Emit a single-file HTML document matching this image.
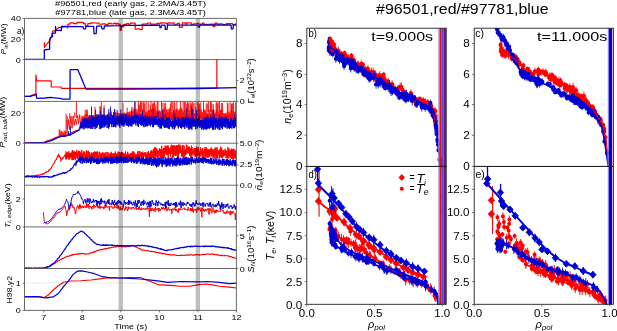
<!DOCTYPE html>
<html><head><meta charset="utf-8"><style>
html,body{margin:0;padding:0;background:#fff;overflow:hidden;}
svg{display:block;will-change:transform;}
</style></head><body>
<svg width="617" height="331" viewBox="0 0 617 331" font-family='"Liberation Sans", sans-serif'>
<rect width="617" height="331" fill="#fff"/>
<defs>
<clipPath id="cl0"><rect x="24.5" y="18.4" width="211.9" height="41.2"/></clipPath>
<clipPath id="cl1"><rect x="24.5" y="59.6" width="211.9" height="41.800000000000004"/></clipPath>
<clipPath id="cl2"><rect x="24.5" y="101.4" width="211.9" height="41.79999999999998"/></clipPath>
<clipPath id="cl3"><rect x="24.5" y="143.2" width="211.9" height="42.0"/></clipPath>
<clipPath id="cl4"><rect x="24.5" y="185.2" width="211.9" height="41.70000000000002"/></clipPath>
<clipPath id="cl5"><rect x="24.5" y="226.9" width="211.9" height="41.599999999999994"/></clipPath>
<clipPath id="cl6"><rect x="24.5" y="268.5" width="211.9" height="41.89999999999998"/></clipPath>
<clipPath id="cb"><rect x="306.8" y="28.2" width="139.4" height="138.2"/></clipPath>
<clipPath id="cc"><rect x="474.2" y="28.2" width="139.2" height="138.2"/></clipPath>
<clipPath id="cd"><rect x="306.8" y="166.4" width="139.4" height="138"/></clipPath>
<clipPath id="ce"><rect x="474.2" y="166.4" width="139.2" height="138"/></clipPath>
</defs>
<g clip-path="url(#cl0)">
<polyline points="44.3,42.2 44.3,47.6 44.3,47.09 44.9,46.29 45.5,45.88 46.1,44.83 46.7,44.41 47.3,43.6 47.9,42.71 48.5,42.28 49.1,41.29 49.7,40.83 50.3,39.63 50.9,38.09 51.5,36.25 52.1,33.5 52.7,31.02 53.3,30.93 53.9,31.03 54.5,31.07 55.1,30.58 55.7,29.97 56.3,29.82 56.9,28.76 57.5,28.75 58.1,27.91 58.7,27.46 59.3,27.36 59.9,27.39 60.5,27.61 61.1,27.14 61.7,27.3 62.3,27.25 62.9,27 63.5,27.02 64.1,26.65 64.7,26.56 65.3,26.56 65.9,26.76 66.5,26.53 67.1,26.69 67.7,27.98 68,24.05 70.13,24.05 70.13,22.83 73.12,22.83 73.12,23.37 74.73,23.37 74.73,23.66 77.04,23.66 77.04,22.31 79.87,22.31 79.87,22.41 83.32,22.41 83.32,23.71 85.36,23.71 85.36,26.48 86.74,26.48 86.74,25.87 87.84,25.87 87.84,23.65 90.75,23.65 90.75,22.93 93.94,22.93 93.94,22.99 96.68,22.99 96.68,23.14 99.13,23.14 99.13,24.23 102.23,24.23 102.23,23.86 104.41,23.86 104.41,23.97 105.56,23.97 105.56,24.5 108.18,24.5 108.18,23.45 111.24,23.45 111.24,24.02 113.2,24.02 113.2,23.66 114.26,23.66 114.26,23.08 115.68,23.08 115.68,24.1 116.83,24.1 116.83,23.24 118.15,23.24 118.15,24.2 120.13,24.2 120.13,30.32 121.33,30.32 121.33,26.9 123.7,26.9 123.7,24.45 126.75,24.45 126.75,23.6 128.45,23.6 128.45,24.25 130.34,24.25 130.34,23.04 133.74,23.04 133.74,23.17 135.18,23.17 135.18,29.05 136.76,29.05 136.76,28.85 139.23,28.85 139.23,29.23 140.24,29.23 140.24,29.58 142.17,29.58 142.17,24.08 145.55,24.08 145.55,23.94 147.84,23.94 147.84,23.01 150.53,23.01 150.53,24.14 153.78,24.14 153.78,24.13 156.96,24.13 156.96,23.47 158.94,23.47 158.94,23.83 160.2,23.83 160.2,22.91 161.36,22.91 161.36,23.05 162.88,23.05 162.88,22.85 164.73,22.85 164.73,22.99 165.73,22.99 165.73,23.32 166.99,23.32 166.99,24.13 168.05,24.13 168.05,22.95 170.58,22.95 170.58,23.24 172.22,23.24 172.22,22.86 174.13,22.86 174.13,24.23 177.25,24.23 177.25,23.39 179.41,23.39 179.41,27.36 180.63,27.36 180.63,27.11 182.48,27.11 182.48,22.88 185.56,22.88 185.56,24.17 186.61,24.17 186.61,22.91 188.93,22.91 188.93,22.75 191.29,22.75 191.29,24.3 193.61,24.3 193.61,23.88 196.77,23.88 196.77,23.38 198.42,23.38 198.42,24.05 199.84,24.05 199.84,24.09 202.17,24.09 202.17,23.22 204,23.22 204,24.47 207.03,24.47 207.03,24.23 210.16,24.23 210.16,24.16 213.2,24.16 213.2,26.7 214.77,26.7 214.77,23.05 216.66,23.05 216.66,23.46 217.73,23.46 217.73,24.14 219.38,24.14 219.38,23.77 222.77,23.77 222.77,24.67 226.11,24.67 226.11,23.7 229.5,23.7 229.5,23.5 231.05,23.5 231.05,23.48 232.54,23.48 232.54,24.62 235.1,24.62 235.1,23.97 236.4,23.97" fill="none" stroke="#ff0000" stroke-width="1.2" stroke-linejoin="round" />
<polyline points="24.5,59.3 44.3,59.3 44.3,50 49.6,49.2 49.7,39.1 50.7,37.3 52.5,36.7 52.5,33.1 55.5,33.1 55.5,26.5 55.8,30.1 59.1,30.4 61.3,30.7 61.6,26.5 83,26.6 83.5,28.9 85.5,28.9 86,26.4 93.6,26.4 94,33.7 96.2,33.7 96.6,26.2 101.5,26.2 102,28.9 104,28.9 104.5,26 118,25.6 120.5,25.4 121.2,27 122.2,25.4 130,25.3 159.5,25.2 160,27.7 161,27.7 161.5,25.2 165,25.2 165.3,29.4 167,29.4 167.4,25.2 197.8,25.2 198.5,27.2 199.5,27.2 200,25 231,25 231.4,28.9 233,28.9 233.4,25 236.4,24.8" fill="none" stroke="#0000d4" stroke-width="1.3" stroke-linejoin="round" />
</g>
<g clip-path="url(#cl1)">
<polyline points="24.5,96.3 30,96 31.7,95.3 35.5,94.2 35.9,94 35.9,75.2 36.4,78.5 36.9,80.9 37.5,80.9 51.1,80.9 51.3,87 61,87 61.5,88.3 100,88.3 150,88.4 198,88.2 216.8,88.2 216.9,55" fill="none" stroke="#ff0000" stroke-width="1.2" stroke-linejoin="round" />
<polyline points="24.5,96.3 30,96.4 31.7,96 35.9,94.6 36.3,94.2 36.5,97.9 37.5,98.4 45,98 50.6,97.4 52.5,97.6 61.8,98.7 62.2,99.2 70,99 70.1,70 71.5,69.7 77.5,69.7 78.2,70.5 85.9,89 130,89.2 198,88.5 236.4,87.6" fill="none" stroke="#0000d4" stroke-width="1.3" stroke-linejoin="round" />
</g>
<g clip-path="url(#cl2)">
<polyline points="24.5,142.78 25.3,142.85 26.1,142.49 26.9,142.78 27.7,142.9 28.5,142.84 29.3,142.83 30.1,142.69 30.9,142.54 31.7,142.84 32.5,142.62 33.3,142.85 34.1,142.94 34.9,142.65 35.7,142.65 36.5,142.92 37.3,142.81 38.1,142.54 38.9,142.51 39.7,142.53 40.5,142.84 41.3,142.69 42.1,142.26 42.9,142.5 43.7,142.48 44.5,142.1 45.3,141.65 46.1,141.45 46.9,140.95 47.7,140.6 48.5,140.79 49.3,140.33 50.1,139.97 50.9,139.86 51.7,139.29 52.5,139.19 53.3,138.84 54.1,138.22 54.9,137.92 55.7,137.65 56.5,137.35 57.3,137.24 58.1,136.79 58.9,136.59 59.7,136.32 60.5,136.61 61.3,136.22 62.1,136.16 62.9,136.08 63.7,136.1 64.5,135.72 65.3,135.83 66.1,135.46 66.9,135.13 67.7,134.79 68.5,134.2 69.3,134.07 70.1,133.58 70.9,133.03 71.7,132.97 72.5,132.2 73.3,131.89 74.1,131.58 74.9,131.19 75.7,130.78 76.5,130.57 77.3,130.29 78.1,130.09 78.9,129.35 79.7,129.18" fill="none" stroke="#ff0000" stroke-width="1.2" stroke-linejoin="round" />
<path d="M59.2,136.5V129.37M59.9,136.5V129.52M60.6,136.5V132.25M61.3,136.5V130.79M62,136.5V131.09M62.7,136.5V132.18M63.4,136.5V133.02M64.1,136.5V130.44M64.8,136.5V131.37M65.5,136.5V130.78M66.1,136V113.6M67.3,134V116" stroke="#ff0000" stroke-width="0.9" fill="none"/>
<polyline points="66.52,120.38 67.6,129.7 68.75,119.29 69.85,129.65 70.87,116.05 72.05,128.14 73.06,115.98 74.19,125.31 75.27,119.05 76.42,124.53 77.55,115.14 78.63,124.11 79.66,114.7 80.86,126.31 81.95,116.45" fill="none" stroke="#ff0000" stroke-width="0.9" stroke-linejoin="round" />
<polyline points="82,115.66 82.54,126.46 82.99,116.65 83.48,124.21 83.98,116.45 84.44,124.92 84.99,114.88 85.48,121.78 86,114.56 86.56,121.84 87.06,113.87 87.47,121.86 88.03,116.87 88.46,122.38 89.05,115.29 89.47,124.39 90.05,116.32 90.52,123.24 90.95,116.46 91.49,123.51 92.05,116.43 92.54,123.12 93.04,116.29 93.54,120.82 93.98,114.82 94.55,122.45 94.96,115.43 95.47,122.18 95.96,115.91 96.46,120.3 96.98,115.1 97.47,122.65 97.96,114.35 98.44,121.02 98.94,115.14 99.51,122.18 100,115.27 100.45,122.74 100.99,113.1 101.54,121.19 102,114.51 102.56,121.78 103.04,114.65 103.52,121.78 103.98,114.42 104.46,119.54 105.03,115.5 105.46,120.16 106.04,115.42 106.52,122.14 106.97,114.73 107.5,120.17 107.99,115.11 108.56,120.01 109.01,112.41 109.56,119.9 109.98,114.55 110.49,119.05 111,113.99 111.5,119.65 111.97,115.47 112.49,119.23 112.94,115.32 113.47,119.87 114,113.55 114.52,121.24 115.05,113.1 115.48,120.03 115.96,112.23 116.52,121.03 117.04,115.18 117.52,121.49 118.04,112.98 118.5,119.07 119.04,113.67 119.54,121.09 120.05,113.39 120.52,120.65 120.94,114.46 121.48,118.89 122.04,114.82 122.52,120.14 123.02,113.19 123.44,119.87 124.03,112.64 124.5,119.86 124.95,113.03 125.47,120.49 125.97,114.58 126.46,120.38 127.06,112.23 127.49,119.54 128.02,112.8 128.51,120.33 128.95,111.99 129.47,118.16 129.98,111.38 130.44,119.5 130.97,113.5 131.52,119.83 131.97,111.07 132.5,119.23 132.95,111.58 133.46,120.6 134.05,109.38 134.5,117.22 135.06,109.7 135.47,118.85 136.05,112.07 136.51,117.91 137,112.32 137.46,120.81 138,109.64 138.52,120.56 139.05,111.94 139.44,118.98 140,112.82 140.48,118.84 140.98,112.26 141.54,118.3 142.03,112.8 142.45,120.36 143.03,109.13 143.47,120.61 143.99,111.31 144.51,121 144.99,111.33 145.45,118.12 146.04,112.35 146.55,118.16 146.97,111.75 147.46,119.05 148.05,111.24 148.54,120.54 149.05,110.19 149.51,120.76 149.95,109.82 150.49,119.93 151.02,109.67 151.45,118.14 151.96,108.95 152.48,118.88 153.03,111.46 153.47,120.9 153.98,110 154.49,119.22 154.96,111.96 155.55,117.81 155.97,110.61 156.56,120.62 156.96,110.78 157.45,117.73 157.95,111.2 158.47,117.92 159.05,110.27 159.49,119.98 160,110.88 160.48,118.49 160.97,112.33 161.46,120.94 162.02,110.55 162.47,120.56 162.97,111.53 163.49,118.71 164.04,108.74 164.44,120.7 165.03,112.55 165.5,120.84 165.94,110.28 166.55,118.8 167.04,109.31 167.47,121.26 167.96,112.31 168.52,119.44 169.03,108.86 169.53,120 170.01,110.9 170.53,117.5 171.05,111.86 171.48,120.09 171.97,112.32 172.52,120.09 172.95,112.41 173.51,119.66 173.97,111.27 174.44,120.03 175,111.65 175.52,121.6 176,109.19 176.47,118.56 177.02,108.88 177.44,118.91 178.02,110.87 178.47,119.44 179.05,110.17 179.44,118.65 179.99,111.6 180.46,120.66 181.03,109.64 181.46,119.93 181.98,108.91 182.47,121.34 183.03,112.17 183.55,119.11 183.96,111 184.49,118.84 185.05,110.27 185.49,118.54 186.06,112.27 186.45,118.56 186.99,112.96 187.55,121.93 188.06,110.03 188.48,122.12 189.05,112.46 189.44,121.35 189.99,110.36 190.48,119.75 190.94,112.58 191.48,119.37 191.95,109.1 192.46,122.47 193.04,111.78 193.49,121.88 194,113.18 194.55,119.91 194.98,112.56 195.44,122.31 196.04,111.6 196.44,121.77 196.95,113.32 197.47,122.51 198.05,110.12 198.47,119.93 199.01,109.18 199.53,119.62 199.97,112.11 200.53,118.48 201.02,109.41 201.44,122.76 202,112.53 202.55,122.84 202.97,111.87 203.5,120.46 203.96,109.44 204.53,122.17 205.03,109.94 205.48,121.3 205.98,112.24 206.45,122.1 207.03,112.82 207.45,119.7 208.01,113.58 208.56,120.07 209.06,109.77 209.45,119.82 210,113.35 210.49,121.84 210.99,112.75 211.52,121.45 212.04,110.46 212.45,121.66 212.98,110.07 213.48,121.24 213.96,110.56 214.47,119.82 215.05,113.21 215.48,121.32 216.06,112.14 216.47,121.02 217.02,110.32 217.45,123.2 218.04,111.84 218.55,122.54 218.98,113.81 219.46,119.34 220.01,109.67 220.48,122.97 220.99,110.17 221.53,120 221.95,109.85 222.51,121.51 222.98,113.11 223.46,119.51 224.01,112.97 224.46,121.79 224.98,114.07 225.46,121.92 225.96,112.76 226.51,122.46 226.95,113.89 227.51,120.7 227.95,111.37 228.52,119.69 228.97,112.41 229.55,120.35 230.01,112.86 230.49,120.58 231.06,110.45 231.46,120.63 231.96,111.08 232.55,119.07 233.04,112.44 233.55,120.85 233.96,112.31 234.51,119.14 235.05,111.54 235.51,119.49 236,112.75" fill="none" stroke="#ff0000" stroke-width="0.9" stroke-linejoin="round" />
<path d="M69.8,119.11V113.16M74.7,117.82V112.38M85.2,116V109.7M86.6,116V110.09M87.3,116V109.47M95,115.75V106.75M99.9,115.5V105.95M100.6,115.49V106.86M101.3,115.47V101.94M104.1,115.42V105.31M114.6,115.21V109.48M123,115.04V102.78M127.2,114.34V107.58M131.4,113.08V108.6M132.1,112.87V106.93M134.2,112.24V107.01M134.9,112.03V101.39M136.3,111.97V108.85M138.4,111.93V101.27M139.1,111.92V104.42M139.8,111.9V105.43M140.5,111.89V100.58M141.2,111.88V100.87M141.9,111.86V102.54M143.3,111.83V102.16M144,111.82V102.17M144.7,111.81V103.55M146.1,111.78V100.54M148.2,111.74V102.05M150.3,111.69V105.09M151,111.68V100.7M152.4,111.65V103.79M153.1,111.64V102.63M153.8,111.62V103.35M154.5,111.61V101.55M155.2,111.6V107.46M155.9,111.58V104.53M157.3,111.55V100.87M158,111.54V101.67M161.5,111.52V102.03M162.9,111.54V102.75M164.3,111.55V102.97M165,111.56V107.55M165.7,111.57V102.81M169.9,111.62V107.54M170.6,111.63V103.35M171.3,111.64V100.77M172.7,111.66V100.87M174.1,111.68V100.6M174.8,111.68V102.72M176.9,111.71V101.77M179.7,111.75V108.52M180.4,111.75V100.89M181.1,111.76V107.3M183.2,111.79V100.84M184.6,111.81V101.98M185.3,111.82V101.49M186.7,111.83V103.87M187.4,111.84V101.24M188.1,111.85V103.21M188.8,111.86V102.7M190.2,111.88V101.01M190.9,111.89V104.9M191.6,111.89V103.29M192.3,111.9V101.72M193.7,111.92V102.7M195.1,111.94V102.73M195.8,111.95V107.25M197.2,111.96V101.88M198.6,111.98V102.65M199.3,111.99V104.03M200.7,112.02V102.36M203.5,112.1V101.04M206.3,112.17V103.21M207.7,112.21V103.6M208.4,112.23V101.56M210.5,112.29V101.37M211.2,112.31V101.06M211.9,112.33V103.91M213.3,112.37V104.21M216.1,112.44V102.73M216.8,112.46V101.86M217.5,112.48V103.27M218.9,112.52V102.12M219.6,112.54V101.92M221.7,112.6V103.12M222.4,112.62V103.03M227.3,112.75V102.7M228,112.77V103.24M230.1,112.83V102.09M231.5,112.87V103.76M232.2,112.88V103.22M232.9,112.9V103.91M233.6,112.92V101.06M235.7,112.98V102.51M76.4,118V101" stroke="#ff0000" stroke-width="0.9" fill="none"/>
<polyline points="24.5,142.92 25.3,142.99 26.1,142.9 26.9,142.96 27.7,143.03 28.5,142.91 29.3,142.86 30.1,143.08 30.9,142.78 31.7,142.97 32.5,142.86 33.3,143.01 34.1,142.75 34.9,143.09 35.7,142.84 36.5,142.72 37.3,142.81 38.1,142.86 38.9,142.71 39.7,142.87 40.5,142.87 41.3,142.98 42.1,142.84 42.9,142.81 43.7,142.79 44.5,142.78 45.3,142.62 46.1,142.21 46.9,141.84 47.7,141.83 48.5,141.42 49.3,141.1 50.1,140.81 50.9,140.75 51.7,140.44 52.5,140.05 53.3,139.67 54.1,139.38 54.9,138.93 55.7,138.77 56.5,138.06 57.3,137.7 58.1,137.3 58.9,137.03 59.7,136.73 60.5,136.51 61.3,136.46 62.1,136.14 62.9,136.37 63.7,136.11 64.5,136.25 65.3,135.96 66.1,135.93 66.9,135.68 67.7,135.55 68.5,135.25 69.3,134.98 70.1,135.04 70.9,134.43 71.7,133.99 72.5,133.59 73.3,133.21 74.1,132.71 74.9,132.31 75.7,131.84 76.5,131.24 77.3,131.05 78.1,130.7 78.9,130.06 79.7,130.05" fill="none" stroke="#0000d4" stroke-width="1.3" stroke-linejoin="round" />
<path d="M70.4,135.5V126.5M68.6,136V131" stroke="#0000d4" stroke-width="0.9" fill="none"/>
<polyline points="79.53,127.12 79.94,129.44 80.24,124.66 80.75,128.17 81.07,122.01 81.46,127.89 81.93,122.69 82.26,128.49 82.74,119.39 83.15,127.53 83.53,119.71 83.95,129.39 84.34,118.3 84.72,127.23 85.13,119.13 85.55,128.2 85.87,118.73 86.26,127.16 86.65,118.73 87.06,128.14 87.5,118.45 87.94,128.4 88.34,120.51 88.71,127.97 89.14,117.03 89.49,127.41 89.85,115.24 90.32,128.64 90.71,119.82 91.15,128.79 91.56,118.22 91.9,127.84 92.24,115.29 92.72,128.81 93.14,118.02 93.5,126.96 93.93,117 94.29,126.09 94.71,117.44 95.08,129.12 95.49,115.32 95.87,127.41 96.36,116.86 96.74,128.09 97.08,117.66 97.51,126.22 97.93,116.05 98.33,124.83 98.71,114.71 99.08,124.8 99.46,119.06 99.91,129.11 100.33,115.72 100.71,128.99 101.12,115.9 101.51,127.86 101.87,115.56 102.29,127.65 102.65,115.14 103.04,125.17 103.55,115.06 103.88,127.47 104.33,114.81 104.67,126.95 105.09,117.35 105.49,125.69 105.95,115.66 106.31,124.34 106.65,118.59 107.11,127.98 107.49,114.27 107.89,124.04 108.35,115.84 108.7,128.68 109.05,116.69 109.47,126.99 109.84,117.93 110.32,123.85 110.76,118.04 111.14,124.2 111.44,117.98 111.87,127.17 112.26,115.07 112.73,123.92 113.14,115.14 113.45,127.09 113.93,115.53 114.35,125.76 114.76,117.28 115.04,126.91 115.52,118.37 115.85,127.32 116.33,116.96 116.74,124.21 117.05,116.11 117.51,125.1 117.92,116.31 118.34,124.01 118.72,116.64 119.09,126.2 119.53,116.51 119.93,127.59 120.28,115.65 120.76,123.46 121.14,115.01 121.51,124.65 121.94,113.74 122.28,125.83 122.75,116.22 123.12,124.75 123.55,115.41 123.87,126.64 124.27,118.1 124.71,124.84 125.15,114.41 125.54,123.08 125.94,114.41 126.27,125.4 126.74,114.22 127.15,125.84 127.45,116.44 127.94,125.2 128.33,117.07 128.67,126.81 129.12,115.25 129.46,124.69 129.93,116.77 130.3,126.09 130.74,117.54 131.07,126.03 131.55,115.45 131.9,126.55 132.31,115.95 132.66,123.55 133.12,117.29 133.51,124.33 133.9,116.38 134.25,123.43 134.68,113.86 135.12,123.28 135.46,114.83 135.88,125.42 136.24,116.03 136.76,123.03 137.1,114.6 137.47,125.34 137.89,115.03 138.33,126.98 138.76,114.92 139.04,124.06 139.46,117.59 139.85,123.37 140.34,116.14 140.75,124.98 141.05,114.71 141.49,125.6 141.96,118.08 142.31,124.2 142.75,115.96 143.09,125.95 143.46,116.81 143.96,127.21 144.24,117.81 144.68,124.28 145.15,115.04 145.45,126.71 145.93,115.57 146.36,125.95 146.66,118.64 147.15,126.42 147.48,116.14 147.93,125.77 148.28,118.53 148.65,124.43 149.06,117.05 149.46,124.39 149.84,116.3 150.26,126.38 150.75,118.99 151.15,124.44 151.55,115.69 151.89,124.2 152.35,118.9 152.72,127.13 153.08,117.53 153.5,127.13 153.86,116.9 154.25,124.77 154.71,116.63 155.14,124.54 155.49,118.53 155.87,124.66 156.28,116.28 156.7,124.79 157.15,118.48 157.56,124.65 157.95,119.62 158.27,126.98 158.67,117.99 159.06,125.39 159.56,118.53 159.95,128.48 160.27,119.7 160.65,128.15 161.08,117.22 161.44,128.56 161.88,116.97 162.24,125.24 162.7,116.95 163.09,125.5 163.47,116.71 163.86,127.15 164.33,119.76 164.66,127.8 165.05,120.25 165.5,127.46 165.86,119.54 166.32,127.56 166.71,117.44 167.05,125.97 167.49,117.84 167.85,128.16 168.28,117.6 168.74,128.73 169.04,118.97 169.5,129.09 169.87,117.51 170.34,126.2 170.66,119.56 171.11,126.96 171.5,121.03 171.9,127.27 172.33,120.56 172.74,128.79 173.13,119.73 173.53,127.02 173.94,120.79 174.3,129.38 174.7,118.92 175.04,127.68 175.47,117.04 175.85,126.22 176.34,119.99 176.65,125.6 177.06,118.13 177.51,125.55 177.9,118.63 178.25,128.4 178.73,117.4 179.05,125.68 179.5,118.95 179.85,126.66 180.26,119.31 180.74,127.97 181.11,120.38 181.46,128.63 181.95,117.53 182.29,127.14 182.7,117.46 183.15,127.18 183.48,117.71 183.88,126.53 184.36,119.14 184.75,128.92 185.14,117.53 185.5,125.75 185.95,116.91 186.29,126.59 186.68,118.28 187.05,127.79 187.5,119.12 187.86,125.63 188.33,116.82 188.72,129.54 189.15,117.5 189.44,129.33 189.87,118.2 190.27,128.46 190.75,118.62 191.07,128.23 191.49,118.7 191.87,129.65 192.32,119.62 192.71,126.09 193.1,116.8 193.5,126.73 193.86,118.62 194.26,126.12 194.69,119.65 195.07,126.83 195.51,120.53 195.91,129.24 196.32,118.43 196.73,126.47 197.11,118.9 197.5,128.27 197.87,119.54 198.3,126.57 198.71,119.22 199.08,125.66 199.47,117.11 199.9,128.05 200.36,119.64 200.73,126.91 201.05,120.2 201.49,129.44 201.89,120.63 202.33,127.55 202.67,120.43 203.13,129.82 203.48,120.24 203.92,127.17 204.34,118.24 204.7,129.22 205.13,117.71 205.5,128.95 205.93,117.52 206.26,129.63 206.64,117.15 207.11,128.98 207.56,118.79 207.89,128.14 208.34,117.56 208.69,128.29 209.09,119.01 209.48,128.8 209.91,119.28 210.28,127.33 210.74,117.57 211.09,127.83 211.48,120.2 211.91,126.29 212.25,118.48 212.68,129.65 213.14,117.36 213.46,129.82 213.95,119.17 214.25,125.72 214.7,118.58 215.13,129.66 215.56,118.71 215.9,127.92 216.29,118.08 216.71,127.23 217.15,119.53 217.5,128.61 217.88,120.63 218.31,127.42 218.75,118.59 219.1,129.85 219.51,119.18 219.88,129.98 220.34,118.8 220.68,126.44 221.14,116.88 221.45,127.91 221.92,117.25 222.36,129.23 222.69,117.29 223.07,126.39 223.5,118.91 223.86,126.52 224.31,118.42 224.76,127.23 225.05,118.4 225.53,127.48 225.92,119.82 226.28,125.75 226.71,117.54 227.06,128.58 227.51,119.02 227.92,126.87 228.36,118.89 228.69,128.19 229.06,120.64 229.45,128.98 229.86,120.74 230.34,127.97 230.74,118.57 231.04,126.02 231.48,117.91 231.88,128.79 232.27,120.47 232.75,126.18 233.08,118.73 233.49,127.67 233.95,120.97 234.36,128.23 234.71,119.35 235.05,126.82 235.54,117.28 235.95,127.1 236.28,117.78" fill="none" stroke="#0000d4" stroke-width="1.0" stroke-linejoin="round" />
<path d="M95.6,116.44V109.67M96.8,116.32V114.11M100.4,115.99V110.73M104,115.93V107.85M108.8,115.85V108.94M111.2,115.81V111.53M113.6,115.77V111.78M114.8,115.75V108.82M117.2,115.71V109.98M120.8,115.65V109.35M131.6,115.62V111.68M142.4,116.43V110.81M153.2,117.32V108.47M158,117.8V111.95M162.8,118.28V109.89M165.2,118.52V113.82M173.6,118.94V109.75M174.8,118.92V113.74M186.8,118.72V108.12M191.6,118.64V107.39M192.8,118.62V108.91M196.4,118.56V109.97M198.8,118.52V114.99M207.2,118.6V115.01M210.8,118.65V115.24M213.2,118.68V109.37M214.4,118.7V114.68M219.2,118.76V113.78M225.2,118.85V116.32M234.8,118.98V113.97M91.5,120V106.5M110.5,118V106.7M135,117V101.5" stroke="#0000d4" stroke-width="0.9" fill="none"/>
</g>
<g clip-path="url(#cl3)">
<polyline points="24.5,175.61 24.85,176.24 25.2,176.63 25.55,176.63 25.9,176.71 26.25,176.37 26.6,176.31 26.95,176 27.3,175.45 27.65,175.97 28,175.95 28.35,175.89 28.7,176.17 29.05,176.26 29.4,175.95 29.75,176.37 30.1,176.2 30.45,176.36 30.8,176.41 31.15,176.45 31.5,175.97 31.85,175.87 32.2,176.08 32.55,176.41 32.9,175.37 33.25,176.26 33.6,175.86 33.95,176.2 34.3,176.07 34.65,175.78 35,175.58 35.35,175.67 35.7,175.87 36.05,175.31 36.4,175.61 36.75,175.36 37.1,175.28 37.45,175.07 37.8,174.87 38.15,175.43 38.5,175.32 38.85,175.06 39.2,175.06 39.55,175.35 39.9,175.05 40.25,175 40.6,174.72 40.95,174.82 41.3,174.39 41.65,174.03 42,174.41 42.35,174.24 42.7,173.65 43.05,173.85 43.4,173.71 43.75,173.61 44.1,174.3 44.45,173.3 44.8,173.1 45.15,172.83 45.5,172.65 45.85,171.86 46.2,172.41 46.55,172.24 46.9,171.69 47.25,171.75 47.6,171.58 47.95,171.51 48.3,171.55 48.65,170.63 49,170.05 49.35,169.69 49.7,170.14 50.05,169.26 50.4,168.96 50.75,168.71 51.1,168.06 51.45,167.6 51.8,167.16 52.15,165.96 52.5,165.85 52.85,165.46 53.2,164.28 53.55,163.58 53.9,163.56 54.25,162.69 54.6,162.27 54.95,160.97 55.3,160.88 55.65,160 56,159.82 56.35,159.39 56.7,158.04 57.05,157.71 57.4,156.47 57.75,155.93 58.1,155.67 58.45,154.17 58.8,156.84 59.15,156.7 59.5,155.87 59.85,156.6 60.2,158.12 60.55,157.41 60.9,161.38 61.25,159.67 61.6,158.86 61.95,158.84 62.3,157.82 62.65,158.87 63,158.34 63.35,157.34 63.7,156.76 64.05,156.73 64.4,155.83 64.75,154.93 65.1,155.66 65.45,155.08 65.8,155.83" fill="none" stroke="#ff0000" stroke-width="1.1" stroke-linejoin="round" />
<polyline points="65.5,155.43 65.78,159.43 66.06,151.4 66.34,159.24 66.62,153.08 66.9,157.1 67.18,152.03 67.46,158.14 67.74,153 68.02,157.35 68.3,152.86 68.58,158.79 68.86,151.17 69.14,159.76 69.42,154.13 69.7,157.11 69.98,152.69 70.26,158.36 70.54,153.09 70.82,156.56 71.1,154.5 71.38,157.22 71.66,152.45 71.94,160.11 72.22,150.41 72.5,159.69 72.78,150.07 73.06,160.11 73.34,151.54 73.62,159.48 73.9,154.5 74.18,158.89 74.46,151.47 74.74,157.02 75.02,151.59 75.3,160.14 75.58,151.98 75.86,158.77 76.14,152.87 76.42,157.25 76.7,149.95 76.98,155.21 77.26,153.43 77.54,158.94 77.82,151.93 78.1,155.62 78.38,150.8 78.66,157.37 78.94,151.14 79.22,157.61 79.5,151.34 79.78,158.39 80.06,152.01 80.34,155.79 80.62,153.34 80.9,160.01 81.18,151.32 81.46,155.85 81.74,149.85 82.02,156.79 82.3,154.07 82.58,158.33 82.86,153.11 83.14,158.14 83.42,151.53 83.7,156.72 83.98,151.49 84.26,156.04 84.54,151.85 84.82,158.72 85.1,154.4 85.38,157.83 85.66,154.5 85.94,158.02 86.22,150.38 86.5,158.6 86.78,151.12 87.06,159.6 87.34,154.35 87.62,160.65 87.9,151.22 88.18,156.22 88.46,150.79 88.74,157.92 89.02,154.13 89.3,160.56 89.58,152.14 89.86,159.78 90.14,154.44 90.42,159.8 90.7,155.02 90.98,157.22 91.26,153.24 91.54,155.8 91.82,152.23 92.1,157.15 92.38,153.72 92.66,159.58 92.94,153.14 93.22,160.37 93.5,152.3 93.78,160.32 94.06,152.62 94.34,160.52 94.62,151.35 94.9,157.07 95.18,151.94 95.46,158.02 95.74,151.93 96.02,159.59 96.3,151.74 96.58,156.91 96.86,153.79 97.14,159.87 97.42,151.38 97.7,159.83 97.98,155.7 98.26,159.35 98.54,155.38 98.82,159.14 99.1,152.16 99.38,157.04 99.66,151.74 99.94,159.72 100.22,154.66 100.5,157.51 100.78,153.75 101.06,160.34 101.34,153.16 101.62,157.05 101.9,156 102.18,157.02 102.46,152.25 102.74,157.42 103.02,153.25 103.3,157.93 103.58,152.7 103.86,158.34 104.14,155.17 104.42,160.38 104.7,153.3 104.98,159.63 105.26,152.2 105.54,160.62 105.82,155.98 106.1,158.11 106.38,155.09 106.66,158.8 106.94,151.93 107.22,160 107.5,155.78 107.78,157.28 108.06,152.13 108.34,159.49 108.62,153.88 108.9,158.63 109.18,155.01 109.46,160.1 109.74,153.86 110.02,160.19 110.3,152.93 110.58,156.62 110.86,154.14 111.14,157.38 111.42,151.82 111.7,159.02 111.98,155.64 112.26,157.11 112.54,153.97 112.82,158.49 113.1,153.04 113.38,158.13 113.66,153.99 113.94,156.05 114.22,153.02 114.5,157.85 114.78,155.75 115.06,158.39 115.34,151.45 115.62,156.32 115.9,154.96 116.18,159.22 116.46,154.32 116.74,157.52 117.02,153.31 117.3,157.45 117.58,153.02 117.86,158.6 118.14,151.53 118.42,160.36 118.7,155.57 118.98,158.7 119.26,152.22 119.54,159.88 119.82,152.2 120.1,158.96 120.38,152.73 120.66,157.83 120.94,154.21 121.22,159.54 121.5,151.82 121.78,160.05 122.06,152.53 122.34,157.52 122.62,152.21 122.9,159.28 123.18,153.2 123.46,158.87 123.74,153.86 124.02,158.52 124.3,153.61 124.58,156.23 124.86,153.9 125.14,157.54 125.42,151.37 125.7,158.19 125.98,153.75 126.26,157.15 126.54,154.34 126.82,157.61 127.1,154.82 127.38,155.79 127.66,151.77 127.94,158.01 128.22,153.4 128.5,158.46 128.78,154 129.06,156.72 129.34,155.17 129.62,157.33 129.9,153.95 130.18,159.02 130.46,152.93 130.74,159.78 131.02,153.77 131.3,159.72 131.58,152.75 131.86,156.18 132.14,154.48 132.42,158.44 132.7,151.2 132.98,157.51 133.26,151.95 133.54,157.81 133.82,151.57 134.1,156.06 134.38,153.03 134.66,159.64 134.94,153.92 135.22,157.03 135.5,155.28 135.78,156.56 136.06,153.92 136.34,158.9 136.62,154.14 136.9,157.64 137.18,154.21 137.46,158.49 137.74,151.39 138.02,158.66 138.3,154.19 138.58,159 138.86,150.97 139.14,158.46 139.42,154.8 139.7,159.28 139.98,151.24 140.26,157.33 140.54,154.43 140.82,156.58 141.1,152.53 141.38,159.53 141.66,152.08 141.94,159.71 142.22,153.97 142.5,157.23 142.78,151.59 143.06,158.63 143.34,153.01 143.62,158.75 143.9,153.3 144.18,155.76 144.46,152.93 144.74,155.66 145.02,151.99 145.3,157.23 145.58,152.53 145.86,158.39 146.14,153.61 146.42,157.8 146.7,155.05 146.98,159.71 147.26,152.07 147.54,159.89 147.82,154.49 148.1,158.27 148.38,150.97 148.66,156.84 148.94,153.93 149.22,155.78 149.5,153.46 149.78,158.68 150.06,153.64 150.34,158.81 150.62,151.57 150.9,157.45 151.18,150.56 151.46,157.44 151.74,150.03 152.02,157.57 152.3,151.51 152.58,158.16 152.86,151.75 153.14,157.93 153.42,148.89 153.7,158.17 153.98,151.1 154.26,158.07 154.54,147.43 154.82,156.31 155.1,150.93 155.38,156.6 155.66,147.15 155.94,154.07 156.22,152.64 156.5,156.13 156.78,148.19 157.06,157.68 157.34,149.69 157.62,158.72 157.9,150.38 158.18,157.42 158.46,151.26 158.74,152.5 159.02,150.74 159.3,152.72 159.58,148.23 159.86,156.06 160.14,150.29 160.42,158.18 160.7,149.01 160.98,153.36 161.26,150.27 161.54,157.08 161.82,145.72 162.1,153.43 162.38,151.49 162.66,157.29 162.94,149.72 163.22,158.41 163.5,148.02 163.78,156.47 164.06,148.97 164.34,157.41 164.62,148.2 164.9,154.51 165.18,145.58 165.46,152.9 165.74,146.5 166.02,152.51 166.3,146.98 166.58,154.99 166.86,145.69 167.14,152.42 167.42,147.4 167.7,155.03 167.98,145.3 168.26,158.2 168.54,146.95 168.82,153.72 169.1,149.36 169.38,153.98 169.66,148.09 169.94,153.75 170.22,149.67 170.5,157.13 170.78,146.72 171.06,154.2 171.34,144.65 171.62,153.59 171.9,147.1 172.18,153.11 172.46,145.31 172.74,157.76 173.02,149.06 173.3,157.07 173.58,145.51 173.86,154.05 174.14,148.61 174.42,155.43 174.7,145.12 174.98,153.13 175.26,146.34 175.54,156.14 175.82,147.78 176.1,156.02 176.38,145.16 176.66,153.51 176.94,145.16 177.22,154.59 177.5,145.76 177.78,157.72 178.06,149.71 178.34,157.73 178.62,144.53 178.9,154.15 179.18,151.14 179.46,152.71 179.74,144.64 180.02,151.67 180.3,145 180.58,153.04 180.86,146.02 181.14,152.59 181.42,149.81 181.7,156.66 181.98,150.48 182.26,154.45 182.54,144.96 182.82,156.86 183.1,145.17 183.38,158.39 183.66,151.04 183.94,153.69 184.22,145.69 184.5,156.7 184.78,150.99 185.06,155.55 185.34,149.33 185.62,155.07 185.9,150.35 186.18,151.81 186.46,144.55 186.74,154.29 187.02,145.19 187.3,152.81 187.58,147.66 187.86,152.99 188.14,148.13 188.42,153.38 188.7,146.63 188.98,153.18 189.26,146.43 189.54,155.64 189.82,150.63 190.1,154.73 190.38,148.06 190.66,158.07 190.94,149.07 191.22,153.86 191.5,145.61 191.78,157.88 192.06,146.99 192.34,154.34 192.62,150.48 192.9,154.32 193.18,151.4 193.46,152.69 193.74,148.53 194.02,155.29 194.3,148.36 194.58,155.05 194.86,152.16 195.14,156.91 195.42,148.02 195.7,156.15 195.98,148.68 196.26,156.95 196.54,146.57 196.82,157.89 197.1,147.99 197.38,155.42 197.66,150.25 197.94,155.56 198.22,146.96 198.5,155.41 198.78,150.03 199.06,155.57 199.34,151.54 199.62,158.49 199.9,152.66 200.18,156.62 200.46,147.34 200.74,154.7 201.02,148.88 201.3,155.42 201.58,150.93 201.86,154.38 202.14,151.76 202.42,157.86 202.7,148.03 202.98,158.19 203.26,152.29 203.54,157.17 203.82,150.46 204.1,156.95 204.38,149.23 204.66,155.17 204.94,147.13 205.22,152.88 205.5,148.22 205.78,158.04 206.06,149.45 206.34,156.75 206.62,147.02 206.9,154.74 207.18,148.83 207.46,157.56 207.74,150.19 208.02,157.42 208.3,150.11 208.58,156.47 208.86,148.92 209.14,157.29 209.42,150.54 209.7,157.06 209.98,149.3 210.26,154.76 210.54,148.94 210.82,155.04 211.1,147.44 211.38,156.27 211.66,148.35 211.94,156.55 212.22,149.64 212.5,154.78 212.78,151.71 213.06,158.68 213.34,149.33 213.62,156.6 213.9,149.32 214.18,158.15 214.46,151.03 214.74,154.48 215.02,147.72 215.3,156.28 215.58,148.66 215.86,158.28 216.14,147.31 216.42,158.51 216.7,152.47 216.98,155.85 217.26,147.59 217.54,158.29 217.82,151.8 218.1,154.38 218.38,150.89 218.66,153.99 218.94,150.21 219.22,158.28 219.5,149.21 219.78,156.34 220.06,152.06 220.34,156 220.62,146.61 220.9,157.75 221.18,149.6 221.46,156.53 221.74,147.61 222.02,158.13 222.3,151.56 222.58,157.72 222.86,150.07 223.14,156.82 223.42,150.91 223.7,155.91 223.98,150.22 224.26,155.99 224.54,152.71 224.82,154.78 225.1,148.78 225.38,153.64 225.66,151.31 225.94,158.03 226.22,150.62 226.5,155.66 226.78,150.84 227.06,158.72 227.34,151.99 227.62,157.61 227.9,147.05 228.18,154.83 228.46,149.6 228.74,158.54 229.02,148.39 229.3,156.02 229.58,152.41 229.86,156.49 230.14,149.96 230.42,158.16 230.7,150.56 230.98,156.37 231.26,148.49 231.54,158.78 231.82,150.42 232.1,156.35 232.38,149.17 232.66,159.45 232.94,151.73 233.22,159.72 233.5,148.7 233.78,156.44 234.06,149.09 234.34,156.24 234.62,152.97 234.9,158.7 235.18,150.97 235.46,157.5 235.74,150.42 236.02,159.5 236.3,149.17" fill="none" stroke="#ff0000" stroke-width="0.9" stroke-linejoin="round" />
<polyline points="24.5,177.22 24.85,177.16 25.2,176.78 25.55,176.32 25.9,176.79 26.25,176.89 26.6,176.39 26.95,175.97 27.3,176.82 27.65,176.32 28,176.85 28.35,176.05 28.7,176.65 29.05,176.42 29.4,176.2 29.75,176.62 30.1,176.76 30.45,176.51 30.8,176.3 31.15,176.77 31.5,176.1 31.85,176.88 32.2,176.87 32.55,177.27 32.9,177 33.25,176.82 33.6,176.79 33.95,176.71 34.3,176.25 34.65,177.2 35,176.88 35.35,176.6 35.7,176.31 36.05,177.2 36.4,176.88 36.75,176.3 37.1,176.93 37.45,177.34 37.8,176.69 38.15,176.84 38.5,176.56 38.85,176.49 39.2,177.06 39.55,177.75 39.9,176.74 40.25,176.66 40.6,176.97 40.95,176.6 41.3,176.95 41.65,176.98 42,176.35 42.35,176.34 42.7,176.67 43.05,176.98 43.4,176.79 43.75,177.12 44.1,176.23 44.45,176.87 44.8,176.49 45.15,176.73 45.5,176.81 45.85,176.37 46.2,176.62 46.55,176.3 46.9,176.79 47.25,176.41 47.6,176.53 47.95,176.77 48.3,176.57 48.65,177.29 49,176.78 49.35,177.39 49.7,177.31 50.05,176.93 50.4,177.09 50.75,176.77 51.1,176.81 51.45,176.72 51.8,177.32 52.15,176.44 52.5,177 52.85,176.5 53.2,175.79 53.55,175.33 53.9,176.23 54.25,175.21 54.6,176.01 54.95,176 55.3,175.67 55.65,175.35 56,175.21 56.35,175.27 56.7,174.96 57.05,174.77 57.4,174.71 57.75,175.11 58.1,174.39 58.45,174.61 58.8,173.99 59.15,174.04 59.5,173.71 59.85,174.01 60.2,174.21 60.55,173.98 60.9,173.61 61.25,173.88 61.6,173.45 61.95,173.59 62.3,173.46 62.65,173.45 63,172.32 63.35,172.62 63.7,173.22 64.05,172.82 64.4,173.52 64.75,172.57 65.1,172.37 65.45,172.96 65.8,172.54 66.15,172.89 66.5,172.32 66.85,171.97 67.2,172.12 67.55,171.39 67.9,171.29 68.25,171.04 68.6,170.93 68.95,171.06 69.3,170.41 69.65,170.47 70,169.97 70.35,170.23 70.7,168.78 71.05,169.42 71.4,169.17 71.75,168.25 72.1,168.47 72.45,167.7 72.8,167.56 73.15,166.96 73.5,166.35 73.85,165.59 74.2,164.09 74.55,164.43 74.9,163.71 75.25,163.9 75.6,162.74 75.95,165.76 76.3,160.89 76.65,163.19 77,161.22 77.35,161.06 77.7,161.81 78.05,160.53 78.4,158.98 78.75,160.17 79.1,159.31 79.45,157.51 79.8,159.69" fill="none" stroke="#0000d4" stroke-width="1.1" stroke-linejoin="round" />
<polyline points="79,157.27 79.28,162.05 79.56,159.22 79.84,160.55 80.12,158.45 80.4,163.24 80.68,156.48 80.96,160.95 81.24,156.23 81.52,160.05 81.8,157.28 82.08,163.54 82.36,158.2 82.64,163.49 82.92,157.1 83.2,160.2 83.48,158.25 83.76,161.89 84.04,158.6 84.32,162.92 84.6,158.9 84.88,163.09 85.16,158.41 85.44,160.36 85.72,157.45 86,160.51 86.28,157.48 86.56,163.16 86.84,157.33 87.12,162.05 87.4,159.68 87.68,162.26 87.96,159.34 88.24,162.75 88.52,159.18 88.8,162.53 89.08,158.25 89.36,161.8 89.64,157.12 89.92,160.94 90.2,159.05 90.48,163.84 90.76,158.41 91.04,163.54 91.32,156.54 91.6,162.32 91.88,159.28 92.16,160.76 92.44,156.63 92.72,160.91 93,157.98 93.28,162.62 93.56,159.56 93.84,162.41 94.12,159.39 94.4,162.69 94.68,158.1 94.96,162.11 95.24,159.34 95.52,162.28 95.8,159.36 96.08,161.19 96.36,159.25 96.64,163.93 96.92,158.31 97.2,164.02 97.48,160.43 97.76,164.21 98.04,158.46 98.32,163.77 98.6,158.23 98.88,163.47 99.16,159.53 99.44,163.7 99.72,159.89 100,162.04 100.28,160.51 100.56,162.5 100.84,158.5 101.12,162.11 101.4,157.28 101.68,161.2 101.96,158.25 102.24,161.83 102.52,158.17 102.8,163.72 103.08,157.77 103.36,161.02 103.64,159.38 103.92,163.08 104.2,156.88 104.48,160.86 104.76,158.01 105.04,163.34 105.32,157.35 105.6,162.12 105.88,157.34 106.16,162.52 106.44,156.98 106.72,160.58 107,156.9 107.28,162.3 107.56,158.62 107.84,160.97 108.12,159.21 108.4,163.34 108.68,157.65 108.96,161.22 109.24,158.78 109.52,161.15 109.8,159.33 110.08,161.46 110.36,158.79 110.64,164 110.92,156.57 111.2,163.41 111.48,158.21 111.76,162.42 112.04,157.2 112.32,163.73 112.6,157.26 112.88,162.85 113.16,159.19 113.44,162.79 113.72,156.92 114,163.28 114.28,159.62 114.56,163.04 114.84,158.54 115.12,161.02 115.4,156.49 115.68,162.85 115.96,157.15 116.24,160.86 116.52,156.86 116.8,163.64 117.08,156.61 117.36,163.02 117.64,156.81 117.92,163.18 118.2,157.56 118.48,161.94 118.76,156.78 119.04,163.08 119.32,156.62 119.6,161.39 119.88,156.32 120.16,162.21 120.44,156.35 120.72,160.59 121,156.25 121.28,163 121.56,158.64 121.84,163.13 122.12,158.7 122.4,160.88 122.68,157.84 122.96,161.02 123.24,157.69 123.52,163.28 123.8,157.03 124.08,162.64 124.36,158 124.64,162.85 124.92,156.64 125.2,162.51 125.48,156.16 125.76,162.94 126.04,157.88 126.32,160.23 126.6,157.02 126.88,162.92 127.16,158.08 127.44,162.13 127.72,156.39 128,162.74 128.28,159.57 128.56,161.72 128.84,159.46 129.12,160.23 129.4,156.4 129.68,161.43 129.96,157.04 130.24,161.58 130.52,158.03 130.8,160.72 131.08,158.02 131.36,162.96 131.64,157.14 131.92,161.14 132.2,159.22 132.48,161.11 132.76,156.97 133.04,161.8 133.32,157.16 133.6,163.07 133.88,159.22 134.16,162.72 134.44,159.67 134.72,163.23 135,159.04 135.28,161.38 135.56,156.42 135.84,161.78 136.12,158.98 136.4,163.6 136.68,157.63 136.96,163.67 137.24,158.43 137.52,162.44 137.8,156.62 138.08,162.52 138.36,156.57 138.64,161.37 138.92,157.11 139.2,161.3 139.48,158.16 139.76,160.48 140.04,159.55 140.32,164.16 140.6,158.52 140.88,163.79 141.16,159.34 141.44,162.28 141.72,160.04 142,163.06 142.28,157.31 142.56,162.98 142.84,159.01 143.12,164.39 143.4,157.31 143.68,163.61 143.96,160.38 144.24,163.52 144.52,158.91 144.8,164.65 145.08,159.27 145.36,163.75 145.64,158.36 145.92,162.81 146.2,158.79 146.48,163.92 146.76,157.57 147.04,163.36 147.32,159.46 147.6,165.1 147.88,160.86 148.16,164.79 148.44,158.34 148.72,163.96 149,159.23 149.28,164.8 149.56,157.61 149.84,164.86 150.12,158.12 150.4,161.9 150.68,159.84 150.96,162.59 151.24,157.37 151.52,165.91 151.8,160.81 152.08,164.86 152.36,158.84 152.64,162.31 152.92,159.68 153.2,165.79 153.48,158.6 153.76,163.82 154.04,158.1 154.32,163.98 154.6,159.06 154.88,164.74 155.16,157.2 155.44,165.93 155.72,157.93 156,166.19 156.28,159.91 156.56,167.42 156.84,158.33 157.12,166.2 157.4,160.42 157.68,163.5 157.96,158.91 158.24,166.75 158.52,157.91 158.8,164.49 159.08,161.15 159.36,165.3 159.64,157.52 159.92,163.42 160.2,158.11 160.48,163.45 160.76,160.13 161.04,162.67 161.32,160.19 161.6,164.55 161.88,157.09 162.16,167.15 162.44,160.76 162.72,164.13 163,157.16 163.28,163.5 163.56,160 163.84,164.74 164.12,161.18 164.4,163.8 164.68,159.59 164.96,164.43 165.24,157.02 165.52,163.8 165.8,160.56 166.08,166.75 166.36,159.27 166.64,166.42 166.92,158.38 167.2,166.14 167.48,159.91 167.76,163.06 168.04,157.83 168.32,164.7 168.6,158.69 168.88,165.6 169.16,157.82 169.44,163.69 169.72,159.6 170,166.6 170.28,158.78 170.56,163.71 170.84,158.31 171.12,163.54 171.4,157.68 171.68,162.19 171.96,157.43 172.24,164.99 172.52,159.56 172.8,166.56 173.08,159.99 173.36,163.35 173.64,161.1 173.92,164.79 174.2,157.67 174.48,165.31 174.76,159.18 175.04,165.8 175.32,160.74 175.6,163.5 175.88,158.08 176.16,166.34 176.44,158.11 176.72,165.16 177,157.5 177.28,163.79 177.56,156.81 177.84,165.26 178.12,159.36 178.4,163.68 178.68,157.32 178.96,163.43 179.24,160.09 179.52,165.61 179.8,158.42 180.08,164.11 180.36,157.82 180.64,165.61 180.92,160.29 181.2,163.2 181.48,160.67 181.76,163.5 182.04,158.48 182.32,165.25 182.6,157.78 182.88,164.11 183.16,158.88 183.44,164.04 183.72,159.46 184,165.06 184.28,157.29 184.56,164.98 184.84,160.03 185.12,164.29 185.4,157.41 185.68,163.55 185.96,156.87 186.24,165.03 186.52,157.44 186.8,164.69 187.08,157.79 187.36,164.85 187.64,160.01 187.92,164.15 188.2,157.56 188.48,163.76 188.76,159.28 189.04,161.3 189.32,157.93 189.6,164.43 189.88,159.25 190.16,161.96 190.44,159.44 190.72,161.31 191,157.62 191.28,164.67 191.56,157.16 191.84,162.38 192.12,157.51 192.4,161.01 192.68,157.03 192.96,162.09 193.24,160.4 193.52,163.12 193.8,159.59 194.08,161.74 194.36,159.94 194.64,162.31 194.92,157.92 195.2,163.43 195.48,159.95 195.76,163.39 196.04,159.55 196.32,161.26 196.6,157.62 196.88,161.62 197.16,158.6 197.44,162.3 197.72,158.98 198,162.9 198.28,158.98 198.56,162.93 198.84,157.03 199.12,161.98 199.4,159.73 199.68,162.75 199.96,159.8 200.24,161.99 200.52,158.34 200.8,160.45 201.08,157.76 201.36,162.76 201.64,157.95 201.92,161.83 202.2,158.23 202.48,162.47 202.76,159.24 203.04,163.34 203.32,156.94 203.6,163.22 203.88,157.09 204.16,161.81 204.44,157.08 204.72,160.88 205,158.62 205.28,161.21 205.56,158.75 205.84,163.09 206.12,158.03 206.4,162.45 206.68,159.23 206.96,161.6 207.24,159.08 207.52,161.99 207.8,159.86 208.08,163.47 208.36,158.83 208.64,162.62 208.92,159.96 209.2,163.49 209.48,160.02 209.76,162.15 210.04,158.87 210.32,163.59 210.6,157.73 210.88,163.78 211.16,157.86 211.44,164.32 211.72,158.55 212,163.81 212.28,160.86 212.56,162.22 212.84,161.18 213.12,164.34 213.4,158.72 213.68,163.72 213.96,160.23 214.24,162.91 214.52,160.65 214.8,163.84 215.08,158.13 215.36,162.85 215.64,161.28 215.92,162.44 216.2,160.13 216.48,164.78 216.76,158.78 217.04,163.52 217.32,161.15 217.6,162.31 217.88,160.98 218.16,164.64 218.44,159.88 218.72,165.32 219,158.57 219.28,164.82 219.56,159.93 219.84,164.97 220.12,161.25 220.4,162.58 220.68,159.71 220.96,164.12 221.24,161 221.52,163.27 221.8,161.92 222.08,165.5 222.36,159.33 222.64,165.68 222.92,158.53 223.2,164.12 223.48,159.32 223.76,163.99 224.04,159.09 224.32,165.57 224.6,161.56 224.88,162.46 225.16,161.26 225.44,164.87 225.72,160.65 226,162.52 226.28,159.14 226.56,165.67 226.84,160.41 227.12,162.84 227.4,159 227.68,164.94 227.96,162.12 228.24,164.22 228.52,159.93 228.8,166.26 229.08,160.46 229.36,165.5 229.64,161.61 229.92,164.06 230.2,159.06 230.48,164.68 230.76,162.17 231.04,165.52 231.32,162.1 231.6,164.03 231.88,160.73 232.16,165.63 232.44,160.1 232.72,166.13 233,160.87 233.28,163.52 233.56,159.84 233.84,163.49 234.12,160.81 234.4,165.16 234.68,160.08 234.96,166.41 235.24,161.85 235.52,166.24 235.8,160.07 236.08,165.62 236.36,162.4" fill="none" stroke="#0000d4" stroke-width="0.9" stroke-linejoin="round" />
</g>
<g clip-path="url(#cl4)">
<polyline points="43.4,212.1 43.4,212.44 43.8,216.46 44.2,221.46 44.6,222.66 45,223.03 45.4,223.03 45.8,222.87 46.2,223.84 46.6,223.94 47,223.6 47.4,223.94 47.8,223.54 48.2,223.99 48.6,223.45 49,222.7 49.4,222.28 49.8,222.26 50.2,221.79 50.6,221.6 51,221.01 51.4,220.45 51.8,219.68 52.2,219.32 52.6,218.7 53,218.66 53.4,218.3 53.8,218.09 54.2,217.1 54.6,217.15 55,216.45 55.4,215.38 55.8,214.7 56.2,214.4 56.6,213.63 57,213.42 57.4,213.32 57.8,213.24 58.2,212.24 58.6,212.64 59,212.37 59.4,212.37 59.8,211.6 60.2,211.83 60.6,211.12 61,210.91 61.4,210.35 61.8,210.09 62.2,209.37 62.6,209.27 63,208.47 63.4,207.69 63.8,207.49 64.2,207.12 64.6,206.08 65,206.04 65.4,206.91 65.8,209.77 66.2,210.58 66.6,215.96 67,213.91 67.4,210.97 67.8,209.93 68.2,210.68 68.6,209.55 69,205.45 69.4,205.61 69.8,207.04 70.2,205.8 70.6,205.88 71,202.55 71.4,205.8 71.8,205.74 72.2,204.48 72.6,207.48 73,206.66 73.4,207.22 73.8,208.2 74.2,207.35 74.6,209.81 75,210.96 75.4,214.1 75.8,213.29 76.2,209.35 76.6,208.36 77,206.64 77.4,207.26 77.8,205.44 78.2,205.66 78.6,208.69 79,209.24 79.4,207.66 79.8,204.07 80.2,207.88 80.6,205.03 81,208.71 81.4,207.15 81.8,207.57 82.2,205.63 82.6,207.32 83,206.15 83.4,208.02 83.8,206.2 84.2,206.41 84.6,205.71 85,206.28 85.4,207.79 85.8,206.37 86.2,207.14 86.6,203.18 87,207.88 87.4,204.87 87.8,204.09 88.2,206.75 88.6,204.08 89,208.7 89.4,206.44 89.8,206.36 90.2,207.48 90.6,206.3 91,206.69 91.4,206.9 91.8,209.28 92.2,207.63 92.6,206.08 93,206.94 93.4,204.44 93.8,208.47 94.2,205.23 94.6,206.13 95,206.63 95.4,207.28 95.8,205.79 96.2,205.94 96.6,205.94 97,203.57 97.4,206.09 97.8,207.74 98.2,208.27 98.6,205.98 99,205.64 99.4,208.2 99.8,206.48 100.2,208.71 100.6,205.99 101,207.58 101.4,206.93 101.8,207.31 102.2,208.11 102.6,207.27 103,206.98 103.4,206.98 103.8,209.18 104.2,207.95 104.6,207.1 105,205.33 105.4,207.93 105.8,206.41 106.2,205.2 106.6,207.24 107,206.25 107.4,207.23 107.8,207.57 108.2,206.95 108.6,206.46 109,207.1 109.4,210.66 109.8,206.25 110.2,205.98 110.6,206.38 111,205.91 111.4,207 111.8,206.35 112.2,207.85 112.6,207.61 113,208.66 113.4,207.56 113.8,207.86 114.2,207.97 114.6,204.05 115,207.64 115.4,207.12 115.8,206.57 116.2,207.64 116.6,206.75 117,208.46 117.4,208.23 117.8,205.92 118.2,208.68 118.6,205.65 119,208.35 119.4,210.14 119.8,209.35 120.2,206.33 120.6,209.74 121,210.1 121.4,208.18 121.8,208.11 122.2,210.27 122.6,208.39 123,205.93 123.4,207.75 123.8,207.97 124.2,208.85 124.6,210.44 125,208.88 125.4,209.44 125.8,206.23 126.2,206.88 126.6,208.19 127,208.56 127.4,210.95 127.8,210.05 128.2,206.54 128.6,209.22 129,207.13 129.4,207.59 129.8,208.2 130.2,208.1 130.6,208.43 131,207.48 131.4,209.25 131.8,207.78 132.2,207.95 132.6,207.39 133,208.33 133.4,207.15 133.8,207.07 134.2,209.32 134.6,208.9 135,208.8 135.4,208.48 135.8,207.17 136.2,206.59 136.6,209.73 137,208.37 137.4,209.09 137.8,208.51 138.2,209.53 138.6,207.05 139,209.69 139.4,205.73 139.8,208.79 140.2,210.16 140.6,208.95 141,208.86 141.4,207.57 141.8,209.77 142.2,208.66 142.6,209.5 143,209.39 143.4,208.31 143.8,207.9 144.2,209.57 144.6,209.49 145,208.93 145.4,209.35 145.8,207.92 146.2,208.78 146.6,209.67 147,209.08 147.4,205.58 147.8,209.18 148.2,208.14 148.6,208.45 149,209 149.4,216.81 149.8,206.24 150.2,207.66 150.6,211.18 151,208.1 151.4,211.12 151.8,210.72 152.2,207.79 152.6,208.6 153,210.01 153.4,211.06 153.8,208.92 154.2,209.33 154.6,208.54 155,211.77 155.4,206.8 155.8,209.37 156.2,210.15 156.6,209.53 157,208.54 157.4,209.72 157.8,208.29 158.2,207.89 158.6,211.69 159,211.52 159.4,208.17 159.8,209.09 160.2,210.89 160.6,209.14 161,208.72 161.4,208.99 161.8,206.92 162.2,209.42 162.6,208.11 163,208.82 163.4,207.27 163.8,209.06 164.2,208.63 164.6,208.47 165,210.1 165.4,206.11 165.8,208.92 166.2,206.52 166.6,207.19 167,211.16 167.4,209.48 167.8,209.95 168.2,206.82 168.6,207.49 169,209.9 169.4,209.57 169.8,210.48 170.2,209.44 170.6,209.67 171,209.79 171.4,209.13 171.8,213.61 172.2,210.38 172.6,208.67 173,209.07 173.4,208.98 173.8,210.07 174.2,208.88 174.6,207.64 175,209.41 175.4,210.63 175.8,208.71 176.2,211.01 176.6,209.11 177,209.73 177.4,211.63 177.8,210.75 178.2,212.73 178.6,208.34 179,209.49 179.4,210.35 179.8,208.97 180.2,208.26 180.6,209.92 181,209.13 181.4,209.02 181.8,208.73 182.2,209.83 182.6,209.29 183,209.27 183.4,208.51 183.8,208.67 184.2,207.7 184.6,209.78 185,209.14 185.4,208.63 185.8,209.36 186.2,209.99 186.6,210.05 187,209.15 187.4,210.37 187.8,210.55 188.2,206.99 188.6,208.03 189,210.25 189.4,209.7 189.8,210.23 190.2,210.88 190.6,208.11 191,209.78 191.4,210.85 191.8,208.16 192.2,211.48 192.6,206.9 193,209.04 193.4,212.5 193.8,209.07 194.2,209.66 194.6,209.96 195,209.13 195.4,210.51 195.8,209.57 196.2,208.63 196.6,212.75 197,210.39 197.4,208.48 197.8,206.99 198.2,209.01 198.6,210.15 199,207.72 199.4,208.85 199.8,209.45 200.2,209.59 200.6,211.45 201,207.57 201.4,208.4 201.8,217.32 202.2,207.69 202.6,209.88 203,210.21 203.4,211.11 203.8,208.77 204.2,210.65 204.6,211.66 205,209.84 205.4,210.86 205.8,208.88 206.2,211.14 206.6,209.77 207,209.57 207.4,209.96 207.8,208.27 208.2,208.2 208.6,210.49 209,214.59 209.4,210.03 209.8,208.3 210.2,210.57 210.6,209.82 211,208.51 211.4,211.75 211.8,213.35 212.2,210.63 212.6,209.52 213,207.51 213.4,211.89 213.8,210.89 214.2,211.85 214.6,213.3 215,209.96 215.4,210.89 215.8,212.79 216.2,209.5 216.6,212.23 217,210.85 217.4,210.13 217.8,210.99 218.2,211.76 218.6,210.86 219,211.27 219.4,211.83 219.8,211.99 220.2,210.57 220.6,211.35 221,208.47 221.4,209.7 221.8,210.23 222.2,210.81 222.6,211.05 223,210.17 223.4,212.25 223.8,212.98 224.2,213.66 224.6,212 225,212.52 225.4,212.98 225.8,214.15 226.2,211.54 226.6,213.08 227,210.59 227.4,210.92 227.8,210.81 228.2,213.24 228.6,212.29 229,212.65 229.4,211.51 229.8,212.59 230.2,215.15 230.6,210.77 231,211.38 231.4,214.17 231.8,211.79 232.2,213.16 232.6,213.37 233,211.18 233.4,212.83 233.8,213.29 234.2,213.91 234.6,214.29 235,213.58 235.4,219.99 235.8,213.59 236.2,213.89" fill="none" stroke="#ff0000" stroke-width="1.0" stroke-linejoin="round" />
<polyline points="43.8,223.43 44.2,222.61 44.6,222.45 45,222.56 45.4,222.87 45.8,222.45 46.2,222.8 46.6,222 47,221.64 47.4,222.03 47.8,221.62 48.2,221.09 48.6,221.72 49,221.19 49.4,220.51 49.8,220.58 50.2,219.93 50.6,220.02 51,219.01 51.4,218.46 51.8,218.21 52.2,218.06 52.6,217.48 53,216.56 53.4,215.95 53.8,215.35 54.2,215.29 54.6,214.17 55,213.95 55.4,213.64 55.8,212.73 56.2,211.7 56.6,211.72 57,211.11 57.4,210.55 57.8,210.14 58.2,210.02 58.6,209.02 59,208.96 59.4,209.13 59.8,209.3 60.2,208.66 60.6,208.92 61,208.92 61.4,208.01 61.8,207.76 62.2,207.67 62.6,207.08 63,206.44 63.4,206.18 63.8,205.74 64.2,205.44 64.6,204.75 65,203.62 65.4,202.31 65.8,201.4 66.2,200.39 66.6,199.16 67,200.7 67.4,201.1 67.8,201.59 68.2,203.61 68.6,205.1 69,207.64 69.4,209.76 69.8,208.74 70.2,205.7 70.6,203.42 71,201.78 71.4,199.79 71.8,197.66 72.2,197.49 72.6,196.63 73,195.45 73.4,194.11 73.8,194.57 74.2,194.24 74.6,194.42 75,194.09 75.4,194.78 75.8,193.84 76.2,193.38 76.6,193.23 77,193.5 77.4,193.31 77.8,191.44 78.2,191.09 78.6,192.86 79,192.85 79.4,194.24 79.8,194.16 80.2,194.54 80.6,195.83 81,196.49 81.4,198.76 81.8,198.9 82.2,198.71 82.6,199.83 83,200.63 83.4,204.11 83.8,201.65 84.2,200.75 84.6,200.59 85,199.13 85.4,201.04 85.8,203.18 86.2,201.86 86.6,202.03 87,199.47 87.4,198.35 87.8,202.49 88.2,200.33 88.6,200.64 89,198.46 89.4,203.83 89.8,203.75 90.2,198.77 90.6,200.71 91,201.22 91.4,202.28 91.8,202.99 92.2,201.55 92.6,201.49 93,202.55 93.4,199.01 93.8,201.52 94.2,201.69 94.6,202.22 95,200.17 95.4,200.76 95.8,199.97 96.2,201.59 96.6,200.2 97,205.72 97.4,200.88 97.8,203.88 98.2,200.96 98.6,201.3 99,203.37 99.4,201.56 99.8,205.43 100.2,202.75 100.6,199.3 101,204.15 101.4,198.05 101.8,201.53 102.2,200.78 102.6,202.15 103,200.85 103.4,201.39 103.8,201.52 104.2,203.3 104.6,200.71 105,201.6 105.4,205.76 105.8,205.39 106.2,204.05 106.6,202.26 107,201.33 107.4,202.39 107.8,200.18 108.2,204.05 108.6,201.12 109,198.96 109.4,203.96 109.8,204.69 110.2,203.78 110.6,203.38 111,203.14 111.4,204.83 111.8,204.52 112.2,200 112.6,203.34 113,202.33 113.4,205.03 113.8,202.03 114.2,201.89 114.6,199.93 115,202.6 115.4,203.03 115.8,204.8 116.2,202.27 116.6,204.07 117,205.92 117.4,200.73 117.8,204.28 118.2,202.58 118.6,200 119,201.37 119.4,202.74 119.8,200.9 120.2,203.73 120.6,201.46 121,204.42 121.4,202.15 121.8,204.68 122.2,204.54 122.6,204.23 123,204.67 123.4,206.78 123.8,204.37 124.2,200.27 124.6,202.15 125,204.38 125.4,204.52 125.8,202 126.2,203.72 126.6,203.05 127,202.52 127.4,202.24 127.8,203.02 128.2,204.95 128.6,200.23 129,204.71 129.4,203.36 129.8,200.49 130.2,203.5 130.6,202.83 131,201.58 131.4,203.98 131.8,202.64 132.2,204.99 132.6,205.31 133,203.85 133.4,203.82 133.8,201.68 134.2,203.14 134.6,205.06 135,206.33 135.4,200.41 135.8,203.65 136.2,203.2 136.6,206.75 137,203.86 137.4,206.67 137.8,200.03 138.2,200.5 138.6,203.59 139,201.06 139.4,200.24 139.8,202.68 140.2,202.66 140.6,203.61 141,205.85 141.4,201.89 141.8,202.3 142.2,201 142.6,203.62 143,205.21 143.4,205.26 143.8,199.79 144.2,204.31 144.6,203.05 145,202.68 145.4,201.65 145.8,202.72 146.2,204.08 146.6,204.73 147,204.94 147.4,202.32 147.8,203.65 148.2,202.24 148.6,205.12 149,207.17 149.4,201.52 149.8,205.41 150.2,206.51 150.6,200.95 151,206.7 151.4,204.59 151.8,203.63 152.2,200.11 152.6,201.69 153,202.25 153.4,205.11 153.8,203.64 154.2,204.16 154.6,204.05 155,204.62 155.4,203.37 155.8,206.06 156.2,200.28 156.6,202.38 157,203.3 157.4,202.52 157.8,206.08 158.2,203.23 158.6,200.88 159,203.11 159.4,203.25 159.8,202.67 160.2,202.93 160.6,203.17 161,205.18 161.4,203.77 161.8,204.58 162.2,203.9 162.6,206.03 163,204.13 163.4,204.52 163.8,205.83 164.2,206.24 164.6,206.06 165,202.82 165.4,201.88 165.8,208 166.2,201.79 166.6,202.9 167,201.72 167.4,204.51 167.8,204.01 168.2,200.22 168.6,205.88 169,203.2 169.4,205.91 169.8,205.66 170.2,204.09 170.6,205.75 171,202.77 171.4,204.12 171.8,203.77 172.2,204.29 172.6,204.96 173,204.37 173.4,203.36 173.8,205.15 174.2,203.48 174.6,205.41 175,202.69 175.4,202.14 175.8,207.73 176.2,201.95 176.6,205.39 177,206.75 177.4,205.24 177.8,204.77 178.2,203.91 178.6,203.97 179,202.73 179.4,204.91 179.8,205.22 180.2,201.91 180.6,200.63 181,208 181.4,203.81 181.8,202.34 182.2,202.37 182.6,205.36 183,206.18 183.4,202.57 183.8,203.52 184.2,204.99 184.6,203.28 185,204.59 185.4,204.73 185.8,205.26 186.2,205.72 186.6,204.3 187,203.1 187.4,201.91 187.8,203.96 188.2,202.47 188.6,203.39 189,203.73 189.4,203.92 189.8,205.57 190.2,204.6 190.6,204.22 191,206.68 191.4,204.15 191.8,206.98 192.2,204.04 192.6,204.7 193,202.43 193.4,204.22 193.8,202.61 194.2,206.34 194.6,204.41 195,206.35 195.4,204.89 195.8,202.49 196.2,200.37 196.6,203.93 197,203.2 197.4,203.39 197.8,204.6 198.2,204.28 198.6,203.66 199,204.6 199.4,203 199.8,202.65 200.2,203.32 200.6,205.82 201,205.15 201.4,203.61 201.8,204.86 202.2,205.24 202.6,202.55 203,207.28 203.4,203.71 203.8,202.56 204.2,204.46 204.6,204.65 205,206.48 205.4,206.43 205.8,203.73 206.2,203.56 206.6,203.94 207,203.96 207.4,202.93 207.8,204.33 208.2,206.52 208.6,206.01 209,204.05 209.4,202.6 209.8,205.66 210.2,206.58 210.6,202.38 211,205.51 211.4,207.47 211.8,206.47 212.2,205.75 212.6,204.66 213,203.8 213.4,205.3 213.8,206.77 214.2,205.99 214.6,206.17 215,204.69 215.4,204.53 215.8,207.16 216.2,205.09 216.6,206.43 217,204.21 217.4,203.3 217.8,205.23 218.2,205.42 218.6,200.93 219,203.64 219.4,205.61 219.8,204.64 220.2,209.38 220.6,205.08 221,206 221.4,207.49 221.8,202.42 222.2,205.48 222.6,204.5 223,209.15 223.4,206.34 223.8,204.03 224.2,206.93 224.6,207.27 225,207.61 225.4,207.73 225.8,205.38 226.2,204.15 226.6,206.69 227,206.21 227.4,205.73 227.8,203.62 228.2,207.57 228.6,207.49 229,208.64 229.4,207.42 229.8,206.54 230.2,205.41 230.6,206.43 231,205.57 231.4,206.78 231.8,205.91 232.2,208.93 232.6,207.07 233,208.08 233.4,207.47 233.8,207.05 234.2,204.43 234.6,207.06 235,207.04 235.4,209.58 235.8,206.06 236.2,209.14" fill="none" stroke="#0000d4" stroke-width="1.0" stroke-linejoin="round" />
</g>
<g clip-path="url(#cl5)">
<polyline points="24.5,268.5 25,268.16 25.5,268.46 26,268.11 26.5,268.35 27,268.4 27.5,268.21 28,268.29 28.5,268 29,268.4 29.5,268.43 30,268.06 30.5,268.34 31,268.46 31.5,268.02 32,268.54 32.5,268.56 33,267.99 33.5,268.12 34,268.01 34.5,268.13 35,268.01 35.5,268.29 36,268.13 36.5,268.16 37,268.27 37.5,268.21 38,268.5 38.5,268.46 39,268.03 39.5,268.11 40,267.96 40.5,268.18 41,268.03 41.5,268.44 42,268.5 42.5,268.65 43,268.06 43.5,267.78 44,268.13 44.5,267.73 45,267.93 45.5,267.4 46,267.18 46.5,266.85 47,267.31 47.5,266.84 48,266.63 48.5,266.47 49,266.54 49.5,266.43 50,265.97 50.5,265.48 51,265.35 51.5,265.41 52,264.78 52.5,264.68 53,264.32 53.5,263.97 54,263.76 54.5,263.25 55,263.17 55.5,263.06 56,262.17 56.5,262.04 57,262.07 57.5,261.8 58,260.79 58.5,260.89 59,260.56 59.5,260.37 60,259.78 60.5,259.21 61,259.02 61.5,259.09 62,258.89 62.5,258.31 63,258.4 63.5,258.2 64,257.99 64.5,257.33 65,257.41 65.5,257.12 66,257.09 66.5,256.7 67,256.34 67.5,256.57 68,256.16 68.5,256.36 69,255.88 69.5,255.9 70,255.93 70.5,255.3 71,255.59 71.5,254.97 72,255.43 72.5,254.65 73,254.99 73.5,254.6 74,254.35 74.5,254.43 75,254.43 75.5,254.29 76,254.02 76.5,254.22 77,254 77.5,254.39 78,253.91 78.5,253.87 79,253.66 79.5,254.1 80,253.58 80.5,253.73 81,253.85 81.5,253.58 82,253.87 82.5,253.58 83,253.49 83.5,253.48 84,253.8 84.5,254.14 85,253.7 85.5,253.91 86,254.17 86.5,253.86 87,253.81 87.5,254.11 88,253.91 88.5,254.11 89,253.91 89.5,253.28 90,253.34 90.5,253.07 91,252.64 91.5,252.76 92,252.92 92.5,252.33 93,252.36 93.5,252.27 94,251.64 94.5,252.07 95,251.33 95.5,251.29 96,251.41 96.5,250.75 97,250.82 97.5,250.48 98,250.56 98.5,250.11 99,250.08 99.5,250.01 100,249.79 100.5,249.67 101,249.62 101.5,249.73 102,249.34 102.5,249.69 103,249.29 103.5,249.05 104,248.92 104.5,249.21 105,248.54 105.5,248.93 106,248.38 106.5,248.87 107,248.4 107.5,248.43 108,248.51 108.5,247.88 109,247.75 109.5,248.1 110,247.92 110.5,247.91 111,247.5 111.5,247.56 112,247.24 112.5,247.32 113,247.11 113.5,247.23 114,246.97 114.5,246.89 115,247.08 115.5,246.62 116,247.06 116.5,246.78 117,246.53 117.5,246.38 118,246.59 118.5,246.52 119,246.61 119.5,246.3 120,246.26 120.5,246.59 121,246.18 121.5,246.7 122,246.67 122.5,246.76 123,246.76 123.5,246.3 124,246.72 124.5,246.6 125,246.34 125.5,246.92 126,246.7 126.5,246.74 127,246.48 127.5,246.07 128,246.54 128.5,245.98 129,245.96 129.5,246.13 130,245.76 130.5,245.87 131,245.96 131.5,245.45 132,245.77 132.5,245.3 133,245.48 133.5,245.84 134,246.11 134.5,245.9 135,246.24 135.5,247.02 136,246.86 136.5,247.12 137,247.32 137.5,247.79 138,248.06 138.5,248.23 139,248.3 139.5,248.65 140,248.86 140.5,248.86 141,249.64 141.5,249.89 142,249.99 142.5,250.23 143,249.94 143.5,250.28 144,249.95 144.5,250.38 145,250.45 145.5,250.68 146,250.69 146.5,250.81 147,250.46 147.5,250.91 148,250.77 148.5,250.74 149,250.86 149.5,251.25 150,251.36 150.5,251.44 151,251.4 151.5,251.14 152,251.21 152.5,251.59 153,251.44 153.5,251.63 154,251.57 154.5,251.71 155,252.21 155.5,251.97 156,252.51 156.5,252.25 157,252.72 157.5,252.44 158,252.51 158.5,252.71 159,252.54 159.5,252.94 160,253.01 160.5,252.85 161,253.55 161.5,253.31 162,253.15 162.5,253.93 163,253.52 163.5,253.64 164,253.58 164.5,253.73 165,254.21 165.5,254.17 166,254.17 166.5,254.04 167,254.12 167.5,254.65 168,254.28 168.5,254.76 169,254.74 169.5,254.26 170,254.82 170.5,254.29 171,254.83 171.5,254.95 172,254.92 172.5,254.87 173,255.1 173.5,254.69 174,255.02 174.5,254.88 175,255.02 175.5,254.93 176,255.34 176.5,255.3 177,255.49 177.5,255.44 178,255.47 178.5,255.68 179,255.58 179.5,255.39 180,255.21 180.5,255.61 181,255.2 181.5,255 182,255.14 182.5,255.38 183,255.52 183.5,255.31 184,255.3 184.5,255.47 185,255.34 185.5,255.09 186,255.09 186.5,255.28 187,254.95 187.5,254.79 188,255.13 188.5,255.24 189,254.83 189.5,255.12 190,255.25 190.5,254.69 191,254.68 191.5,254.91 192,254.78 192.5,255.21 193,255.25 193.5,254.86 194,255.11 194.5,254.99 195,254.67 195.5,255.23 196,254.67 196.5,254.6 197,254.87 197.5,254.56 198,254.89 198.5,254.84 199,255.2 199.5,254.78 200,255.05 200.5,254.96 201,254.79 201.5,254.51 202,254.52 202.5,254.61 203,254.51 203.5,254.64 204,254.51 204.5,254.34 205,254.51 205.5,254.74 206,254.15 206.5,254.2 207,253.94 207.5,253.96 208,253.9 208.5,254.12 209,254.37 209.5,254.24 210,254.39 210.5,254.26 211,254.09 211.5,254.15 212,253.82 212.5,254.15 213,254.14 213.5,254.46 214,254.14 214.5,254.54 215,254.49 215.5,254.64 216,254.65 216.5,254.5 217,255.01 217.5,255.13 218,255.06 218.5,254.79 219,255.19 219.5,255.45 220,255.6 220.5,255.51 221,255.08 221.5,255.69 222,255.57 222.5,255.33 223,255.81 223.5,255.77 224,255.85 224.5,255.42 225,255.68 225.5,255.57 226,255.54 226.5,255.9 227,255.82 227.5,255.65 228,255.83 228.5,256.25 229,256.16 229.5,256.55 230,256.47 230.5,256.92 231,256.4 231.5,256.86 232,257.07 232.5,257.35 233,257.68 233.5,257.59 234,257.64 234.5,257.91 235,257.99 235.5,258.26 236,258.59" fill="none" stroke="#ff0000" stroke-width="1.1" stroke-linejoin="round" />
<polyline points="24.5,267.91 25,268.16 25.5,268.6 26,267.95 26.5,268.53 27,267.92 27.5,268.42 28,268.54 28.5,268.09 29,268.2 29.5,268.08 30,268.46 30.5,268.32 31,268.38 31.5,268.16 32,268.37 32.5,268.66 33,268.52 33.5,268.66 34,268.1 34.5,268.31 35,268.21 35.5,268.18 36,268.54 36.5,268.04 37,268.35 37.5,268.52 38,268.65 38.5,267.91 39,268.12 39.5,268.29 40,268.65 40.5,268.03 41,268.57 41.5,268.22 42,268.34 42.5,268.64 43,267.95 43.5,268.16 44,268.02 44.5,268.01 45,267.97 45.5,268.08 46,267.77 46.5,267.19 47,267.53 47.5,267.08 48,266.58 48.5,266.91 49,266.7 49.5,266 50,266.29 50.5,265.8 51,264.94 51.5,264.37 52,264.67 52.5,264.24 53,263.27 53.5,263.41 54,263.02 54.5,262.52 55,262.25 55.5,261.77 56,260.64 56.5,260.45 57,259.92 57.5,258.83 58,258.53 58.5,257.93 59,257.46 59.5,256.63 60,255.8 60.5,255.18 61,254.79 61.5,253.73 62,253.58 62.5,252.88 63,251.63 63.5,251.26 64,250.52 64.5,249.35 65,249.14 65.5,248.4 66,247.3 66.5,246.41 67,245.83 67.5,245.55 68,244.65 68.5,244.26 69,243.08 69.5,242.37 70,241.9 70.5,241.66 71,240.43 71.5,239.72 72,239.65 72.5,238.52 73,238.37 73.5,237.3 74,236.82 74.5,236.55 75,236.11 75.5,235.13 76,234.73 76.5,233.97 77,233.79 77.5,233.28 78,233.29 78.5,232.8 79,232.43 79.5,232.03 80,231.97 80.5,231.32 81,231.34 81.5,231.07 82,231.25 82.5,231.9 83,231.76 83.5,232.12 84,232.37 84.5,233.28 85,233.59 85.5,233.94 86,234.35 86.5,235.27 87,235.77 87.5,235.86 88,236.47 88.5,237.22 89,237.25 89.5,237.76 90,238.15 90.5,238.99 91,239.71 91.5,239.68 92,240.36 92.5,241.26 93,241.31 93.5,241.69 94,242.51 94.5,242.98 95,242.89 95.5,243.02 96,243.76 96.5,244.17 97,244.64 97.5,244.51 98,244.31 98.5,244.56 99,244.46 99.5,244.66 100,244.76 100.5,245.2 101,245.28 101.5,245.34 102,244.99 102.5,245.39 103,244.73 103.5,245.36 104,245.14 104.5,245.34 105,244.97 105.5,245.44 106,244.67 106.5,245.34 107,245.32 107.5,244.97 108,245.34 108.5,244.85 109,245.29 109.5,245.07 110,245.04 110.5,244.9 111,245.42 111.5,245.4 112,244.92 112.5,245.67 113,245.1 113.5,245.26 114,245.33 114.5,245.49 115,245.78 115.5,245.86 116,245.65 116.5,245.47 117,245.29 117.5,245.28 118,245.65 118.5,245.72 119,245.62 119.5,246.07 120,245.63 120.5,245.59 121,245.66 121.5,245.48 122,246.11 122.5,245.85 123,245.82 123.5,245.74 124,245.62 124.5,245.69 125,245.84 125.5,245.82 126,246.26 126.5,245.94 127,245.67 127.5,245.57 128,245.67 128.5,245.83 129,246.2 129.5,246.3 130,245.79 130.5,246.21 131,245.92 131.5,245.98 132,245.96 132.5,245.55 133,245.55 133.5,246.02 134,246.02 134.5,245.75 135,246.17 135.5,246.07 136,245.64 136.5,245.44 137,245.81 137.5,245.87 138,245.51 138.5,245.35 139,245.69 139.5,245.31 140,245.86 140.5,245.75 141,245.46 141.5,245.57 142,245.39 142.5,245.33 143,245.31 143.5,245.8 144,245.5 144.5,245.69 145,245.38 145.5,245.85 146,245.78 146.5,245.92 147,245.81 147.5,246.05 148,245.85 148.5,246.58 149,246.44 149.5,246.43 150,246.61 150.5,246.28 151,246.57 151.5,246.58 152,247.17 152.5,246.61 153,247.06 153.5,247.49 154,247.53 154.5,247.58 155,247.34 155.5,247.39 156,247.86 156.5,247.64 157,248.08 157.5,247.88 158,248.36 158.5,248.36 159,248.71 159.5,249 160,248.67 160.5,249.31 161,248.68 161.5,249.53 162,249 162.5,249.57 163,249.59 163.5,250.05 164,249.84 164.5,249.91 165,250.52 165.5,250.49 166,250.8 166.5,250.5 167,250.05 167.5,250.55 168,250.02 168.5,250.13 169,249.67 169.5,249.78 170,250.02 170.5,250.01 171,249.82 171.5,249.58 172,249.72 172.5,249.58 173,249.12 173.5,249.29 174,249.26 174.5,249.27 175,248.76 175.5,248.75 176,248.68 176.5,248.38 177,248.49 177.5,248.69 178,248.47 178.5,248.05 179,248.4 179.5,247.81 180,248.22 180.5,247.64 181,247.5 181.5,247.52 182,247.64 182.5,247.34 183,247.73 183.5,247.68 184,247.06 184.5,247.33 185,247.19 185.5,246.98 186,246.64 186.5,247.1 187,247.06 187.5,246.28 188,246.52 188.5,246.5 189,246.38 189.5,246.55 190,246.91 190.5,246.19 191,246.83 191.5,246.39 192,246.13 192.5,246.83 193,246.31 193.5,246.24 194,246.15 194.5,246.33 195,246.12 195.5,246.15 196,246.19 196.5,246.44 197,246.31 197.5,246.18 198,246.34 198.5,246.53 199,246.48 199.5,246.17 200,246.63 200.5,246.53 201,246.35 201.5,246.28 202,246.16 202.5,246.01 203,246.61 203.5,246.39 204,245.98 204.5,246.64 205,246.61 205.5,245.93 206,246.46 206.5,246.09 207,246.33 207.5,246.57 208,246.18 208.5,246.3 209,246.43 209.5,246.05 210,246.4 210.5,246.24 211,246.69 211.5,246.05 212,246.47 212.5,245.93 213,246.17 213.5,246.1 214,246.18 214.5,246.54 215,246.31 215.5,246.86 216,246.36 216.5,246.84 217,247.08 217.5,246.55 218,246.68 218.5,247.17 219,246.99 219.5,247.41 220,246.99 220.5,247.1 221,247.6 221.5,247.16 222,247.72 222.5,247.71 223,247.21 223.5,247.54 224,247.91 224.5,247.31 225,247.95 225.5,247.95 226,247.98 226.5,247.92 227,247.57 227.5,248.31 228,247.68 228.5,248.38 229,248.49 229.5,248.32 230,248.77 230.5,248.7 231,249.13 231.5,248.72 232,249.58 232.5,249.3 233,249.79 233.5,249.68 234,250.11 234.5,249.85 235,250.2 235.5,249.94 236,250.47" fill="none" stroke="#0000d4" stroke-width="1.2" stroke-linejoin="round" />
</g>
<g clip-path="url(#cl6)">
<line x1="24.5" y1="282.9" x2="236.4" y2="282.9" stroke="#d4d4d4" stroke-width="0.9" stroke-dasharray="1.2,1.2"/>
<polyline points="24.5,296.9 41,297 43.8,297.8 48,295.3 53.2,290 58.4,285.8 63.5,282.3 70.4,281 80.7,280.7 91,280 99.6,278.9 108,277.7 118.5,278 130,277.5 140.3,277.5 150.6,281.5 159.2,284.9 171.2,285.4 179.8,286.3 190,286.3 198.7,284.6 205.6,284 212.5,284.9 219.3,286.3 229.6,287.1 236.4,288" fill="none" stroke="#ff0000" stroke-width="1.1" stroke-linejoin="round" />
<polyline points="24.5,296.6 37.7,296.6 42.9,297.4 46.3,297.8 53.2,296.9 58.4,293.5 63.5,286.6 68.7,280.6 73,274.6 77.3,271.2 81.6,270.8 87.6,272 94.4,273.7 101.3,276.3 108.2,277.7 118.5,278 130,278.4 140.3,279 155.8,280.6 167.8,282.3 181.5,281.5 198.7,281.8 207.3,281.5 219.3,282.3 229.6,283.7 236.4,283.2" fill="none" stroke="#0000d4" stroke-width="1.2" stroke-linejoin="round" />
</g>
<rect x="118.6" y="18.4" width="4.3" height="292" fill="#000" fill-opacity="0.255"/>
<rect x="195.7" y="18.4" width="4.3" height="292" fill="#000" fill-opacity="0.255"/>
<line x1="24.5" y1="18.4" x2="236.4" y2="18.4" stroke="#505050" stroke-width="0.85" />
<line x1="24.5" y1="59.6" x2="236.4" y2="59.6" stroke="#505050" stroke-width="0.85" />
<line x1="24.5" y1="101.4" x2="236.4" y2="101.4" stroke="#505050" stroke-width="0.85" />
<line x1="24.5" y1="143.2" x2="236.4" y2="143.2" stroke="#505050" stroke-width="0.85" />
<line x1="24.5" y1="185.2" x2="236.4" y2="185.2" stroke="#505050" stroke-width="0.85" />
<line x1="24.5" y1="226.9" x2="236.4" y2="226.9" stroke="#505050" stroke-width="0.85" />
<line x1="24.5" y1="268.5" x2="236.4" y2="268.5" stroke="#505050" stroke-width="0.85" />
<line x1="24.5" y1="310.4" x2="236.4" y2="310.4" stroke="#505050" stroke-width="0.85" />
<line x1="24.5" y1="18.4" x2="24.5" y2="310.4" stroke="#505050" stroke-width="0.85" />
<line x1="236.4" y1="18.4" x2="236.4" y2="310.4" stroke="#505050" stroke-width="0.85" />
<line x1="22.5" y1="18.4" x2="24.5" y2="18.4" stroke="#505050" stroke-width="0.8" />
<line x1="22.5" y1="39" x2="24.5" y2="39" stroke="#505050" stroke-width="0.8" />
<line x1="22.5" y1="59.6" x2="24.5" y2="59.6" stroke="#505050" stroke-width="0.8" />
<line x1="22.5" y1="112.4" x2="24.5" y2="112.4" stroke="#505050" stroke-width="0.8" />
<line x1="22.5" y1="143.2" x2="24.5" y2="143.2" stroke="#505050" stroke-width="0.8" />
<line x1="22.5" y1="199" x2="24.5" y2="199" stroke="#505050" stroke-width="0.8" />
<line x1="22.5" y1="226.9" x2="24.5" y2="226.9" stroke="#505050" stroke-width="0.8" />
<line x1="22.5" y1="283.2" x2="24.5" y2="283.2" stroke="#505050" stroke-width="0.8" />
<line x1="22.5" y1="310.4" x2="24.5" y2="310.4" stroke="#505050" stroke-width="0.8" />
<line x1="236.4" y1="80.6" x2="238.4" y2="80.6" stroke="#505050" stroke-width="0.8" />
<line x1="236.4" y1="101.4" x2="238.4" y2="101.4" stroke="#505050" stroke-width="0.8" />
<line x1="236.4" y1="143.2" x2="238.4" y2="143.2" stroke="#505050" stroke-width="0.8" />
<line x1="236.4" y1="164.9" x2="238.4" y2="164.9" stroke="#505050" stroke-width="0.8" />
<line x1="236.4" y1="185.2" x2="238.4" y2="185.2" stroke="#505050" stroke-width="0.8" />
<line x1="236.4" y1="235.7" x2="238.4" y2="235.7" stroke="#505050" stroke-width="0.8" />
<line x1="236.4" y1="268.5" x2="238.4" y2="268.5" stroke="#505050" stroke-width="0.8" />
<line x1="43.75" y1="310.4" x2="43.75" y2="312.4" stroke="#505050" stroke-width="0.8" />
<line x1="82.3" y1="310.4" x2="82.3" y2="312.4" stroke="#505050" stroke-width="0.8" />
<line x1="120.85" y1="310.4" x2="120.85" y2="312.4" stroke="#505050" stroke-width="0.8" />
<line x1="159.4" y1="310.4" x2="159.4" y2="312.4" stroke="#505050" stroke-width="0.8" />
<line x1="197.95" y1="310.4" x2="197.95" y2="312.4" stroke="#505050" stroke-width="0.8" />
<line x1="236.5" y1="310.4" x2="236.5" y2="312.4" stroke="#505050" stroke-width="0.8" />
<text x="20.9" y="21.45" font-size="7.9" text-anchor="end" fill="#000" textLength="10.04" lengthAdjust="spacingAndGlyphs"  >40</text>
<text x="20.9" y="41.85" font-size="7.9" text-anchor="end" fill="#000" textLength="10.04" lengthAdjust="spacingAndGlyphs"  >20</text>
<text x="20.9" y="62.65" font-size="7.9" text-anchor="end" fill="#000" textLength="5.02" lengthAdjust="spacingAndGlyphs"  >0</text>
<text x="20.9" y="115.75" font-size="7.9" text-anchor="end" fill="#000" textLength="10.04" lengthAdjust="spacingAndGlyphs"  >20</text>
<text x="20.9" y="146.25" font-size="7.9" text-anchor="end" fill="#000" textLength="5.02" lengthAdjust="spacingAndGlyphs"  >0</text>
<text x="20.9" y="201.85" font-size="7.9" text-anchor="end" fill="#000" textLength="5.02" lengthAdjust="spacingAndGlyphs"  >2</text>
<text x="20.9" y="229.95" font-size="7.9" text-anchor="end" fill="#000" textLength="5.02" lengthAdjust="spacingAndGlyphs"  >0</text>
<text x="20.9" y="286.05" font-size="7.9" text-anchor="end" fill="#000" textLength="5.02" lengthAdjust="spacingAndGlyphs"  >1</text>
<text x="20.9" y="313.45" font-size="7.9" text-anchor="end" fill="#000" textLength="5.02" lengthAdjust="spacingAndGlyphs"  >0</text>
<text x="239.8" y="83.45" font-size="7.9" text-anchor="start" fill="#000" textLength="5.02" lengthAdjust="spacingAndGlyphs"  >2</text>
<text x="239.8" y="104.25" font-size="7.9" text-anchor="start" fill="#000" textLength="5.02" lengthAdjust="spacingAndGlyphs"  >0</text>
<text x="239.8" y="146.25" font-size="7.9" text-anchor="start" fill="#000" textLength="12.54" lengthAdjust="spacingAndGlyphs"  >5.0</text>
<text x="239.8" y="167.35" font-size="7.9" text-anchor="start" fill="#000" textLength="12.54" lengthAdjust="spacingAndGlyphs"  >2.5</text>
<text x="239.8" y="188.15" font-size="7.9" text-anchor="start" fill="#000" textLength="12.54" lengthAdjust="spacingAndGlyphs"  >0.0</text>
<text x="239.8" y="238.55" font-size="7.9" text-anchor="start" fill="#000" textLength="5.02" lengthAdjust="spacingAndGlyphs"  >5</text>
<text x="239.8" y="271.55" font-size="7.9" text-anchor="start" fill="#000" textLength="5.02" lengthAdjust="spacingAndGlyphs"  >0</text>
<text x="43.75" y="320.1" font-size="7.9" text-anchor="middle" fill="#000" textLength="5.02" lengthAdjust="spacingAndGlyphs"  >7</text>
<text x="82.3" y="320.1" font-size="7.9" text-anchor="middle" fill="#000" textLength="5.02" lengthAdjust="spacingAndGlyphs"  >8</text>
<text x="120.85" y="320.1" font-size="7.9" text-anchor="middle" fill="#000" textLength="5.02" lengthAdjust="spacingAndGlyphs"  >9</text>
<text x="159.4" y="320.1" font-size="7.9" text-anchor="middle" fill="#000" textLength="10.04" lengthAdjust="spacingAndGlyphs"  >10</text>
<text x="197.95" y="320.1" font-size="7.9" text-anchor="middle" fill="#000" textLength="10.04" lengthAdjust="spacingAndGlyphs"  >11</text>
<text x="236.5" y="320.1" font-size="7.9" text-anchor="middle" fill="#000" textLength="10.04" lengthAdjust="spacingAndGlyphs"  >12</text>
<text x="130.7" y="329.4" font-size="7.9" text-anchor="middle" fill="#000" textLength="33" lengthAdjust="spacingAndGlyphs"  >Time (s)</text>
<text x="17" y="34" font-size="8.8" text-anchor="start" fill="#000" textLength="7.4" lengthAdjust="spacingAndGlyphs"  >a)</text>
<text x="130.5" y="5.8" font-size="7.9" text-anchor="middle" fill="#000" textLength="151" lengthAdjust="spacingAndGlyphs"  >#96501,red (early gas, 2.2MA/3.45T)</text>
<text x="130.6" y="14.5" font-size="7.9" text-anchor="middle" fill="#000" textLength="150.6" lengthAdjust="spacingAndGlyphs"  >#97781,blue (late gas, 2.3MA/3.45T)</text>
<text transform="translate(6.4,39) rotate(-90)" x="0" y="0" font-size="7.9" text-anchor="middle" fill="#000" textLength="30.9" lengthAdjust="spacingAndGlyphs"><tspan font-style="italic">P</tspan><tspan font-size="5.4" dy="1.2">in</tspan><tspan dy="-1.2">(MW)</tspan></text>
<text transform="translate(5.4,122.2) rotate(-90)" x="0" y="0" font-size="7.9" text-anchor="middle" fill="#000" textLength="51" lengthAdjust="spacingAndGlyphs"><tspan font-style="italic">P</tspan><tspan font-size="5.4" dy="1.2" font-style="italic">rad, bulk</tspan><tspan dy="-1.2">(MW)</tspan></text>
<text transform="translate(10.2,205.7) rotate(-90)" x="0" y="0" font-size="7.9" text-anchor="middle" fill="#000" textLength="44.7" lengthAdjust="spacingAndGlyphs"><tspan font-style="italic">T</tspan><tspan font-size="5.4" dy="1.2" font-style="italic">i, edge</tspan><tspan dy="-1.2">(keV)</tspan></text>
<text transform="translate(12.2,289.7) rotate(-90)" x="0" y="0" font-size="7.9" text-anchor="middle" fill="#000" textLength="27.4" lengthAdjust="spacingAndGlyphs">H98,y2</text>
<text transform="translate(253.5,80.9) rotate(-90)" x="0" y="0" font-size="8.3" text-anchor="middle" fill="#000" textLength="45.2" lengthAdjust="spacingAndGlyphs">Γ<tspan font-size="5.4" dy="1.2">el</tspan><tspan dy="-1.2">(10</tspan><tspan font-size="5.4" dy="-3">22</tspan><tspan dy="3">s</tspan><tspan font-size="5.4" dy="-3">−2</tspan><tspan dy="3">)</tspan></text>
<text transform="translate(262.2,165) rotate(-90)" x="0" y="0" font-size="8.3" text-anchor="middle" fill="#000" textLength="51" lengthAdjust="spacingAndGlyphs"><tspan font-style="italic">n̄</tspan><tspan font-size="5.4" dy="1.2" font-style="italic">e</tspan><tspan dy="-1.2">(10</tspan><tspan font-size="5.4" dy="-3">19</tspan><tspan dy="3">m</tspan><tspan font-size="5.4" dy="-3">−2</tspan><tspan dy="3">)</tspan></text>
<text transform="translate(253.6,249.1) rotate(-90)" x="0" y="0" font-size="8.3" text-anchor="middle" fill="#000" textLength="47.2" lengthAdjust="spacingAndGlyphs"><tspan font-style="italic">S</tspan><tspan font-size="5.4" dy="1.2" font-style="italic">N</tspan><tspan dy="-1.2">(10</tspan><tspan font-size="5.4" dy="-3">16</tspan><tspan dy="3">s</tspan><tspan font-size="5.4" dy="-3">−1</tspan><tspan dy="3">)</tspan></text>
<g clip-path="url(#cb)">
<path d="M337.47,48.86V57.23M401.47,82.42V91.18M431.37,107.41V112.28M404.34,90.42V94.99M427.85,99.05V105.53M392.67,84.8V89.43M427.8,100.62V106.34M333.4,48.43V56.26M351.46,63.03V68.19M425.06,99.45V104.54M373.22,67.69V76.45M329.35,38.41V47.4M340.17,49.59V58.38M419.01,96.53V104.16M381.75,75.44V82.15M344.54,50.56V55.65M422.75,98.76V105.15M357.48,60.73V68.14M389.97,82.69V91.2M383.73,71.95V77.42M330.78,41.54V47.52M362.51,66.79V71.45M427.53,102.89V109.57M423.03,97.36V105.27M361.27,59.86V67.64M351.05,53.93V61.92M346.95,54.16V60.21M417.2,98.88V103.91M351.49,53.02V58M406.44,90.07V98.08M384.21,74.57V81.6M427.55,99.47V106.62M381.85,73.14V81.05M390.27,83.18V89.57M375.25,73.54V80.56M367.7,66.38V72.55M432.99,107.37V112.28M330.81,41.43V47.95M392.32,81.21V87.36M354.59,62.2V70.93M359.59,62.79V69.38M363.65,68.21V76.48M354.79,61.32V66.97M403.71,90.29V96.54M353.99,55.96V64.05M421.4,98.61V105.78M434.42,107.56V115.27M378.14,73.73V81.52M336.34,47.44V55.58M400.22,82.48V91.18M394.98,86.21V91.16M391.98,80.36V89.04M407.14,92.71V97.76M353.5,57.46V63.42M376.04,74.08V82.24M348.45,54.25V63M430.84,102.28V108.25M393.85,85.18V92.48M397.28,87.79V93.83M332.63,46.38V51.66M361.75,65.3V72.58M425.38,98.41V105.55M358.49,60.81V68.83M345.69,52.91V61.5M346.7,57.41V62.77M343.09,52.98V59.26M410.28,94.71V101.02M379.83,71.15V79.71M374.53,72.87V81.52M355.82,61.86V69.42M369.8,69.17V74.89M343.46,53.58V61.22M378.3,72.6V79.47M351.14,57.53V65.1M387.14,82.26V86.77M405.05,89.93V95.6M351.64,57.01V65.22M387.85,79.74V85.55M358.97,63.59V69.65M413.6,94.29V102.78M398.97,84.84V89.85M333.76,45.89V52.77M416.96,97.18V104.32M374.98,71.7V79.59M365.51,72.94V77.65M434.06,108.6V113.63M398.88,91.13V97.23M424.11,99.93V105.32M415.21,95V103.91M397.8,86.21V91.94M338.28,46.37V55.3M333.64,44.31V49.65M375.65,70.2V78.89M355.51,60.75V68.21M383.64,80.38V85.68M422.54,100.28V105.87M383.98,78.3V84.94M388.24,79.69V86.29M333.49,39.9V48.14M330.98,41.18V48.39M412.66,95.8V100.88M360.5,65.62V70.61M402.45,85.63V93.7M372.72,72.73V78.67M343.32,55.68V60.93M372.07,71.57V78.55M388.08,81.75V88.07M414.62,95.46V104.16M421.48,98.23V106.87M410.88,89.45V96.53M341.58,51.04V56.69M339.43,51.21V57.54M386.59,78.81V83.76M404.52,89.95V98.42M362.95,61.94V67.09M410.49,92.52V98.57M345.44,51.29V59.53M378.29,75V80.94M383.92,75.18V83.03M423.45,97.55V103.87M421.18,99.96V107.88M388.41,78.44V86.92M414.7,96.6V102.48M338.06,51.57V56.25M415.67,100.21V107.09M388.28,78.13V85.14M338.63,47.74V56.38M340.01,51.77V59.15M415.32,97.1V104.72M428.58,102.98V108.55M412.34,94.66V99.85M385.84,78.76V85.63M425.38,98.42V106.28M371.58,67.39V76.21M412.74,93.8V101.36M361.55,62.69V70.78M367.93,64.73V73.19M402.26,85.52V93.64M385.62,78.27V87.09M329.77,43V49.7M419.94,96.38V101.55M365.13,65.46V71.64M435.37,107.33V114.75M333.85,45.68V52.74M363.44,65.98V71.66M376.89,76.2V84.47M388.78,82.77V89.27M362,61.38V70.27M431.31,102.35V110.12M417.38,97.51V103.57" stroke="#ff0000" stroke-width="0.8" fill="none"/>
<path d="M335.37,53.04a2.1,2.1 0 1,0 4.2,0a2.1,2.1 0 1,0 -4.2,0M399.37,86.8a2.1,2.1 0 1,0 4.2,0a2.1,2.1 0 1,0 -4.2,0M429.27,109.84a2.1,2.1 0 1,0 4.2,0a2.1,2.1 0 1,0 -4.2,0M402.24,92.7a2.1,2.1 0 1,0 4.2,0a2.1,2.1 0 1,0 -4.2,0M425.75,102.29a2.1,2.1 0 1,0 4.2,0a2.1,2.1 0 1,0 -4.2,0M390.57,87.12a2.1,2.1 0 1,0 4.2,0a2.1,2.1 0 1,0 -4.2,0M425.7,103.48a2.1,2.1 0 1,0 4.2,0a2.1,2.1 0 1,0 -4.2,0M331.3,52.35a2.1,2.1 0 1,0 4.2,0a2.1,2.1 0 1,0 -4.2,0M349.36,65.61a2.1,2.1 0 1,0 4.2,0a2.1,2.1 0 1,0 -4.2,0M422.96,102a2.1,2.1 0 1,0 4.2,0a2.1,2.1 0 1,0 -4.2,0M371.12,72.07a2.1,2.1 0 1,0 4.2,0a2.1,2.1 0 1,0 -4.2,0M327.25,42.9a2.1,2.1 0 1,0 4.2,0a2.1,2.1 0 1,0 -4.2,0M338.07,53.99a2.1,2.1 0 1,0 4.2,0a2.1,2.1 0 1,0 -4.2,0M416.91,100.35a2.1,2.1 0 1,0 4.2,0a2.1,2.1 0 1,0 -4.2,0M379.65,78.79a2.1,2.1 0 1,0 4.2,0a2.1,2.1 0 1,0 -4.2,0M342.44,53.11a2.1,2.1 0 1,0 4.2,0a2.1,2.1 0 1,0 -4.2,0M420.65,101.95a2.1,2.1 0 1,0 4.2,0a2.1,2.1 0 1,0 -4.2,0M355.38,64.43a2.1,2.1 0 1,0 4.2,0a2.1,2.1 0 1,0 -4.2,0M387.87,86.95a2.1,2.1 0 1,0 4.2,0a2.1,2.1 0 1,0 -4.2,0M381.63,74.68a2.1,2.1 0 1,0 4.2,0a2.1,2.1 0 1,0 -4.2,0M328.68,44.53a2.1,2.1 0 1,0 4.2,0a2.1,2.1 0 1,0 -4.2,0M360.41,69.12a2.1,2.1 0 1,0 4.2,0a2.1,2.1 0 1,0 -4.2,0M425.43,106.23a2.1,2.1 0 1,0 4.2,0a2.1,2.1 0 1,0 -4.2,0M420.93,101.32a2.1,2.1 0 1,0 4.2,0a2.1,2.1 0 1,0 -4.2,0M359.17,63.75a2.1,2.1 0 1,0 4.2,0a2.1,2.1 0 1,0 -4.2,0M348.95,57.93a2.1,2.1 0 1,0 4.2,0a2.1,2.1 0 1,0 -4.2,0M344.85,57.18a2.1,2.1 0 1,0 4.2,0a2.1,2.1 0 1,0 -4.2,0M415.1,101.39a2.1,2.1 0 1,0 4.2,0a2.1,2.1 0 1,0 -4.2,0M349.39,55.51a2.1,2.1 0 1,0 4.2,0a2.1,2.1 0 1,0 -4.2,0M404.34,94.07a2.1,2.1 0 1,0 4.2,0a2.1,2.1 0 1,0 -4.2,0M382.11,78.09a2.1,2.1 0 1,0 4.2,0a2.1,2.1 0 1,0 -4.2,0M425.45,103.04a2.1,2.1 0 1,0 4.2,0a2.1,2.1 0 1,0 -4.2,0M379.75,77.1a2.1,2.1 0 1,0 4.2,0a2.1,2.1 0 1,0 -4.2,0M388.17,86.37a2.1,2.1 0 1,0 4.2,0a2.1,2.1 0 1,0 -4.2,0M373.15,77.05a2.1,2.1 0 1,0 4.2,0a2.1,2.1 0 1,0 -4.2,0M365.6,69.47a2.1,2.1 0 1,0 4.2,0a2.1,2.1 0 1,0 -4.2,0M430.89,109.83a2.1,2.1 0 1,0 4.2,0a2.1,2.1 0 1,0 -4.2,0M328.71,44.69a2.1,2.1 0 1,0 4.2,0a2.1,2.1 0 1,0 -4.2,0M390.22,84.29a2.1,2.1 0 1,0 4.2,0a2.1,2.1 0 1,0 -4.2,0M352.49,66.56a2.1,2.1 0 1,0 4.2,0a2.1,2.1 0 1,0 -4.2,0M357.49,66.09a2.1,2.1 0 1,0 4.2,0a2.1,2.1 0 1,0 -4.2,0M361.55,72.34a2.1,2.1 0 1,0 4.2,0a2.1,2.1 0 1,0 -4.2,0M352.69,64.14a2.1,2.1 0 1,0 4.2,0a2.1,2.1 0 1,0 -4.2,0M401.61,93.42a2.1,2.1 0 1,0 4.2,0a2.1,2.1 0 1,0 -4.2,0M351.89,60.01a2.1,2.1 0 1,0 4.2,0a2.1,2.1 0 1,0 -4.2,0M419.3,102.19a2.1,2.1 0 1,0 4.2,0a2.1,2.1 0 1,0 -4.2,0M432.32,111.42a2.1,2.1 0 1,0 4.2,0a2.1,2.1 0 1,0 -4.2,0M376.04,77.62a2.1,2.1 0 1,0 4.2,0a2.1,2.1 0 1,0 -4.2,0M334.24,51.51a2.1,2.1 0 1,0 4.2,0a2.1,2.1 0 1,0 -4.2,0M398.12,86.83a2.1,2.1 0 1,0 4.2,0a2.1,2.1 0 1,0 -4.2,0M392.88,88.69a2.1,2.1 0 1,0 4.2,0a2.1,2.1 0 1,0 -4.2,0M389.88,84.7a2.1,2.1 0 1,0 4.2,0a2.1,2.1 0 1,0 -4.2,0M405.04,95.24a2.1,2.1 0 1,0 4.2,0a2.1,2.1 0 1,0 -4.2,0M351.4,60.44a2.1,2.1 0 1,0 4.2,0a2.1,2.1 0 1,0 -4.2,0M373.94,78.16a2.1,2.1 0 1,0 4.2,0a2.1,2.1 0 1,0 -4.2,0M346.35,58.62a2.1,2.1 0 1,0 4.2,0a2.1,2.1 0 1,0 -4.2,0M428.74,105.27a2.1,2.1 0 1,0 4.2,0a2.1,2.1 0 1,0 -4.2,0M391.75,88.83a2.1,2.1 0 1,0 4.2,0a2.1,2.1 0 1,0 -4.2,0M395.18,90.81a2.1,2.1 0 1,0 4.2,0a2.1,2.1 0 1,0 -4.2,0M330.53,49.02a2.1,2.1 0 1,0 4.2,0a2.1,2.1 0 1,0 -4.2,0M359.65,68.94a2.1,2.1 0 1,0 4.2,0a2.1,2.1 0 1,0 -4.2,0M423.28,101.98a2.1,2.1 0 1,0 4.2,0a2.1,2.1 0 1,0 -4.2,0M356.39,64.82a2.1,2.1 0 1,0 4.2,0a2.1,2.1 0 1,0 -4.2,0M343.59,57.2a2.1,2.1 0 1,0 4.2,0a2.1,2.1 0 1,0 -4.2,0M344.6,60.09a2.1,2.1 0 1,0 4.2,0a2.1,2.1 0 1,0 -4.2,0M340.99,56.12a2.1,2.1 0 1,0 4.2,0a2.1,2.1 0 1,0 -4.2,0M408.18,97.87a2.1,2.1 0 1,0 4.2,0a2.1,2.1 0 1,0 -4.2,0M377.73,75.43a2.1,2.1 0 1,0 4.2,0a2.1,2.1 0 1,0 -4.2,0M372.43,77.19a2.1,2.1 0 1,0 4.2,0a2.1,2.1 0 1,0 -4.2,0M353.72,65.64a2.1,2.1 0 1,0 4.2,0a2.1,2.1 0 1,0 -4.2,0M367.7,72.03a2.1,2.1 0 1,0 4.2,0a2.1,2.1 0 1,0 -4.2,0M341.36,57.4a2.1,2.1 0 1,0 4.2,0a2.1,2.1 0 1,0 -4.2,0M376.2,76.04a2.1,2.1 0 1,0 4.2,0a2.1,2.1 0 1,0 -4.2,0M349.04,61.31a2.1,2.1 0 1,0 4.2,0a2.1,2.1 0 1,0 -4.2,0M385.04,84.51a2.1,2.1 0 1,0 4.2,0a2.1,2.1 0 1,0 -4.2,0M402.95,92.76a2.1,2.1 0 1,0 4.2,0a2.1,2.1 0 1,0 -4.2,0M349.54,61.11a2.1,2.1 0 1,0 4.2,0a2.1,2.1 0 1,0 -4.2,0M385.75,82.65a2.1,2.1 0 1,0 4.2,0a2.1,2.1 0 1,0 -4.2,0M356.87,66.62a2.1,2.1 0 1,0 4.2,0a2.1,2.1 0 1,0 -4.2,0M411.5,98.53a2.1,2.1 0 1,0 4.2,0a2.1,2.1 0 1,0 -4.2,0M396.87,87.35a2.1,2.1 0 1,0 4.2,0a2.1,2.1 0 1,0 -4.2,0M331.66,49.33a2.1,2.1 0 1,0 4.2,0a2.1,2.1 0 1,0 -4.2,0M414.86,100.75a2.1,2.1 0 1,0 4.2,0a2.1,2.1 0 1,0 -4.2,0M372.88,75.64a2.1,2.1 0 1,0 4.2,0a2.1,2.1 0 1,0 -4.2,0M363.41,75.29a2.1,2.1 0 1,0 4.2,0a2.1,2.1 0 1,0 -4.2,0M431.96,111.12a2.1,2.1 0 1,0 4.2,0a2.1,2.1 0 1,0 -4.2,0M396.78,94.18a2.1,2.1 0 1,0 4.2,0a2.1,2.1 0 1,0 -4.2,0M422.01,102.62a2.1,2.1 0 1,0 4.2,0a2.1,2.1 0 1,0 -4.2,0M413.11,99.45a2.1,2.1 0 1,0 4.2,0a2.1,2.1 0 1,0 -4.2,0M395.7,89.08a2.1,2.1 0 1,0 4.2,0a2.1,2.1 0 1,0 -4.2,0M336.18,50.84a2.1,2.1 0 1,0 4.2,0a2.1,2.1 0 1,0 -4.2,0M331.54,46.98a2.1,2.1 0 1,0 4.2,0a2.1,2.1 0 1,0 -4.2,0M373.55,74.55a2.1,2.1 0 1,0 4.2,0a2.1,2.1 0 1,0 -4.2,0M353.41,64.48a2.1,2.1 0 1,0 4.2,0a2.1,2.1 0 1,0 -4.2,0M381.54,83.03a2.1,2.1 0 1,0 4.2,0a2.1,2.1 0 1,0 -4.2,0M420.44,103.07a2.1,2.1 0 1,0 4.2,0a2.1,2.1 0 1,0 -4.2,0M381.88,81.62a2.1,2.1 0 1,0 4.2,0a2.1,2.1 0 1,0 -4.2,0M386.14,82.99a2.1,2.1 0 1,0 4.2,0a2.1,2.1 0 1,0 -4.2,0M331.39,44.02a2.1,2.1 0 1,0 4.2,0a2.1,2.1 0 1,0 -4.2,0M328.88,44.78a2.1,2.1 0 1,0 4.2,0a2.1,2.1 0 1,0 -4.2,0M410.56,98.34a2.1,2.1 0 1,0 4.2,0a2.1,2.1 0 1,0 -4.2,0M358.4,68.11a2.1,2.1 0 1,0 4.2,0a2.1,2.1 0 1,0 -4.2,0M400.35,89.66a2.1,2.1 0 1,0 4.2,0a2.1,2.1 0 1,0 -4.2,0M370.62,75.7a2.1,2.1 0 1,0 4.2,0a2.1,2.1 0 1,0 -4.2,0M341.22,58.3a2.1,2.1 0 1,0 4.2,0a2.1,2.1 0 1,0 -4.2,0M369.97,75.06a2.1,2.1 0 1,0 4.2,0a2.1,2.1 0 1,0 -4.2,0M385.98,84.91a2.1,2.1 0 1,0 4.2,0a2.1,2.1 0 1,0 -4.2,0M412.52,99.81a2.1,2.1 0 1,0 4.2,0a2.1,2.1 0 1,0 -4.2,0M419.38,102.55a2.1,2.1 0 1,0 4.2,0a2.1,2.1 0 1,0 -4.2,0M408.78,92.99a2.1,2.1 0 1,0 4.2,0a2.1,2.1 0 1,0 -4.2,0M339.48,53.86a2.1,2.1 0 1,0 4.2,0a2.1,2.1 0 1,0 -4.2,0M337.33,54.37a2.1,2.1 0 1,0 4.2,0a2.1,2.1 0 1,0 -4.2,0M384.49,81.28a2.1,2.1 0 1,0 4.2,0a2.1,2.1 0 1,0 -4.2,0M402.42,94.19a2.1,2.1 0 1,0 4.2,0a2.1,2.1 0 1,0 -4.2,0M360.85,64.51a2.1,2.1 0 1,0 4.2,0a2.1,2.1 0 1,0 -4.2,0M408.39,95.55a2.1,2.1 0 1,0 4.2,0a2.1,2.1 0 1,0 -4.2,0M343.34,55.41a2.1,2.1 0 1,0 4.2,0a2.1,2.1 0 1,0 -4.2,0M376.19,77.97a2.1,2.1 0 1,0 4.2,0a2.1,2.1 0 1,0 -4.2,0M381.82,79.1a2.1,2.1 0 1,0 4.2,0a2.1,2.1 0 1,0 -4.2,0M421.35,100.71a2.1,2.1 0 1,0 4.2,0a2.1,2.1 0 1,0 -4.2,0M419.08,103.92a2.1,2.1 0 1,0 4.2,0a2.1,2.1 0 1,0 -4.2,0M386.31,82.68a2.1,2.1 0 1,0 4.2,0a2.1,2.1 0 1,0 -4.2,0M412.6,99.54a2.1,2.1 0 1,0 4.2,0a2.1,2.1 0 1,0 -4.2,0M335.96,53.91a2.1,2.1 0 1,0 4.2,0a2.1,2.1 0 1,0 -4.2,0M413.57,103.65a2.1,2.1 0 1,0 4.2,0a2.1,2.1 0 1,0 -4.2,0M386.18,81.63a2.1,2.1 0 1,0 4.2,0a2.1,2.1 0 1,0 -4.2,0M336.53,52.06a2.1,2.1 0 1,0 4.2,0a2.1,2.1 0 1,0 -4.2,0M337.91,55.46a2.1,2.1 0 1,0 4.2,0a2.1,2.1 0 1,0 -4.2,0M413.22,100.91a2.1,2.1 0 1,0 4.2,0a2.1,2.1 0 1,0 -4.2,0M426.48,105.77a2.1,2.1 0 1,0 4.2,0a2.1,2.1 0 1,0 -4.2,0M410.24,97.26a2.1,2.1 0 1,0 4.2,0a2.1,2.1 0 1,0 -4.2,0M383.74,82.19a2.1,2.1 0 1,0 4.2,0a2.1,2.1 0 1,0 -4.2,0M423.28,102.35a2.1,2.1 0 1,0 4.2,0a2.1,2.1 0 1,0 -4.2,0M369.48,71.8a2.1,2.1 0 1,0 4.2,0a2.1,2.1 0 1,0 -4.2,0M410.64,97.58a2.1,2.1 0 1,0 4.2,0a2.1,2.1 0 1,0 -4.2,0M359.45,66.74a2.1,2.1 0 1,0 4.2,0a2.1,2.1 0 1,0 -4.2,0M365.83,68.96a2.1,2.1 0 1,0 4.2,0a2.1,2.1 0 1,0 -4.2,0M400.16,89.58a2.1,2.1 0 1,0 4.2,0a2.1,2.1 0 1,0 -4.2,0M383.52,82.68a2.1,2.1 0 1,0 4.2,0a2.1,2.1 0 1,0 -4.2,0M327.67,46.35a2.1,2.1 0 1,0 4.2,0a2.1,2.1 0 1,0 -4.2,0M417.84,98.96a2.1,2.1 0 1,0 4.2,0a2.1,2.1 0 1,0 -4.2,0M363.03,68.55a2.1,2.1 0 1,0 4.2,0a2.1,2.1 0 1,0 -4.2,0M433.27,111.04a2.1,2.1 0 1,0 4.2,0a2.1,2.1 0 1,0 -4.2,0M331.75,49.21a2.1,2.1 0 1,0 4.2,0a2.1,2.1 0 1,0 -4.2,0M361.34,68.82a2.1,2.1 0 1,0 4.2,0a2.1,2.1 0 1,0 -4.2,0M374.79,80.33a2.1,2.1 0 1,0 4.2,0a2.1,2.1 0 1,0 -4.2,0M386.68,86.02a2.1,2.1 0 1,0 4.2,0a2.1,2.1 0 1,0 -4.2,0M359.9,65.83a2.1,2.1 0 1,0 4.2,0a2.1,2.1 0 1,0 -4.2,0M429.21,106.24a2.1,2.1 0 1,0 4.2,0a2.1,2.1 0 1,0 -4.2,0M415.28,100.54a2.1,2.1 0 1,0 4.2,0a2.1,2.1 0 1,0 -4.2,0" fill="#ff0000"/>
<path d="M342.19,55.96V62.36M435.49,121.76V127.26M352.57,58.53V63.13M358.19,68.13V73.99M401.6,92.4V99.42M393.31,85.72V93.32M406,96.95V103.57M378.83,78.17V84.76M395.36,89.68V95.02M421.81,103.53V111.7M381.49,77.83V83.12M357.92,65.63V70.63M329.18,38.89V44.98M366.39,69.28V77.58M365.18,68.56V77.15M364.22,67.94V76.78M392.46,87.05V95.27M335.34,46.63V55.55M430.12,106.47V111.44M369,73.97V82.78M356,64.99V69.6M431.16,107.32V113.45M391.17,87.39V96.09M431.24,107.67V115.87M330.49,44.86V51.23M430.94,106.82V113.94M354.17,64.25V71.94M399.3,95.26V100.08M404.07,95.73V101.8M344.08,62.03V70.13M378.28,80.52V88.6M433.72,114.23V119.97M384.76,79.65V88.57M407.73,92.95V99.29M389.14,80.4V88.72M350.11,60.49V67.4M390.87,86.08V91.24M428.54,104.25V110.61M392.67,87.38V93.81M328.82,47.6V52.69M356.22,65.12V73.25M421.99,103.51V108.03M410.34,94.79V101.99M368.05,74.66V80.23M392.29,85.68V94.59M351.21,64.6V69.58M352.69,63.42V69.9M435.49,117.85V124.49M346.11,59.59V65.9M404.48,92.17V97.49M339.52,56.47V63.8M377.64,77.8V85.65M401.18,91.3V97.47M342.42,52.96V59.58M379.77,76.16V83.75M394.62,86.9V93.49M388.16,83.65V92.18M436.44,126.02V131.52M396.91,88.22V96.04M355.39,61.03V67.29M430.36,99.73V106.19M399.26,91.81V97.87M435.28,117.7V122.5M361.72,64.18V71.51M429.39,105.99V113.51M328.66,44.77V51.21M331.43,46.94V53.81M397.14,90.88V97.24M432.65,112.45V118.56M395.77,86.53V94.54M328.94,44.28V49.91M363.3,71.57V76.24M360.95,65.39V72.63M416.26,101.64V107.9M385.37,84.59V90.99M376.07,80.15V88.78M408.33,94.18V101.83M343.86,59.69V67.22M396.93,90.64V96.55M357.48,68.16V72.75M365.44,69.38V75.45M335.84,54.74V62.91M328.96,43.72V50.1M340.61,53.08V61.13M414.4,95.06V100.1M329.95,47.62V55.85M384.5,84.39V89.94M421.48,103.65V108.16M435.14,118.6V124.97M412.17,96.47V105.41M412.53,93.44V102.11M433.03,112.25V117.77M363.72,71.07V77.11M435.75,123.74V128.81M436.72,130.43V137.16M404.66,90.12V96.13M373.36,74.07V81.92M404.74,93.7V102.02M408.49,93.69V100.77M372.78,74.89V79.83M362.28,68.63V73.69M333.79,48.38V55.65M350.84,57.07V64.82M418.1,98.4V105.44M371.33,73.42V79.13M344.62,57.78V66.48M347.17,56.87V62.56M383.76,82.71V89.64M380.77,79.05V87.64M391.15,83.44V91.47M368.25,71.2V75.7M434.88,117.31V122.31M352.62,60.48V67.94M342.72,59.09V63.61M356.59,64.88V71.1M350.77,62.82V68.42M363.68,69.26V75.63M367.55,70.69V78.95M408.6,95.39V102.11M328.81,44.67V51.23M350.78,64.26V72.45M425.22,104.61V111.64M341.23,56.73V62.67M395.58,86.98V94.28M369.51,71.3V76.11M330.25,46.66V55.23M336.75,47.75V55.71M347.14,56.88V65.25M417.37,99.6V107.84M369.89,74.31V81.39M401.56,91.65V97.2M369.92,76.66V81.99M343.26,58.61V64.36M397.97,87.56V95.9M410.14,94.56V100M386.51,84.44V89.6M336.85,53.47V59.55M424.68,102.95V108.43M392.69,85.98V92.86M331.39,48.63V55.84M337.22,52.9V60.87M354.58,61.34V67.37M431.18,106.17V112.45M374.42,70.86V79.81M412,95.6V102.53M406.28,89.58V98.45M410.96,92.93V98.4M390.18,83.22V91.24M352.49,61.83V69.53M381.59,76.55V84.31" stroke="#0000d4" stroke-width="0.8" fill="none"/>
<path d="M340.09,59.16a2.1,2.1 0 1,0 4.2,0a2.1,2.1 0 1,0 -4.2,0M433.39,124.51a2.1,2.1 0 1,0 4.2,0a2.1,2.1 0 1,0 -4.2,0M350.47,60.83a2.1,2.1 0 1,0 4.2,0a2.1,2.1 0 1,0 -4.2,0M356.09,71.06a2.1,2.1 0 1,0 4.2,0a2.1,2.1 0 1,0 -4.2,0M399.5,95.91a2.1,2.1 0 1,0 4.2,0a2.1,2.1 0 1,0 -4.2,0M391.21,89.52a2.1,2.1 0 1,0 4.2,0a2.1,2.1 0 1,0 -4.2,0M403.9,100.26a2.1,2.1 0 1,0 4.2,0a2.1,2.1 0 1,0 -4.2,0M376.73,81.46a2.1,2.1 0 1,0 4.2,0a2.1,2.1 0 1,0 -4.2,0M393.26,92.35a2.1,2.1 0 1,0 4.2,0a2.1,2.1 0 1,0 -4.2,0M419.71,107.62a2.1,2.1 0 1,0 4.2,0a2.1,2.1 0 1,0 -4.2,0M379.39,80.47a2.1,2.1 0 1,0 4.2,0a2.1,2.1 0 1,0 -4.2,0M355.82,68.13a2.1,2.1 0 1,0 4.2,0a2.1,2.1 0 1,0 -4.2,0M327.08,41.93a2.1,2.1 0 1,0 4.2,0a2.1,2.1 0 1,0 -4.2,0M364.29,73.43a2.1,2.1 0 1,0 4.2,0a2.1,2.1 0 1,0 -4.2,0M363.08,72.86a2.1,2.1 0 1,0 4.2,0a2.1,2.1 0 1,0 -4.2,0M362.12,72.36a2.1,2.1 0 1,0 4.2,0a2.1,2.1 0 1,0 -4.2,0M390.36,91.16a2.1,2.1 0 1,0 4.2,0a2.1,2.1 0 1,0 -4.2,0M333.24,51.09a2.1,2.1 0 1,0 4.2,0a2.1,2.1 0 1,0 -4.2,0M428.02,108.95a2.1,2.1 0 1,0 4.2,0a2.1,2.1 0 1,0 -4.2,0M366.9,78.38a2.1,2.1 0 1,0 4.2,0a2.1,2.1 0 1,0 -4.2,0M353.9,67.3a2.1,2.1 0 1,0 4.2,0a2.1,2.1 0 1,0 -4.2,0M429.06,110.39a2.1,2.1 0 1,0 4.2,0a2.1,2.1 0 1,0 -4.2,0M389.07,91.74a2.1,2.1 0 1,0 4.2,0a2.1,2.1 0 1,0 -4.2,0M429.14,111.77a2.1,2.1 0 1,0 4.2,0a2.1,2.1 0 1,0 -4.2,0M328.39,48.04a2.1,2.1 0 1,0 4.2,0a2.1,2.1 0 1,0 -4.2,0M428.84,110.38a2.1,2.1 0 1,0 4.2,0a2.1,2.1 0 1,0 -4.2,0M352.07,68.09a2.1,2.1 0 1,0 4.2,0a2.1,2.1 0 1,0 -4.2,0M397.2,97.67a2.1,2.1 0 1,0 4.2,0a2.1,2.1 0 1,0 -4.2,0M401.97,98.76a2.1,2.1 0 1,0 4.2,0a2.1,2.1 0 1,0 -4.2,0M341.98,66.08a2.1,2.1 0 1,0 4.2,0a2.1,2.1 0 1,0 -4.2,0M376.18,84.56a2.1,2.1 0 1,0 4.2,0a2.1,2.1 0 1,0 -4.2,0M431.62,117.1a2.1,2.1 0 1,0 4.2,0a2.1,2.1 0 1,0 -4.2,0M382.66,84.11a2.1,2.1 0 1,0 4.2,0a2.1,2.1 0 1,0 -4.2,0M405.63,96.12a2.1,2.1 0 1,0 4.2,0a2.1,2.1 0 1,0 -4.2,0M387.04,84.56a2.1,2.1 0 1,0 4.2,0a2.1,2.1 0 1,0 -4.2,0M348.01,63.94a2.1,2.1 0 1,0 4.2,0a2.1,2.1 0 1,0 -4.2,0M388.77,88.66a2.1,2.1 0 1,0 4.2,0a2.1,2.1 0 1,0 -4.2,0M426.44,107.43a2.1,2.1 0 1,0 4.2,0a2.1,2.1 0 1,0 -4.2,0M390.57,90.6a2.1,2.1 0 1,0 4.2,0a2.1,2.1 0 1,0 -4.2,0M326.72,50.14a2.1,2.1 0 1,0 4.2,0a2.1,2.1 0 1,0 -4.2,0M354.12,69.18a2.1,2.1 0 1,0 4.2,0a2.1,2.1 0 1,0 -4.2,0M419.89,105.77a2.1,2.1 0 1,0 4.2,0a2.1,2.1 0 1,0 -4.2,0M408.24,98.39a2.1,2.1 0 1,0 4.2,0a2.1,2.1 0 1,0 -4.2,0M365.95,77.44a2.1,2.1 0 1,0 4.2,0a2.1,2.1 0 1,0 -4.2,0M390.19,90.14a2.1,2.1 0 1,0 4.2,0a2.1,2.1 0 1,0 -4.2,0M349.11,67.09a2.1,2.1 0 1,0 4.2,0a2.1,2.1 0 1,0 -4.2,0M350.59,66.66a2.1,2.1 0 1,0 4.2,0a2.1,2.1 0 1,0 -4.2,0M433.39,121.17a2.1,2.1 0 1,0 4.2,0a2.1,2.1 0 1,0 -4.2,0M344.01,62.74a2.1,2.1 0 1,0 4.2,0a2.1,2.1 0 1,0 -4.2,0M402.38,94.83a2.1,2.1 0 1,0 4.2,0a2.1,2.1 0 1,0 -4.2,0M337.42,60.13a2.1,2.1 0 1,0 4.2,0a2.1,2.1 0 1,0 -4.2,0M375.54,81.73a2.1,2.1 0 1,0 4.2,0a2.1,2.1 0 1,0 -4.2,0M399.08,94.39a2.1,2.1 0 1,0 4.2,0a2.1,2.1 0 1,0 -4.2,0M340.32,56.27a2.1,2.1 0 1,0 4.2,0a2.1,2.1 0 1,0 -4.2,0M377.67,79.96a2.1,2.1 0 1,0 4.2,0a2.1,2.1 0 1,0 -4.2,0M392.52,90.2a2.1,2.1 0 1,0 4.2,0a2.1,2.1 0 1,0 -4.2,0M386.06,87.91a2.1,2.1 0 1,0 4.2,0a2.1,2.1 0 1,0 -4.2,0M434.34,128.77a2.1,2.1 0 1,0 4.2,0a2.1,2.1 0 1,0 -4.2,0M394.81,92.13a2.1,2.1 0 1,0 4.2,0a2.1,2.1 0 1,0 -4.2,0M353.29,64.16a2.1,2.1 0 1,0 4.2,0a2.1,2.1 0 1,0 -4.2,0M428.26,102.96a2.1,2.1 0 1,0 4.2,0a2.1,2.1 0 1,0 -4.2,0M397.16,94.84a2.1,2.1 0 1,0 4.2,0a2.1,2.1 0 1,0 -4.2,0M433.18,120.1a2.1,2.1 0 1,0 4.2,0a2.1,2.1 0 1,0 -4.2,0M359.62,67.84a2.1,2.1 0 1,0 4.2,0a2.1,2.1 0 1,0 -4.2,0M427.29,109.75a2.1,2.1 0 1,0 4.2,0a2.1,2.1 0 1,0 -4.2,0M326.56,47.99a2.1,2.1 0 1,0 4.2,0a2.1,2.1 0 1,0 -4.2,0M329.33,50.37a2.1,2.1 0 1,0 4.2,0a2.1,2.1 0 1,0 -4.2,0M395.04,94.06a2.1,2.1 0 1,0 4.2,0a2.1,2.1 0 1,0 -4.2,0M430.55,115.5a2.1,2.1 0 1,0 4.2,0a2.1,2.1 0 1,0 -4.2,0M393.67,90.54a2.1,2.1 0 1,0 4.2,0a2.1,2.1 0 1,0 -4.2,0M326.84,47.09a2.1,2.1 0 1,0 4.2,0a2.1,2.1 0 1,0 -4.2,0M361.2,73.91a2.1,2.1 0 1,0 4.2,0a2.1,2.1 0 1,0 -4.2,0M358.85,69.01a2.1,2.1 0 1,0 4.2,0a2.1,2.1 0 1,0 -4.2,0M414.16,104.77a2.1,2.1 0 1,0 4.2,0a2.1,2.1 0 1,0 -4.2,0M383.27,87.79a2.1,2.1 0 1,0 4.2,0a2.1,2.1 0 1,0 -4.2,0M373.97,84.47a2.1,2.1 0 1,0 4.2,0a2.1,2.1 0 1,0 -4.2,0M406.23,98a2.1,2.1 0 1,0 4.2,0a2.1,2.1 0 1,0 -4.2,0M341.76,63.45a2.1,2.1 0 1,0 4.2,0a2.1,2.1 0 1,0 -4.2,0M394.83,93.6a2.1,2.1 0 1,0 4.2,0a2.1,2.1 0 1,0 -4.2,0M355.38,70.45a2.1,2.1 0 1,0 4.2,0a2.1,2.1 0 1,0 -4.2,0M363.34,72.42a2.1,2.1 0 1,0 4.2,0a2.1,2.1 0 1,0 -4.2,0M333.74,58.82a2.1,2.1 0 1,0 4.2,0a2.1,2.1 0 1,0 -4.2,0M326.86,46.91a2.1,2.1 0 1,0 4.2,0a2.1,2.1 0 1,0 -4.2,0M338.51,57.11a2.1,2.1 0 1,0 4.2,0a2.1,2.1 0 1,0 -4.2,0M412.3,97.58a2.1,2.1 0 1,0 4.2,0a2.1,2.1 0 1,0 -4.2,0M327.85,51.74a2.1,2.1 0 1,0 4.2,0a2.1,2.1 0 1,0 -4.2,0M382.4,87.17a2.1,2.1 0 1,0 4.2,0a2.1,2.1 0 1,0 -4.2,0M419.38,105.9a2.1,2.1 0 1,0 4.2,0a2.1,2.1 0 1,0 -4.2,0M433.04,121.78a2.1,2.1 0 1,0 4.2,0a2.1,2.1 0 1,0 -4.2,0M410.07,100.94a2.1,2.1 0 1,0 4.2,0a2.1,2.1 0 1,0 -4.2,0M410.43,97.78a2.1,2.1 0 1,0 4.2,0a2.1,2.1 0 1,0 -4.2,0M430.93,115.01a2.1,2.1 0 1,0 4.2,0a2.1,2.1 0 1,0 -4.2,0M361.62,74.09a2.1,2.1 0 1,0 4.2,0a2.1,2.1 0 1,0 -4.2,0M433.65,126.27a2.1,2.1 0 1,0 4.2,0a2.1,2.1 0 1,0 -4.2,0M434.62,133.79a2.1,2.1 0 1,0 4.2,0a2.1,2.1 0 1,0 -4.2,0M402.56,93.13a2.1,2.1 0 1,0 4.2,0a2.1,2.1 0 1,0 -4.2,0M371.26,78a2.1,2.1 0 1,0 4.2,0a2.1,2.1 0 1,0 -4.2,0M402.64,97.86a2.1,2.1 0 1,0 4.2,0a2.1,2.1 0 1,0 -4.2,0M406.39,97.23a2.1,2.1 0 1,0 4.2,0a2.1,2.1 0 1,0 -4.2,0M370.68,77.36a2.1,2.1 0 1,0 4.2,0a2.1,2.1 0 1,0 -4.2,0M360.18,71.16a2.1,2.1 0 1,0 4.2,0a2.1,2.1 0 1,0 -4.2,0M331.69,52.02a2.1,2.1 0 1,0 4.2,0a2.1,2.1 0 1,0 -4.2,0M348.74,60.94a2.1,2.1 0 1,0 4.2,0a2.1,2.1 0 1,0 -4.2,0M416,101.92a2.1,2.1 0 1,0 4.2,0a2.1,2.1 0 1,0 -4.2,0M369.23,76.27a2.1,2.1 0 1,0 4.2,0a2.1,2.1 0 1,0 -4.2,0M342.52,62.13a2.1,2.1 0 1,0 4.2,0a2.1,2.1 0 1,0 -4.2,0M345.07,59.72a2.1,2.1 0 1,0 4.2,0a2.1,2.1 0 1,0 -4.2,0M381.66,86.17a2.1,2.1 0 1,0 4.2,0a2.1,2.1 0 1,0 -4.2,0M378.67,83.35a2.1,2.1 0 1,0 4.2,0a2.1,2.1 0 1,0 -4.2,0M389.05,87.45a2.1,2.1 0 1,0 4.2,0a2.1,2.1 0 1,0 -4.2,0M366.15,73.45a2.1,2.1 0 1,0 4.2,0a2.1,2.1 0 1,0 -4.2,0M432.78,119.81a2.1,2.1 0 1,0 4.2,0a2.1,2.1 0 1,0 -4.2,0M350.52,64.21a2.1,2.1 0 1,0 4.2,0a2.1,2.1 0 1,0 -4.2,0M340.62,61.35a2.1,2.1 0 1,0 4.2,0a2.1,2.1 0 1,0 -4.2,0M354.49,67.99a2.1,2.1 0 1,0 4.2,0a2.1,2.1 0 1,0 -4.2,0M348.67,65.62a2.1,2.1 0 1,0 4.2,0a2.1,2.1 0 1,0 -4.2,0M361.58,72.44a2.1,2.1 0 1,0 4.2,0a2.1,2.1 0 1,0 -4.2,0M365.45,74.82a2.1,2.1 0 1,0 4.2,0a2.1,2.1 0 1,0 -4.2,0M406.5,98.75a2.1,2.1 0 1,0 4.2,0a2.1,2.1 0 1,0 -4.2,0M326.71,47.95a2.1,2.1 0 1,0 4.2,0a2.1,2.1 0 1,0 -4.2,0M348.68,68.35a2.1,2.1 0 1,0 4.2,0a2.1,2.1 0 1,0 -4.2,0M423.12,108.13a2.1,2.1 0 1,0 4.2,0a2.1,2.1 0 1,0 -4.2,0M339.13,59.7a2.1,2.1 0 1,0 4.2,0a2.1,2.1 0 1,0 -4.2,0M393.48,90.63a2.1,2.1 0 1,0 4.2,0a2.1,2.1 0 1,0 -4.2,0M367.41,73.7a2.1,2.1 0 1,0 4.2,0a2.1,2.1 0 1,0 -4.2,0M328.15,50.95a2.1,2.1 0 1,0 4.2,0a2.1,2.1 0 1,0 -4.2,0M334.65,51.73a2.1,2.1 0 1,0 4.2,0a2.1,2.1 0 1,0 -4.2,0M345.04,61.06a2.1,2.1 0 1,0 4.2,0a2.1,2.1 0 1,0 -4.2,0M415.27,103.72a2.1,2.1 0 1,0 4.2,0a2.1,2.1 0 1,0 -4.2,0M367.79,77.85a2.1,2.1 0 1,0 4.2,0a2.1,2.1 0 1,0 -4.2,0M399.46,94.43a2.1,2.1 0 1,0 4.2,0a2.1,2.1 0 1,0 -4.2,0M367.82,79.32a2.1,2.1 0 1,0 4.2,0a2.1,2.1 0 1,0 -4.2,0M341.16,61.49a2.1,2.1 0 1,0 4.2,0a2.1,2.1 0 1,0 -4.2,0M395.87,91.73a2.1,2.1 0 1,0 4.2,0a2.1,2.1 0 1,0 -4.2,0M408.04,97.28a2.1,2.1 0 1,0 4.2,0a2.1,2.1 0 1,0 -4.2,0M384.41,87.02a2.1,2.1 0 1,0 4.2,0a2.1,2.1 0 1,0 -4.2,0M334.75,56.51a2.1,2.1 0 1,0 4.2,0a2.1,2.1 0 1,0 -4.2,0M422.58,105.69a2.1,2.1 0 1,0 4.2,0a2.1,2.1 0 1,0 -4.2,0M390.59,89.42a2.1,2.1 0 1,0 4.2,0a2.1,2.1 0 1,0 -4.2,0M329.29,52.24a2.1,2.1 0 1,0 4.2,0a2.1,2.1 0 1,0 -4.2,0M335.12,56.89a2.1,2.1 0 1,0 4.2,0a2.1,2.1 0 1,0 -4.2,0M352.48,64.35a2.1,2.1 0 1,0 4.2,0a2.1,2.1 0 1,0 -4.2,0M429.08,109.31a2.1,2.1 0 1,0 4.2,0a2.1,2.1 0 1,0 -4.2,0M372.32,75.33a2.1,2.1 0 1,0 4.2,0a2.1,2.1 0 1,0 -4.2,0M409.9,99.06a2.1,2.1 0 1,0 4.2,0a2.1,2.1 0 1,0 -4.2,0M404.18,94.02a2.1,2.1 0 1,0 4.2,0a2.1,2.1 0 1,0 -4.2,0M408.86,95.66a2.1,2.1 0 1,0 4.2,0a2.1,2.1 0 1,0 -4.2,0M388.08,87.23a2.1,2.1 0 1,0 4.2,0a2.1,2.1 0 1,0 -4.2,0M350.39,65.68a2.1,2.1 0 1,0 4.2,0a2.1,2.1 0 1,0 -4.2,0M379.49,80.43a2.1,2.1 0 1,0 4.2,0a2.1,2.1 0 1,0 -4.2,0" fill="#0000d4"/>
<path d="M440.93,162.7V170.69M439.6,156.28V162.26M440.58,164.59V170.38M436.5,129.07V135.2M436.16,125.89V130.31M437.39,136.66V142.43M436.44,127.7V133.7M437.71,139.66V143.74M437.92,140.56V148.44M435.97,122.21V129.18M437.45,136.68V143.87M434.04,113.87V119.34M436.8,131.4V136.94M440.76,160.86V168.71M438.49,147.23V153.61M439.8,156.8V164.63" stroke="#0000d4" stroke-width="0.8" fill="none"/>
<path d="M438.83,166.69a2.1,2.1 0 1,0 4.2,0a2.1,2.1 0 1,0 -4.2,0M437.5,159.27a2.1,2.1 0 1,0 4.2,0a2.1,2.1 0 1,0 -4.2,0M438.48,167.48a2.1,2.1 0 1,0 4.2,0a2.1,2.1 0 1,0 -4.2,0M434.4,132.13a2.1,2.1 0 1,0 4.2,0a2.1,2.1 0 1,0 -4.2,0M434.06,128.1a2.1,2.1 0 1,0 4.2,0a2.1,2.1 0 1,0 -4.2,0M435.29,139.55a2.1,2.1 0 1,0 4.2,0a2.1,2.1 0 1,0 -4.2,0M434.34,130.7a2.1,2.1 0 1,0 4.2,0a2.1,2.1 0 1,0 -4.2,0M435.61,141.7a2.1,2.1 0 1,0 4.2,0a2.1,2.1 0 1,0 -4.2,0M435.82,144.5a2.1,2.1 0 1,0 4.2,0a2.1,2.1 0 1,0 -4.2,0M433.87,125.7a2.1,2.1 0 1,0 4.2,0a2.1,2.1 0 1,0 -4.2,0M435.35,140.28a2.1,2.1 0 1,0 4.2,0a2.1,2.1 0 1,0 -4.2,0M431.94,116.6a2.1,2.1 0 1,0 4.2,0a2.1,2.1 0 1,0 -4.2,0M434.7,134.17a2.1,2.1 0 1,0 4.2,0a2.1,2.1 0 1,0 -4.2,0M438.66,164.79a2.1,2.1 0 1,0 4.2,0a2.1,2.1 0 1,0 -4.2,0M436.39,150.42a2.1,2.1 0 1,0 4.2,0a2.1,2.1 0 1,0 -4.2,0M437.7,160.71a2.1,2.1 0 1,0 4.2,0a2.1,2.1 0 1,0 -4.2,0" fill="#0000d4"/>
<path d="M437.21,129.13V135.46M434.4,108.82V115.4M435.7,112.21V119.89M436.21,119.35V124.24M435.63,115.37V121.32M439.89,155.18V162.37" stroke="#ff0000" stroke-width="0.8" fill="none"/>
<path d="M435.11,132.29a2.1,2.1 0 1,0 4.2,0a2.1,2.1 0 1,0 -4.2,0M432.3,112.11a2.1,2.1 0 1,0 4.2,0a2.1,2.1 0 1,0 -4.2,0M433.6,116.05a2.1,2.1 0 1,0 4.2,0a2.1,2.1 0 1,0 -4.2,0M434.11,121.79a2.1,2.1 0 1,0 4.2,0a2.1,2.1 0 1,0 -4.2,0M433.53,118.35a2.1,2.1 0 1,0 4.2,0a2.1,2.1 0 1,0 -4.2,0M437.79,158.77a2.1,2.1 0 1,0 4.2,0a2.1,2.1 0 1,0 -4.2,0" fill="#ff0000"/>
<path d="M329.3,39.67V45.33M332.13,48.27V52.74M332.56,45.45V50.88M332.26,43.04V48.95M330.03,42.68V47.29M330.99,45.41V52.9M331.3,45.43V52.89M329.6,36.7V41.13M330.05,40.52V48.21M331.89,43.02V50.47M332.82,50.89V57.26M329.2,39.52V44.48M329.55,37.73V43.78M331.33,43.18V47.74" stroke="#0000d4" stroke-width="0.8" fill="none"/>
<path d="M327.2,42.5a2.1,2.1 0 1,0 4.2,0a2.1,2.1 0 1,0 -4.2,0M330.03,50.51a2.1,2.1 0 1,0 4.2,0a2.1,2.1 0 1,0 -4.2,0M330.46,48.17a2.1,2.1 0 1,0 4.2,0a2.1,2.1 0 1,0 -4.2,0M330.16,45.99a2.1,2.1 0 1,0 4.2,0a2.1,2.1 0 1,0 -4.2,0M327.93,44.99a2.1,2.1 0 1,0 4.2,0a2.1,2.1 0 1,0 -4.2,0M328.89,49.16a2.1,2.1 0 1,0 4.2,0a2.1,2.1 0 1,0 -4.2,0M329.2,49.16a2.1,2.1 0 1,0 4.2,0a2.1,2.1 0 1,0 -4.2,0M327.5,38.92a2.1,2.1 0 1,0 4.2,0a2.1,2.1 0 1,0 -4.2,0M327.95,44.37a2.1,2.1 0 1,0 4.2,0a2.1,2.1 0 1,0 -4.2,0M329.79,46.75a2.1,2.1 0 1,0 4.2,0a2.1,2.1 0 1,0 -4.2,0M330.72,54.08a2.1,2.1 0 1,0 4.2,0a2.1,2.1 0 1,0 -4.2,0M327.1,42a2.1,2.1 0 1,0 4.2,0a2.1,2.1 0 1,0 -4.2,0M327.45,40.76a2.1,2.1 0 1,0 4.2,0a2.1,2.1 0 1,0 -4.2,0M329.23,45.46a2.1,2.1 0 1,0 4.2,0a2.1,2.1 0 1,0 -4.2,0" fill="#0000d4"/>
<path d="M332.87,44.61V50.76M331.24,41.75V49.44M333.94,42.59V46.86M331.55,38.16V45.14M333.62,47.31V51.86M332.02,46.96V52.76M330.42,36.47V42.3M332.07,42.65V47.77" stroke="#ff0000" stroke-width="0.8" fill="none"/>
<path d="M330.77,47.69a2.1,2.1 0 1,0 4.2,0a2.1,2.1 0 1,0 -4.2,0M329.14,45.59a2.1,2.1 0 1,0 4.2,0a2.1,2.1 0 1,0 -4.2,0M331.84,44.72a2.1,2.1 0 1,0 4.2,0a2.1,2.1 0 1,0 -4.2,0M329.45,41.65a2.1,2.1 0 1,0 4.2,0a2.1,2.1 0 1,0 -4.2,0M331.52,49.58a2.1,2.1 0 1,0 4.2,0a2.1,2.1 0 1,0 -4.2,0M329.92,49.86a2.1,2.1 0 1,0 4.2,0a2.1,2.1 0 1,0 -4.2,0M328.32,39.39a2.1,2.1 0 1,0 4.2,0a2.1,2.1 0 1,0 -4.2,0M329.97,45.21a2.1,2.1 0 1,0 4.2,0a2.1,2.1 0 1,0 -4.2,0" fill="#ff0000"/>
<polyline points="329.5,46 344.2,58.5 356.3,65.5 368.3,73.5 380.4,80.5 397.3,91.5 413,99 426.4,105.5 433,110.5 435.5,117 437.5,137 439,152 440.7,166.4" fill="none" stroke="#0000d4" stroke-width="1.8" stroke-linejoin="round" />
<rect x="438.3" y="28" width="1.4" height="139" fill="#9a9aeb"/>
<rect x="439.6" y="28" width="2.1" height="139" fill="#ff0000"/>
<rect x="441.7" y="28" width="2.1" height="139" fill="#4050e0"/>
<rect x="443.8" y="28" width="1.2" height="139" fill="#701a90"/>
<rect x="445.0" y="28" width="1.3" height="139" fill="#2828d8"/>
</g>
<g clip-path="url(#cc)">
<path d="M604.38,129.36V133.91M564.96,85.47V91.88M598.13,115.93V121.44M593.07,106.72V111.61M508.53,51.83V58.08M603.04,122.52V127.18M554.92,78.83V85.76M510.84,51.18V57.16M588.11,99.57V107.18M513.2,54.78V60.46M567.66,83.97V92.82M602.7,121.49V129.55M580.91,93.64V100.26M605.54,134.62V140.09M514.18,53.96V61.21M566.35,85.1V89.64M603.12,123.84V129.52M528.37,67.14V75.2M595.11,108.18V115.21M564.7,84.85V92.11M581.84,95.14V101.97M512.52,54.78V59.63M511.77,55.96V61.59M584.52,94.99V103.83M561.8,81.07V86.64M560.16,81.09V87.54M561.42,78.32V87.26M567.87,86.15V92.1M550.44,75.38V83.09M502.63,47.41V54.6M587.08,99.94V106.54M566.94,83.88V90.67M556.68,79.73V85.24M581.22,93.48V99.12M588.79,100.61V109.17M599.48,115.55V122.9M503.11,49.1V57.45M572.14,86.17V93.74M517.4,59.8V65.94M583.51,96.58V101.54M523.4,62.5V68.15M503.82,47.09V55.74M558.99,76.58V85.22M549.97,72.2V78.78M599.33,115.49V122.19M500.73,47.66V54.97M554.22,77.31V83.95M598.31,115.11V119.75M574.43,88.04V95.23M569.33,85.39V91.92M588.64,101.15V108.35M505.16,52.36V59.32M517.86,60.51V68.19M598.06,114.53V122.66M509.74,50.02V56.6M585.99,97.59V105.98M574.83,91.15V95.68M507.21,46.24V53.52M592.93,104.9V109.87M561.26,82.03V87.2M549.43,75.52V80.23M569.77,83.18V91.14M508.47,47.26V55.67M557.78,81.27V86.13M574.78,89.17V94.45M604.32,125.47V132.19M534.94,67.55V75.03M575.38,88.45V94.84M575.9,90.88V96.4M517.15,56.18V60.98M529.14,66.7V75.57M528.68,68.48V73.37M551.8,72.51V80.92M582.49,97.96V105.25M551.39,74.91V82.4M555.55,79.07V84.15M533.19,70.28V78.62M560.45,77.46V84.18M541.01,69.23V76.21M502.85,47.77V56.75M596.28,110.83V118.27M517.19,57.88V66M569.19,84.32V91.54M578.72,91.77V98.71M580.37,96.18V104.45M527.35,66.48V71.33M592.88,105.84V113.43M552.18,72.66V77.47M538.25,67.65V75.24M556.91,77.29V82.79M571.21,87.32V93.35M599.4,119.91V125.65M554.77,74.98V79.95M538.4,69.83V78.63M580.94,95.47V101.61M529.64,67.41V75.71M590.8,104.11V108.92M600.84,117.14V123.55M564.7,81.39V88.26M592.06,106.83V111.37M582.65,94.58V102M569.6,85.62V94.16M538.89,69.47V76.09M603.19,125.59V130.37M559.7,81.4V89.22M517.11,57.18V65.39M583.91,91.53V100.3M576.11,86.34V94.47M566.87,82.86V90.37M519.32,58.25V66.61M582.95,97.87V103.68M605.36,134.76V140.73M508.65,50.33V59.11M538.34,66.44V73.34M567.01,86.56V93.04M549.05,74.11V80.97M550.99,74.65V79.79M515.94,53.57V60.02M506.73,49.2V57.91M515.01,55.58V63.01M515.91,56.63V62.3M544.97,70.66V77.05M542.95,68.1V74.95M530.12,69.72V74.82M558.37,78.88V84.96M576.6,93.15V99.29M598.32,115.1V120.95M546.18,70.45V76.21M571.15,89.01V95.36M575.21,88.87V95.88M576.3,91.65V99.09M545.77,72.1V77.26M519.89,61.57V66.9M570.34,84.97V90.53M526.43,70.41V75.74M515.73,55.89V61.53M585.99,96.5V104.04M545.72,68.78V75.27M510.17,50.77V56.91M600.31,116.39V121.29M582.16,96.3V104.69M539.86,68.42V74.05M522.64,65.53V70.6M572.98,82.78V91.61M592.73,103.92V112.67M588.93,101.46V110.35M592.68,104.99V112.26M565.87,82.69V87.84M558.32,80.03V85.77M513.36,54.58V63.02" stroke="#ff0000" stroke-width="0.8" fill="none"/>
<path d="M602.28,131.64a2.1,2.1 0 1,0 4.2,0a2.1,2.1 0 1,0 -4.2,0M562.86,88.68a2.1,2.1 0 1,0 4.2,0a2.1,2.1 0 1,0 -4.2,0M596.03,118.68a2.1,2.1 0 1,0 4.2,0a2.1,2.1 0 1,0 -4.2,0M590.97,109.16a2.1,2.1 0 1,0 4.2,0a2.1,2.1 0 1,0 -4.2,0M506.43,54.96a2.1,2.1 0 1,0 4.2,0a2.1,2.1 0 1,0 -4.2,0M600.94,124.85a2.1,2.1 0 1,0 4.2,0a2.1,2.1 0 1,0 -4.2,0M552.82,82.29a2.1,2.1 0 1,0 4.2,0a2.1,2.1 0 1,0 -4.2,0M508.74,54.17a2.1,2.1 0 1,0 4.2,0a2.1,2.1 0 1,0 -4.2,0M586.01,103.37a2.1,2.1 0 1,0 4.2,0a2.1,2.1 0 1,0 -4.2,0M511.1,57.62a2.1,2.1 0 1,0 4.2,0a2.1,2.1 0 1,0 -4.2,0M565.56,88.39a2.1,2.1 0 1,0 4.2,0a2.1,2.1 0 1,0 -4.2,0M600.6,125.52a2.1,2.1 0 1,0 4.2,0a2.1,2.1 0 1,0 -4.2,0M578.81,96.95a2.1,2.1 0 1,0 4.2,0a2.1,2.1 0 1,0 -4.2,0M603.44,137.36a2.1,2.1 0 1,0 4.2,0a2.1,2.1 0 1,0 -4.2,0M512.08,57.58a2.1,2.1 0 1,0 4.2,0a2.1,2.1 0 1,0 -4.2,0M564.25,87.37a2.1,2.1 0 1,0 4.2,0a2.1,2.1 0 1,0 -4.2,0M601.02,126.68a2.1,2.1 0 1,0 4.2,0a2.1,2.1 0 1,0 -4.2,0M526.27,71.17a2.1,2.1 0 1,0 4.2,0a2.1,2.1 0 1,0 -4.2,0M593.01,111.69a2.1,2.1 0 1,0 4.2,0a2.1,2.1 0 1,0 -4.2,0M562.6,88.48a2.1,2.1 0 1,0 4.2,0a2.1,2.1 0 1,0 -4.2,0M579.74,98.56a2.1,2.1 0 1,0 4.2,0a2.1,2.1 0 1,0 -4.2,0M510.42,57.2a2.1,2.1 0 1,0 4.2,0a2.1,2.1 0 1,0 -4.2,0M509.67,58.78a2.1,2.1 0 1,0 4.2,0a2.1,2.1 0 1,0 -4.2,0M582.42,99.41a2.1,2.1 0 1,0 4.2,0a2.1,2.1 0 1,0 -4.2,0M559.7,83.86a2.1,2.1 0 1,0 4.2,0a2.1,2.1 0 1,0 -4.2,0M558.06,84.31a2.1,2.1 0 1,0 4.2,0a2.1,2.1 0 1,0 -4.2,0M559.32,82.79a2.1,2.1 0 1,0 4.2,0a2.1,2.1 0 1,0 -4.2,0M565.77,89.12a2.1,2.1 0 1,0 4.2,0a2.1,2.1 0 1,0 -4.2,0M548.34,79.23a2.1,2.1 0 1,0 4.2,0a2.1,2.1 0 1,0 -4.2,0M500.53,51.01a2.1,2.1 0 1,0 4.2,0a2.1,2.1 0 1,0 -4.2,0M584.98,103.24a2.1,2.1 0 1,0 4.2,0a2.1,2.1 0 1,0 -4.2,0M564.84,87.28a2.1,2.1 0 1,0 4.2,0a2.1,2.1 0 1,0 -4.2,0M554.58,82.49a2.1,2.1 0 1,0 4.2,0a2.1,2.1 0 1,0 -4.2,0M579.12,96.3a2.1,2.1 0 1,0 4.2,0a2.1,2.1 0 1,0 -4.2,0M586.69,104.89a2.1,2.1 0 1,0 4.2,0a2.1,2.1 0 1,0 -4.2,0M597.38,119.22a2.1,2.1 0 1,0 4.2,0a2.1,2.1 0 1,0 -4.2,0M501.01,53.27a2.1,2.1 0 1,0 4.2,0a2.1,2.1 0 1,0 -4.2,0M570.04,89.95a2.1,2.1 0 1,0 4.2,0a2.1,2.1 0 1,0 -4.2,0M515.3,62.87a2.1,2.1 0 1,0 4.2,0a2.1,2.1 0 1,0 -4.2,0M581.41,99.06a2.1,2.1 0 1,0 4.2,0a2.1,2.1 0 1,0 -4.2,0M521.3,65.33a2.1,2.1 0 1,0 4.2,0a2.1,2.1 0 1,0 -4.2,0M501.72,51.42a2.1,2.1 0 1,0 4.2,0a2.1,2.1 0 1,0 -4.2,0M556.89,80.9a2.1,2.1 0 1,0 4.2,0a2.1,2.1 0 1,0 -4.2,0M547.87,75.49a2.1,2.1 0 1,0 4.2,0a2.1,2.1 0 1,0 -4.2,0M597.23,118.84a2.1,2.1 0 1,0 4.2,0a2.1,2.1 0 1,0 -4.2,0M498.63,51.32a2.1,2.1 0 1,0 4.2,0a2.1,2.1 0 1,0 -4.2,0M552.12,80.63a2.1,2.1 0 1,0 4.2,0a2.1,2.1 0 1,0 -4.2,0M596.21,117.43a2.1,2.1 0 1,0 4.2,0a2.1,2.1 0 1,0 -4.2,0M572.33,91.64a2.1,2.1 0 1,0 4.2,0a2.1,2.1 0 1,0 -4.2,0M567.23,88.66a2.1,2.1 0 1,0 4.2,0a2.1,2.1 0 1,0 -4.2,0M586.54,104.75a2.1,2.1 0 1,0 4.2,0a2.1,2.1 0 1,0 -4.2,0M503.06,55.84a2.1,2.1 0 1,0 4.2,0a2.1,2.1 0 1,0 -4.2,0M515.76,64.35a2.1,2.1 0 1,0 4.2,0a2.1,2.1 0 1,0 -4.2,0M595.96,118.6a2.1,2.1 0 1,0 4.2,0a2.1,2.1 0 1,0 -4.2,0M507.64,53.31a2.1,2.1 0 1,0 4.2,0a2.1,2.1 0 1,0 -4.2,0M583.89,101.79a2.1,2.1 0 1,0 4.2,0a2.1,2.1 0 1,0 -4.2,0M572.73,93.42a2.1,2.1 0 1,0 4.2,0a2.1,2.1 0 1,0 -4.2,0M505.11,49.88a2.1,2.1 0 1,0 4.2,0a2.1,2.1 0 1,0 -4.2,0M590.83,107.38a2.1,2.1 0 1,0 4.2,0a2.1,2.1 0 1,0 -4.2,0M559.16,84.61a2.1,2.1 0 1,0 4.2,0a2.1,2.1 0 1,0 -4.2,0M547.33,77.88a2.1,2.1 0 1,0 4.2,0a2.1,2.1 0 1,0 -4.2,0M567.67,87.16a2.1,2.1 0 1,0 4.2,0a2.1,2.1 0 1,0 -4.2,0M506.37,51.46a2.1,2.1 0 1,0 4.2,0a2.1,2.1 0 1,0 -4.2,0M555.68,83.7a2.1,2.1 0 1,0 4.2,0a2.1,2.1 0 1,0 -4.2,0M572.68,91.81a2.1,2.1 0 1,0 4.2,0a2.1,2.1 0 1,0 -4.2,0M602.22,128.83a2.1,2.1 0 1,0 4.2,0a2.1,2.1 0 1,0 -4.2,0M532.84,71.29a2.1,2.1 0 1,0 4.2,0a2.1,2.1 0 1,0 -4.2,0M573.28,91.65a2.1,2.1 0 1,0 4.2,0a2.1,2.1 0 1,0 -4.2,0M573.8,93.64a2.1,2.1 0 1,0 4.2,0a2.1,2.1 0 1,0 -4.2,0M515.05,58.58a2.1,2.1 0 1,0 4.2,0a2.1,2.1 0 1,0 -4.2,0M527.04,71.13a2.1,2.1 0 1,0 4.2,0a2.1,2.1 0 1,0 -4.2,0M526.58,70.92a2.1,2.1 0 1,0 4.2,0a2.1,2.1 0 1,0 -4.2,0M549.7,76.71a2.1,2.1 0 1,0 4.2,0a2.1,2.1 0 1,0 -4.2,0M580.39,101.6a2.1,2.1 0 1,0 4.2,0a2.1,2.1 0 1,0 -4.2,0M549.29,78.65a2.1,2.1 0 1,0 4.2,0a2.1,2.1 0 1,0 -4.2,0M553.45,81.61a2.1,2.1 0 1,0 4.2,0a2.1,2.1 0 1,0 -4.2,0M531.09,74.45a2.1,2.1 0 1,0 4.2,0a2.1,2.1 0 1,0 -4.2,0M558.35,80.82a2.1,2.1 0 1,0 4.2,0a2.1,2.1 0 1,0 -4.2,0M538.91,72.72a2.1,2.1 0 1,0 4.2,0a2.1,2.1 0 1,0 -4.2,0M500.75,52.26a2.1,2.1 0 1,0 4.2,0a2.1,2.1 0 1,0 -4.2,0M594.18,114.55a2.1,2.1 0 1,0 4.2,0a2.1,2.1 0 1,0 -4.2,0M515.09,61.94a2.1,2.1 0 1,0 4.2,0a2.1,2.1 0 1,0 -4.2,0M567.09,87.93a2.1,2.1 0 1,0 4.2,0a2.1,2.1 0 1,0 -4.2,0M576.62,95.24a2.1,2.1 0 1,0 4.2,0a2.1,2.1 0 1,0 -4.2,0M578.27,100.31a2.1,2.1 0 1,0 4.2,0a2.1,2.1 0 1,0 -4.2,0M525.25,68.9a2.1,2.1 0 1,0 4.2,0a2.1,2.1 0 1,0 -4.2,0M590.78,109.63a2.1,2.1 0 1,0 4.2,0a2.1,2.1 0 1,0 -4.2,0M550.08,75.06a2.1,2.1 0 1,0 4.2,0a2.1,2.1 0 1,0 -4.2,0M536.15,71.45a2.1,2.1 0 1,0 4.2,0a2.1,2.1 0 1,0 -4.2,0M554.81,80.04a2.1,2.1 0 1,0 4.2,0a2.1,2.1 0 1,0 -4.2,0M569.11,90.33a2.1,2.1 0 1,0 4.2,0a2.1,2.1 0 1,0 -4.2,0M597.3,122.78a2.1,2.1 0 1,0 4.2,0a2.1,2.1 0 1,0 -4.2,0M552.67,77.46a2.1,2.1 0 1,0 4.2,0a2.1,2.1 0 1,0 -4.2,0M536.3,74.23a2.1,2.1 0 1,0 4.2,0a2.1,2.1 0 1,0 -4.2,0M578.84,98.54a2.1,2.1 0 1,0 4.2,0a2.1,2.1 0 1,0 -4.2,0M527.54,71.56a2.1,2.1 0 1,0 4.2,0a2.1,2.1 0 1,0 -4.2,0M588.7,106.52a2.1,2.1 0 1,0 4.2,0a2.1,2.1 0 1,0 -4.2,0M598.74,120.35a2.1,2.1 0 1,0 4.2,0a2.1,2.1 0 1,0 -4.2,0M562.6,84.82a2.1,2.1 0 1,0 4.2,0a2.1,2.1 0 1,0 -4.2,0M589.96,109.1a2.1,2.1 0 1,0 4.2,0a2.1,2.1 0 1,0 -4.2,0M580.55,98.29a2.1,2.1 0 1,0 4.2,0a2.1,2.1 0 1,0 -4.2,0M567.5,89.89a2.1,2.1 0 1,0 4.2,0a2.1,2.1 0 1,0 -4.2,0M536.79,72.78a2.1,2.1 0 1,0 4.2,0a2.1,2.1 0 1,0 -4.2,0M601.09,127.98a2.1,2.1 0 1,0 4.2,0a2.1,2.1 0 1,0 -4.2,0M557.6,85.31a2.1,2.1 0 1,0 4.2,0a2.1,2.1 0 1,0 -4.2,0M515.01,61.28a2.1,2.1 0 1,0 4.2,0a2.1,2.1 0 1,0 -4.2,0M581.81,95.92a2.1,2.1 0 1,0 4.2,0a2.1,2.1 0 1,0 -4.2,0M574.01,90.4a2.1,2.1 0 1,0 4.2,0a2.1,2.1 0 1,0 -4.2,0M564.77,86.61a2.1,2.1 0 1,0 4.2,0a2.1,2.1 0 1,0 -4.2,0M517.22,62.43a2.1,2.1 0 1,0 4.2,0a2.1,2.1 0 1,0 -4.2,0M580.85,100.77a2.1,2.1 0 1,0 4.2,0a2.1,2.1 0 1,0 -4.2,0M603.26,137.74a2.1,2.1 0 1,0 4.2,0a2.1,2.1 0 1,0 -4.2,0M506.55,54.72a2.1,2.1 0 1,0 4.2,0a2.1,2.1 0 1,0 -4.2,0M536.24,69.89a2.1,2.1 0 1,0 4.2,0a2.1,2.1 0 1,0 -4.2,0M564.91,89.8a2.1,2.1 0 1,0 4.2,0a2.1,2.1 0 1,0 -4.2,0M546.95,77.54a2.1,2.1 0 1,0 4.2,0a2.1,2.1 0 1,0 -4.2,0M548.89,77.22a2.1,2.1 0 1,0 4.2,0a2.1,2.1 0 1,0 -4.2,0M513.84,56.79a2.1,2.1 0 1,0 4.2,0a2.1,2.1 0 1,0 -4.2,0M504.63,53.56a2.1,2.1 0 1,0 4.2,0a2.1,2.1 0 1,0 -4.2,0M512.91,59.29a2.1,2.1 0 1,0 4.2,0a2.1,2.1 0 1,0 -4.2,0M513.81,59.47a2.1,2.1 0 1,0 4.2,0a2.1,2.1 0 1,0 -4.2,0M542.87,73.85a2.1,2.1 0 1,0 4.2,0a2.1,2.1 0 1,0 -4.2,0M540.85,71.52a2.1,2.1 0 1,0 4.2,0a2.1,2.1 0 1,0 -4.2,0M528.02,72.27a2.1,2.1 0 1,0 4.2,0a2.1,2.1 0 1,0 -4.2,0M556.27,81.92a2.1,2.1 0 1,0 4.2,0a2.1,2.1 0 1,0 -4.2,0M574.5,96.22a2.1,2.1 0 1,0 4.2,0a2.1,2.1 0 1,0 -4.2,0M596.22,118.02a2.1,2.1 0 1,0 4.2,0a2.1,2.1 0 1,0 -4.2,0M544.08,73.33a2.1,2.1 0 1,0 4.2,0a2.1,2.1 0 1,0 -4.2,0M569.05,92.19a2.1,2.1 0 1,0 4.2,0a2.1,2.1 0 1,0 -4.2,0M573.11,92.37a2.1,2.1 0 1,0 4.2,0a2.1,2.1 0 1,0 -4.2,0M574.2,95.37a2.1,2.1 0 1,0 4.2,0a2.1,2.1 0 1,0 -4.2,0M543.67,74.68a2.1,2.1 0 1,0 4.2,0a2.1,2.1 0 1,0 -4.2,0M517.79,64.23a2.1,2.1 0 1,0 4.2,0a2.1,2.1 0 1,0 -4.2,0M568.24,87.75a2.1,2.1 0 1,0 4.2,0a2.1,2.1 0 1,0 -4.2,0M524.33,73.07a2.1,2.1 0 1,0 4.2,0a2.1,2.1 0 1,0 -4.2,0M513.63,58.71a2.1,2.1 0 1,0 4.2,0a2.1,2.1 0 1,0 -4.2,0M583.89,100.27a2.1,2.1 0 1,0 4.2,0a2.1,2.1 0 1,0 -4.2,0M543.62,72.02a2.1,2.1 0 1,0 4.2,0a2.1,2.1 0 1,0 -4.2,0M508.07,53.84a2.1,2.1 0 1,0 4.2,0a2.1,2.1 0 1,0 -4.2,0M598.21,118.84a2.1,2.1 0 1,0 4.2,0a2.1,2.1 0 1,0 -4.2,0M580.06,100.49a2.1,2.1 0 1,0 4.2,0a2.1,2.1 0 1,0 -4.2,0M537.76,71.23a2.1,2.1 0 1,0 4.2,0a2.1,2.1 0 1,0 -4.2,0M520.54,68.06a2.1,2.1 0 1,0 4.2,0a2.1,2.1 0 1,0 -4.2,0M570.88,87.2a2.1,2.1 0 1,0 4.2,0a2.1,2.1 0 1,0 -4.2,0M590.63,108.29a2.1,2.1 0 1,0 4.2,0a2.1,2.1 0 1,0 -4.2,0M586.83,105.9a2.1,2.1 0 1,0 4.2,0a2.1,2.1 0 1,0 -4.2,0M590.58,108.62a2.1,2.1 0 1,0 4.2,0a2.1,2.1 0 1,0 -4.2,0M563.77,85.26a2.1,2.1 0 1,0 4.2,0a2.1,2.1 0 1,0 -4.2,0M556.22,82.9a2.1,2.1 0 1,0 4.2,0a2.1,2.1 0 1,0 -4.2,0M511.26,58.8a2.1,2.1 0 1,0 4.2,0a2.1,2.1 0 1,0 -4.2,0" fill="#ff0000"/>
<path d="M501.23,45.06V51.37M501.19,47.25V53.84M501.89,49.92V55.22M500.7,41.06V48.33M501.01,46.68V51.42M501.26,47.48V54.02M500.58,42.91V47.24M502.27,51.99V57.88" stroke="#ff0000" stroke-width="0.8" fill="none"/>
<path d="M499.13,48.21a2.1,2.1 0 1,0 4.2,0a2.1,2.1 0 1,0 -4.2,0M499.09,50.54a2.1,2.1 0 1,0 4.2,0a2.1,2.1 0 1,0 -4.2,0M499.79,52.57a2.1,2.1 0 1,0 4.2,0a2.1,2.1 0 1,0 -4.2,0M498.6,44.7a2.1,2.1 0 1,0 4.2,0a2.1,2.1 0 1,0 -4.2,0M498.91,49.05a2.1,2.1 0 1,0 4.2,0a2.1,2.1 0 1,0 -4.2,0M499.16,50.75a2.1,2.1 0 1,0 4.2,0a2.1,2.1 0 1,0 -4.2,0M498.48,45.07a2.1,2.1 0 1,0 4.2,0a2.1,2.1 0 1,0 -4.2,0M500.17,54.94a2.1,2.1 0 1,0 4.2,0a2.1,2.1 0 1,0 -4.2,0" fill="#ff0000"/>
<path d="M601.37,122.33V127.89M558.61,88.28V92.46M594.94,112.29V118.61M535.2,76.66V84.4M590.27,108.98V114.5M563.75,91.73V95.87M578.49,99.9V104.55M559.5,90.43V95.09M569.38,94.42V100.87M607.01,150.83V154.88M603.32,128.41V134.37M592.16,111.92V117.82M520.67,69.26V74.88M504.88,37.28V44.09M515.87,58.44V65.2M565.36,92.1V97.28M572.65,92.92V98.51M596.18,113.71V120.11M525.66,69.86V77.49M604.52,137.78V145.06M572.2,94.95V102.31M585.94,102.73V109.91M569.48,95.02V101.17M593.92,110.95V116.81M507.35,42.27V49.64M506.33,42.61V47.15M580.54,99.9V106.62M542.26,77.95V85.74M553.09,84.54V90.7M548.02,81.56V86.01M573.69,97.16V104.88M581.37,101.01V105.4M506.8,41.47V47.63M594.63,111.44V118.44M586.5,104.48V110.4M592.2,109.65V115.7M577.53,100.22V106.02M530.19,76.68V82.36M521.43,67.96V73.89M575.24,96.19V102.16M497.82,28.45V36.3M528.62,71.77V76.59M503.63,36.07V40.89M513.55,56.7V60.87M526.79,72.51V78.55M515.94,58.46V64.24M522.5,72.88V79.27M509.07,44.63V48.99M557.66,88.48V93.72M579.53,97.61V104.04M516.9,59.85V64.59M574.97,97.83V103.5M528.04,74.12V79.99M593.78,107.67V114.73M527.46,73.15V79.62M538.33,76.96V83.63M515.28,57.77V65.12M514.45,54.41V62.35M537.39,80.49V88.3M500.67,33.82V37.96M581.46,102.02V106.67M580.37,101.91V107.34M505.91,40.45V46.33M535.09,76.63V84.49M590.55,106.91V111.59M598.79,116.95V123.06M515.45,57.66V62.95M521.04,69.71V75.01M582.09,103.87V110.17M588.74,109.19V115.22M566.98,95.44V100.39M574.11,94.87V101.2M512.13,53.58V58.79M580.35,102.86V109.05M576.19,98.64V103.96M549.68,82.1V86.39M553.39,86.72V91.76M562.21,91.44V96.36M596.27,114.12V119.58M594.64,111.09V117.31M497.47,24.98V32.71M566.85,94.72V100.7M571.28,97.19V102.35M597.94,113.33V120.61M595.13,111.75V116.97M575.82,100.74V105.02M589.81,105.59V110.59M585.91,103.29V110.89M586.07,102.32V110.29M603.4,127.84V134.52M541.13,78.99V84.99M553.12,85.28V92.66M590.84,108.94V115.73M573.27,94.32V100.98M497.32,26.69V32.46M604.62,138.99V143.3M524.93,73.24V80.54M500.15,31.22V38.7M525.17,69.07V76.8M537.95,75.36V81.53M572.42,98.07V102.52M497.03,25.39V32.68M524.34,71.52V79.35M572.13,97.23V102.5M555.26,90.02V94.33M589.36,107.24V114M534.4,76.2V80.71M532.75,77.26V81.8M523.34,68.92V74.82M498.11,30.42V34.95M595.61,113.41V117.93M580.05,100.91V107.08M607.12,149.94V156.41M539.67,79.88V87.7M531.06,75.88V81.57M531.7,74.01V80.77M516.79,57.67V65.64M577.09,96.43V100.86M563.19,90.77V97.92M583.09,102.56V108.47M526.47,73V79.43M540.76,77.99V84.35M595.77,113.31V118.44M527.14,73.75V81.15M599.03,117.52V122.02M536.67,79.9V87.81M607.17,150.39V155.61M503.92,38V42.06M524.78,73.96V79.85M572.51,96.98V102.31M506.63,43.02V47.51M508,45.92V50.09M586.19,101.32V108.69M569.08,94.44V98.77M501.69,35.18V42.99M521.18,71.87V76.06M507.03,40.76V47.35M512.78,52.57V57.49M549.64,82.32V87.17M593.65,108.57V115.06M503.29,33.54V41.09M583.4,101V106.97M580.73,100.86V106.99M527.47,74.25V78.27M554.57,85.72V93.2M576.71,98.64V104.97M561.1,92.19V98.03M553.3,84.62V90.68M583.93,100.13V106.85M509.83,47.52V52.94" stroke="#0000d4" stroke-width="0.8" fill="none"/>
<path d="M599.17,125.11a2.2,2.2 0 1,0 4.4,0a2.2,2.2 0 1,0 -4.4,0M556.41,90.37a2.2,2.2 0 1,0 4.4,0a2.2,2.2 0 1,0 -4.4,0M592.74,115.45a2.2,2.2 0 1,0 4.4,0a2.2,2.2 0 1,0 -4.4,0M533,80.53a2.2,2.2 0 1,0 4.4,0a2.2,2.2 0 1,0 -4.4,0M588.07,111.74a2.2,2.2 0 1,0 4.4,0a2.2,2.2 0 1,0 -4.4,0M561.55,93.8a2.2,2.2 0 1,0 4.4,0a2.2,2.2 0 1,0 -4.4,0M576.29,102.22a2.2,2.2 0 1,0 4.4,0a2.2,2.2 0 1,0 -4.4,0M557.3,92.76a2.2,2.2 0 1,0 4.4,0a2.2,2.2 0 1,0 -4.4,0M567.18,97.65a2.2,2.2 0 1,0 4.4,0a2.2,2.2 0 1,0 -4.4,0M604.81,152.85a2.2,2.2 0 1,0 4.4,0a2.2,2.2 0 1,0 -4.4,0M601.12,131.39a2.2,2.2 0 1,0 4.4,0a2.2,2.2 0 1,0 -4.4,0M589.96,114.87a2.2,2.2 0 1,0 4.4,0a2.2,2.2 0 1,0 -4.4,0M518.47,72.07a2.2,2.2 0 1,0 4.4,0a2.2,2.2 0 1,0 -4.4,0M502.68,40.69a2.2,2.2 0 1,0 4.4,0a2.2,2.2 0 1,0 -4.4,0M513.67,61.82a2.2,2.2 0 1,0 4.4,0a2.2,2.2 0 1,0 -4.4,0M563.16,94.69a2.2,2.2 0 1,0 4.4,0a2.2,2.2 0 1,0 -4.4,0M570.45,95.71a2.2,2.2 0 1,0 4.4,0a2.2,2.2 0 1,0 -4.4,0M593.98,116.91a2.2,2.2 0 1,0 4.4,0a2.2,2.2 0 1,0 -4.4,0M523.46,73.68a2.2,2.2 0 1,0 4.4,0a2.2,2.2 0 1,0 -4.4,0M602.32,141.42a2.2,2.2 0 1,0 4.4,0a2.2,2.2 0 1,0 -4.4,0M570,98.63a2.2,2.2 0 1,0 4.4,0a2.2,2.2 0 1,0 -4.4,0M583.74,106.32a2.2,2.2 0 1,0 4.4,0a2.2,2.2 0 1,0 -4.4,0M567.28,98.09a2.2,2.2 0 1,0 4.4,0a2.2,2.2 0 1,0 -4.4,0M591.72,113.88a2.2,2.2 0 1,0 4.4,0a2.2,2.2 0 1,0 -4.4,0M505.15,45.95a2.2,2.2 0 1,0 4.4,0a2.2,2.2 0 1,0 -4.4,0M504.13,44.88a2.2,2.2 0 1,0 4.4,0a2.2,2.2 0 1,0 -4.4,0M578.34,103.26a2.2,2.2 0 1,0 4.4,0a2.2,2.2 0 1,0 -4.4,0M540.06,81.85a2.2,2.2 0 1,0 4.4,0a2.2,2.2 0 1,0 -4.4,0M550.89,87.62a2.2,2.2 0 1,0 4.4,0a2.2,2.2 0 1,0 -4.4,0M545.82,83.78a2.2,2.2 0 1,0 4.4,0a2.2,2.2 0 1,0 -4.4,0M571.49,101.02a2.2,2.2 0 1,0 4.4,0a2.2,2.2 0 1,0 -4.4,0M579.17,103.21a2.2,2.2 0 1,0 4.4,0a2.2,2.2 0 1,0 -4.4,0M504.6,44.55a2.2,2.2 0 1,0 4.4,0a2.2,2.2 0 1,0 -4.4,0M592.43,114.94a2.2,2.2 0 1,0 4.4,0a2.2,2.2 0 1,0 -4.4,0M584.3,107.44a2.2,2.2 0 1,0 4.4,0a2.2,2.2 0 1,0 -4.4,0M590,112.67a2.2,2.2 0 1,0 4.4,0a2.2,2.2 0 1,0 -4.4,0M575.33,103.12a2.2,2.2 0 1,0 4.4,0a2.2,2.2 0 1,0 -4.4,0M527.99,79.52a2.2,2.2 0 1,0 4.4,0a2.2,2.2 0 1,0 -4.4,0M519.23,70.92a2.2,2.2 0 1,0 4.4,0a2.2,2.2 0 1,0 -4.4,0M573.04,99.18a2.2,2.2 0 1,0 4.4,0a2.2,2.2 0 1,0 -4.4,0M495.62,32.37a2.2,2.2 0 1,0 4.4,0a2.2,2.2 0 1,0 -4.4,0M526.42,74.18a2.2,2.2 0 1,0 4.4,0a2.2,2.2 0 1,0 -4.4,0M501.43,38.48a2.2,2.2 0 1,0 4.4,0a2.2,2.2 0 1,0 -4.4,0M511.35,58.78a2.2,2.2 0 1,0 4.4,0a2.2,2.2 0 1,0 -4.4,0M524.59,75.53a2.2,2.2 0 1,0 4.4,0a2.2,2.2 0 1,0 -4.4,0M513.74,61.35a2.2,2.2 0 1,0 4.4,0a2.2,2.2 0 1,0 -4.4,0M520.3,76.07a2.2,2.2 0 1,0 4.4,0a2.2,2.2 0 1,0 -4.4,0M506.87,46.81a2.2,2.2 0 1,0 4.4,0a2.2,2.2 0 1,0 -4.4,0M555.46,91.1a2.2,2.2 0 1,0 4.4,0a2.2,2.2 0 1,0 -4.4,0M577.33,100.82a2.2,2.2 0 1,0 4.4,0a2.2,2.2 0 1,0 -4.4,0M514.7,62.22a2.2,2.2 0 1,0 4.4,0a2.2,2.2 0 1,0 -4.4,0M572.77,100.66a2.2,2.2 0 1,0 4.4,0a2.2,2.2 0 1,0 -4.4,0M525.84,77.05a2.2,2.2 0 1,0 4.4,0a2.2,2.2 0 1,0 -4.4,0M591.58,111.2a2.2,2.2 0 1,0 4.4,0a2.2,2.2 0 1,0 -4.4,0M525.26,76.39a2.2,2.2 0 1,0 4.4,0a2.2,2.2 0 1,0 -4.4,0M536.13,80.3a2.2,2.2 0 1,0 4.4,0a2.2,2.2 0 1,0 -4.4,0M513.08,61.45a2.2,2.2 0 1,0 4.4,0a2.2,2.2 0 1,0 -4.4,0M512.25,58.38a2.2,2.2 0 1,0 4.4,0a2.2,2.2 0 1,0 -4.4,0M535.19,84.39a2.2,2.2 0 1,0 4.4,0a2.2,2.2 0 1,0 -4.4,0M498.47,35.89a2.2,2.2 0 1,0 4.4,0a2.2,2.2 0 1,0 -4.4,0M579.26,104.35a2.2,2.2 0 1,0 4.4,0a2.2,2.2 0 1,0 -4.4,0M578.17,104.63a2.2,2.2 0 1,0 4.4,0a2.2,2.2 0 1,0 -4.4,0M503.71,43.39a2.2,2.2 0 1,0 4.4,0a2.2,2.2 0 1,0 -4.4,0M532.89,80.56a2.2,2.2 0 1,0 4.4,0a2.2,2.2 0 1,0 -4.4,0M588.35,109.25a2.2,2.2 0 1,0 4.4,0a2.2,2.2 0 1,0 -4.4,0M596.59,120a2.2,2.2 0 1,0 4.4,0a2.2,2.2 0 1,0 -4.4,0M513.25,60.31a2.2,2.2 0 1,0 4.4,0a2.2,2.2 0 1,0 -4.4,0M518.84,72.36a2.2,2.2 0 1,0 4.4,0a2.2,2.2 0 1,0 -4.4,0M579.89,107.02a2.2,2.2 0 1,0 4.4,0a2.2,2.2 0 1,0 -4.4,0M586.54,112.2a2.2,2.2 0 1,0 4.4,0a2.2,2.2 0 1,0 -4.4,0M564.78,97.91a2.2,2.2 0 1,0 4.4,0a2.2,2.2 0 1,0 -4.4,0M571.91,98.03a2.2,2.2 0 1,0 4.4,0a2.2,2.2 0 1,0 -4.4,0M509.93,56.19a2.2,2.2 0 1,0 4.4,0a2.2,2.2 0 1,0 -4.4,0M578.15,105.96a2.2,2.2 0 1,0 4.4,0a2.2,2.2 0 1,0 -4.4,0M573.99,101.3a2.2,2.2 0 1,0 4.4,0a2.2,2.2 0 1,0 -4.4,0M547.48,84.24a2.2,2.2 0 1,0 4.4,0a2.2,2.2 0 1,0 -4.4,0M551.19,89.24a2.2,2.2 0 1,0 4.4,0a2.2,2.2 0 1,0 -4.4,0M560.01,93.9a2.2,2.2 0 1,0 4.4,0a2.2,2.2 0 1,0 -4.4,0M594.07,116.85a2.2,2.2 0 1,0 4.4,0a2.2,2.2 0 1,0 -4.4,0M592.44,114.2a2.2,2.2 0 1,0 4.4,0a2.2,2.2 0 1,0 -4.4,0M495.27,28.84a2.2,2.2 0 1,0 4.4,0a2.2,2.2 0 1,0 -4.4,0M564.65,97.71a2.2,2.2 0 1,0 4.4,0a2.2,2.2 0 1,0 -4.4,0M569.08,99.77a2.2,2.2 0 1,0 4.4,0a2.2,2.2 0 1,0 -4.4,0M595.74,116.97a2.2,2.2 0 1,0 4.4,0a2.2,2.2 0 1,0 -4.4,0M592.93,114.36a2.2,2.2 0 1,0 4.4,0a2.2,2.2 0 1,0 -4.4,0M573.62,102.88a2.2,2.2 0 1,0 4.4,0a2.2,2.2 0 1,0 -4.4,0M587.61,108.09a2.2,2.2 0 1,0 4.4,0a2.2,2.2 0 1,0 -4.4,0M583.71,107.09a2.2,2.2 0 1,0 4.4,0a2.2,2.2 0 1,0 -4.4,0M583.87,106.31a2.2,2.2 0 1,0 4.4,0a2.2,2.2 0 1,0 -4.4,0M601.2,131.18a2.2,2.2 0 1,0 4.4,0a2.2,2.2 0 1,0 -4.4,0M538.93,81.99a2.2,2.2 0 1,0 4.4,0a2.2,2.2 0 1,0 -4.4,0M550.92,88.97a2.2,2.2 0 1,0 4.4,0a2.2,2.2 0 1,0 -4.4,0M588.64,112.34a2.2,2.2 0 1,0 4.4,0a2.2,2.2 0 1,0 -4.4,0M571.07,97.65a2.2,2.2 0 1,0 4.4,0a2.2,2.2 0 1,0 -4.4,0M495.12,29.58a2.2,2.2 0 1,0 4.4,0a2.2,2.2 0 1,0 -4.4,0M602.42,141.14a2.2,2.2 0 1,0 4.4,0a2.2,2.2 0 1,0 -4.4,0M522.73,76.89a2.2,2.2 0 1,0 4.4,0a2.2,2.2 0 1,0 -4.4,0M497.95,34.96a2.2,2.2 0 1,0 4.4,0a2.2,2.2 0 1,0 -4.4,0M522.97,72.93a2.2,2.2 0 1,0 4.4,0a2.2,2.2 0 1,0 -4.4,0M535.75,78.44a2.2,2.2 0 1,0 4.4,0a2.2,2.2 0 1,0 -4.4,0M570.22,100.29a2.2,2.2 0 1,0 4.4,0a2.2,2.2 0 1,0 -4.4,0M494.83,29.04a2.2,2.2 0 1,0 4.4,0a2.2,2.2 0 1,0 -4.4,0M522.14,75.43a2.2,2.2 0 1,0 4.4,0a2.2,2.2 0 1,0 -4.4,0M569.93,99.87a2.2,2.2 0 1,0 4.4,0a2.2,2.2 0 1,0 -4.4,0M553.06,92.17a2.2,2.2 0 1,0 4.4,0a2.2,2.2 0 1,0 -4.4,0M587.16,110.62a2.2,2.2 0 1,0 4.4,0a2.2,2.2 0 1,0 -4.4,0M532.2,78.46a2.2,2.2 0 1,0 4.4,0a2.2,2.2 0 1,0 -4.4,0M530.55,79.53a2.2,2.2 0 1,0 4.4,0a2.2,2.2 0 1,0 -4.4,0M521.14,71.87a2.2,2.2 0 1,0 4.4,0a2.2,2.2 0 1,0 -4.4,0M495.91,32.68a2.2,2.2 0 1,0 4.4,0a2.2,2.2 0 1,0 -4.4,0M593.41,115.67a2.2,2.2 0 1,0 4.4,0a2.2,2.2 0 1,0 -4.4,0M577.85,104a2.2,2.2 0 1,0 4.4,0a2.2,2.2 0 1,0 -4.4,0M604.92,153.17a2.2,2.2 0 1,0 4.4,0a2.2,2.2 0 1,0 -4.4,0M537.47,83.79a2.2,2.2 0 1,0 4.4,0a2.2,2.2 0 1,0 -4.4,0M528.86,78.73a2.2,2.2 0 1,0 4.4,0a2.2,2.2 0 1,0 -4.4,0M529.5,77.39a2.2,2.2 0 1,0 4.4,0a2.2,2.2 0 1,0 -4.4,0M514.59,61.66a2.2,2.2 0 1,0 4.4,0a2.2,2.2 0 1,0 -4.4,0M574.89,98.64a2.2,2.2 0 1,0 4.4,0a2.2,2.2 0 1,0 -4.4,0M560.99,94.35a2.2,2.2 0 1,0 4.4,0a2.2,2.2 0 1,0 -4.4,0M580.89,105.52a2.2,2.2 0 1,0 4.4,0a2.2,2.2 0 1,0 -4.4,0M524.27,76.22a2.2,2.2 0 1,0 4.4,0a2.2,2.2 0 1,0 -4.4,0M538.56,81.17a2.2,2.2 0 1,0 4.4,0a2.2,2.2 0 1,0 -4.4,0M593.57,115.87a2.2,2.2 0 1,0 4.4,0a2.2,2.2 0 1,0 -4.4,0M524.94,77.45a2.2,2.2 0 1,0 4.4,0a2.2,2.2 0 1,0 -4.4,0M596.83,119.77a2.2,2.2 0 1,0 4.4,0a2.2,2.2 0 1,0 -4.4,0M534.47,83.85a2.2,2.2 0 1,0 4.4,0a2.2,2.2 0 1,0 -4.4,0M604.97,153a2.2,2.2 0 1,0 4.4,0a2.2,2.2 0 1,0 -4.4,0M501.72,40.03a2.2,2.2 0 1,0 4.4,0a2.2,2.2 0 1,0 -4.4,0M522.58,76.9a2.2,2.2 0 1,0 4.4,0a2.2,2.2 0 1,0 -4.4,0M570.31,99.65a2.2,2.2 0 1,0 4.4,0a2.2,2.2 0 1,0 -4.4,0M504.43,45.26a2.2,2.2 0 1,0 4.4,0a2.2,2.2 0 1,0 -4.4,0M505.8,48.01a2.2,2.2 0 1,0 4.4,0a2.2,2.2 0 1,0 -4.4,0M583.99,105.01a2.2,2.2 0 1,0 4.4,0a2.2,2.2 0 1,0 -4.4,0M566.88,96.61a2.2,2.2 0 1,0 4.4,0a2.2,2.2 0 1,0 -4.4,0M499.49,39.09a2.2,2.2 0 1,0 4.4,0a2.2,2.2 0 1,0 -4.4,0M518.98,73.96a2.2,2.2 0 1,0 4.4,0a2.2,2.2 0 1,0 -4.4,0M504.83,44.06a2.2,2.2 0 1,0 4.4,0a2.2,2.2 0 1,0 -4.4,0M510.58,55.03a2.2,2.2 0 1,0 4.4,0a2.2,2.2 0 1,0 -4.4,0M547.44,84.75a2.2,2.2 0 1,0 4.4,0a2.2,2.2 0 1,0 -4.4,0M591.45,111.82a2.2,2.2 0 1,0 4.4,0a2.2,2.2 0 1,0 -4.4,0M501.09,37.31a2.2,2.2 0 1,0 4.4,0a2.2,2.2 0 1,0 -4.4,0M581.2,103.99a2.2,2.2 0 1,0 4.4,0a2.2,2.2 0 1,0 -4.4,0M578.53,103.93a2.2,2.2 0 1,0 4.4,0a2.2,2.2 0 1,0 -4.4,0M525.27,76.26a2.2,2.2 0 1,0 4.4,0a2.2,2.2 0 1,0 -4.4,0M552.37,89.46a2.2,2.2 0 1,0 4.4,0a2.2,2.2 0 1,0 -4.4,0M574.51,101.81a2.2,2.2 0 1,0 4.4,0a2.2,2.2 0 1,0 -4.4,0M558.9,95.11a2.2,2.2 0 1,0 4.4,0a2.2,2.2 0 1,0 -4.4,0M551.1,87.65a2.2,2.2 0 1,0 4.4,0a2.2,2.2 0 1,0 -4.4,0M581.73,103.49a2.2,2.2 0 1,0 4.4,0a2.2,2.2 0 1,0 -4.4,0M507.63,50.23a2.2,2.2 0 1,0 4.4,0a2.2,2.2 0 1,0 -4.4,0" fill="#0000d4"/>
<polyline points="495,25.5 502.2,37.5 505.6,43.5 510,51.5 514.5,60 520.1,70.5 526.8,77 532.4,79.5 539.2,82.5 545.9,84.5 561.3,93.5 577,101.5 592.7,112.5 598.6,118.5 602,127 604.5,140 608.4,166.4" fill="none" stroke="#0000d4" stroke-width="1.8" stroke-linejoin="round" />
<polyline points="501,53 507.8,55 513.4,58 519,63.5 525.7,70 532.4,72.5 539.2,73 545.9,74.5 553,79.5 561.3,84.5 577,94.5 592.7,109 602.5,124 606.4,142 609,166.4" fill="none" stroke="#ff0000" stroke-width="1.2" stroke-linejoin="round" />
<rect x="607.7" y="28" width="1.0" height="139" fill="#aab0f5"/>
<rect x="608.7" y="28" width="3.4" height="139" fill="#0000dc"/>
<rect x="612.1" y="28" width="1.1" height="139" fill="#ffb0b0"/>
</g>
<g clip-path="url(#cd)">
<path d="M383.03,259.67V266.73M361.4,243.52V251.2M438.76,296.19V302.84M409.75,277.04V284.99M369.83,252.61V257.24M406,276.18V283.12M430.71,283.18V294.09M346.56,236.43V243.23M398.21,268.67V276.21M434.47,291.2V300.47M370.29,251.37V261.06M425.52,280.48V289.63M417.41,280.93V287.6M364.2,244.58V253.56M344.88,237.08V242.48M417.71,277.89V286.21M374.71,257.56V261.67M367.53,251.88V257.22M380.02,260.32V265.54M409.1,274.88V281.34M427.36,281.04V290.2M429.82,288.18V292.32M413.3,277.28V287.42M348.34,237.23V241.87M369.62,251.13V261.78M329.76,222.67V233.31M351.07,238.78V247.08M366.43,247.92V257.8M348.5,237.56V248.15M381.38,261.48V268.62M343.5,235.11V245.1M400.83,273.48V277.72M374.22,254.56V264.03M356.17,242.28V250.81M404.45,270.63V280.07M365.09,249.64V254.69M331.63,226.53V231.11M421.22,280.19V287.86M411.95,276.16V284.41M425.61,281.02V289.84M361.32,246.04V251.29M358.03,244.93V252.91M405.6,274.7V285.49M345.1,236.96V242.73M435.32,292.01V301.75M400.86,268.3V279.03M389.32,263.94V272.65M334.67,231.35V238.44M360.16,246.87V253.8M375.57,254.7V261.97M436.87,293.65V298.52M344.93,240.01V244.54M394.09,268.88V274.83M337.56,234.72V239.93M435.84,289.88V300.17M353.66,239.93V246.47M355.81,241.68V251.81M353.72,240.73V248.67M334.93,230.74V241.02M336.96,231.64V241.92M330.3,223.38V232.36M347.2,238.1V245.24M331.68,227.77V233.47M335.22,228.41V236.36M334.74,233.14V239.32M359.36,243.97V253.77M355.06,244.29V248.59M338.43,231.4V239.86M361.04,244.21V250.58M334.26,230.82V237.76M333.64,229.87V237.67M341.58,233.93V244.81M355.58,239.55V250.51M332.25,227.19V233.69M355.03,241.92V252.63M346.95,236.53V247.22M355.35,244.33V252.01M333.55,212.37V220.31M368.52,242.83V248.21M329.68,206.39V215.92M360.88,235.01V242.41M356.24,230.31V239.65M332.78,208.6V219.05M350.37,227.43V235.8M363.07,238.8V247.67M373.23,245.8V253.64M332.93,213.34V218.25M354.99,231.01V238.22M369.56,245.23V249.67M334.96,211.83V217.09M374.52,244.7V255.56M328.67,208.03V214.69M334.57,208.3V213.25M330.75,220.83V227.88M332.44,205.8V210.22M329.33,225.2V233.45M331.54,207.24V212.84M332.09,216.53V222.05M336,204.35V212.81M329.85,204.23V214.7M332.63,236.65V240.75M334.33,206.2V215.2M332.55,214.78V222.85M335.83,226.63V234.04M333.03,211.99V218.94" stroke="#ff0000" stroke-width="0.9" fill="none"/>
<path d="M381.03,263.2a2.0,2.0 0 1,0 4,0a2.0,2.0 0 1,0 -4,0M359.4,247.36a2.0,2.0 0 1,0 4,0a2.0,2.0 0 1,0 -4,0M436.76,299.52a2.0,2.0 0 1,0 4,0a2.0,2.0 0 1,0 -4,0M407.75,281.01a2.0,2.0 0 1,0 4,0a2.0,2.0 0 1,0 -4,0M367.83,254.93a2.0,2.0 0 1,0 4,0a2.0,2.0 0 1,0 -4,0M404,279.65a2.0,2.0 0 1,0 4,0a2.0,2.0 0 1,0 -4,0M428.71,288.63a2.0,2.0 0 1,0 4,0a2.0,2.0 0 1,0 -4,0M344.56,239.83a2.0,2.0 0 1,0 4,0a2.0,2.0 0 1,0 -4,0M396.21,272.44a2.0,2.0 0 1,0 4,0a2.0,2.0 0 1,0 -4,0M432.47,295.84a2.0,2.0 0 1,0 4,0a2.0,2.0 0 1,0 -4,0M368.29,256.22a2.0,2.0 0 1,0 4,0a2.0,2.0 0 1,0 -4,0M423.52,285.06a2.0,2.0 0 1,0 4,0a2.0,2.0 0 1,0 -4,0M415.41,284.26a2.0,2.0 0 1,0 4,0a2.0,2.0 0 1,0 -4,0M362.2,249.07a2.0,2.0 0 1,0 4,0a2.0,2.0 0 1,0 -4,0M342.88,239.78a2.0,2.0 0 1,0 4,0a2.0,2.0 0 1,0 -4,0M415.71,282.05a2.0,2.0 0 1,0 4,0a2.0,2.0 0 1,0 -4,0M372.71,259.62a2.0,2.0 0 1,0 4,0a2.0,2.0 0 1,0 -4,0M365.53,254.55a2.0,2.0 0 1,0 4,0a2.0,2.0 0 1,0 -4,0M378.02,262.93a2.0,2.0 0 1,0 4,0a2.0,2.0 0 1,0 -4,0M407.1,278.11a2.0,2.0 0 1,0 4,0a2.0,2.0 0 1,0 -4,0M425.36,285.62a2.0,2.0 0 1,0 4,0a2.0,2.0 0 1,0 -4,0M427.82,290.25a2.0,2.0 0 1,0 4,0a2.0,2.0 0 1,0 -4,0M411.3,282.35a2.0,2.0 0 1,0 4,0a2.0,2.0 0 1,0 -4,0M346.34,239.55a2.0,2.0 0 1,0 4,0a2.0,2.0 0 1,0 -4,0M367.62,256.45a2.0,2.0 0 1,0 4,0a2.0,2.0 0 1,0 -4,0M327.76,227.99a2.0,2.0 0 1,0 4,0a2.0,2.0 0 1,0 -4,0M349.07,242.93a2.0,2.0 0 1,0 4,0a2.0,2.0 0 1,0 -4,0M364.43,252.86a2.0,2.0 0 1,0 4,0a2.0,2.0 0 1,0 -4,0M346.5,242.85a2.0,2.0 0 1,0 4,0a2.0,2.0 0 1,0 -4,0M379.38,265.05a2.0,2.0 0 1,0 4,0a2.0,2.0 0 1,0 -4,0M341.5,240.11a2.0,2.0 0 1,0 4,0a2.0,2.0 0 1,0 -4,0M398.83,275.6a2.0,2.0 0 1,0 4,0a2.0,2.0 0 1,0 -4,0M372.22,259.3a2.0,2.0 0 1,0 4,0a2.0,2.0 0 1,0 -4,0M354.17,246.55a2.0,2.0 0 1,0 4,0a2.0,2.0 0 1,0 -4,0M402.45,275.35a2.0,2.0 0 1,0 4,0a2.0,2.0 0 1,0 -4,0M363.09,252.17a2.0,2.0 0 1,0 4,0a2.0,2.0 0 1,0 -4,0M329.63,228.82a2.0,2.0 0 1,0 4,0a2.0,2.0 0 1,0 -4,0M419.22,284.02a2.0,2.0 0 1,0 4,0a2.0,2.0 0 1,0 -4,0M409.95,280.28a2.0,2.0 0 1,0 4,0a2.0,2.0 0 1,0 -4,0M423.61,285.43a2.0,2.0 0 1,0 4,0a2.0,2.0 0 1,0 -4,0M359.32,248.66a2.0,2.0 0 1,0 4,0a2.0,2.0 0 1,0 -4,0M356.03,248.92a2.0,2.0 0 1,0 4,0a2.0,2.0 0 1,0 -4,0M403.6,280.1a2.0,2.0 0 1,0 4,0a2.0,2.0 0 1,0 -4,0M343.1,239.84a2.0,2.0 0 1,0 4,0a2.0,2.0 0 1,0 -4,0M433.32,296.88a2.0,2.0 0 1,0 4,0a2.0,2.0 0 1,0 -4,0M398.86,273.67a2.0,2.0 0 1,0 4,0a2.0,2.0 0 1,0 -4,0M387.32,268.3a2.0,2.0 0 1,0 4,0a2.0,2.0 0 1,0 -4,0M332.67,234.9a2.0,2.0 0 1,0 4,0a2.0,2.0 0 1,0 -4,0M358.16,250.33a2.0,2.0 0 1,0 4,0a2.0,2.0 0 1,0 -4,0M373.57,258.34a2.0,2.0 0 1,0 4,0a2.0,2.0 0 1,0 -4,0M434.87,296.09a2.0,2.0 0 1,0 4,0a2.0,2.0 0 1,0 -4,0M342.93,242.27a2.0,2.0 0 1,0 4,0a2.0,2.0 0 1,0 -4,0M392.09,271.86a2.0,2.0 0 1,0 4,0a2.0,2.0 0 1,0 -4,0M335.56,237.32a2.0,2.0 0 1,0 4,0a2.0,2.0 0 1,0 -4,0M433.84,295.03a2.0,2.0 0 1,0 4,0a2.0,2.0 0 1,0 -4,0M351.66,243.2a2.0,2.0 0 1,0 4,0a2.0,2.0 0 1,0 -4,0M353.81,246.74a2.0,2.0 0 1,0 4,0a2.0,2.0 0 1,0 -4,0M351.72,244.7a2.0,2.0 0 1,0 4,0a2.0,2.0 0 1,0 -4,0M332.93,235.88a2.0,2.0 0 1,0 4,0a2.0,2.0 0 1,0 -4,0M334.96,236.78a2.0,2.0 0 1,0 4,0a2.0,2.0 0 1,0 -4,0M328.3,227.87a2.0,2.0 0 1,0 4,0a2.0,2.0 0 1,0 -4,0M345.2,241.67a2.0,2.0 0 1,0 4,0a2.0,2.0 0 1,0 -4,0M329.68,230.62a2.0,2.0 0 1,0 4,0a2.0,2.0 0 1,0 -4,0M333.22,232.39a2.0,2.0 0 1,0 4,0a2.0,2.0 0 1,0 -4,0M332.74,236.23a2.0,2.0 0 1,0 4,0a2.0,2.0 0 1,0 -4,0M357.36,248.87a2.0,2.0 0 1,0 4,0a2.0,2.0 0 1,0 -4,0M353.06,246.44a2.0,2.0 0 1,0 4,0a2.0,2.0 0 1,0 -4,0M336.43,235.63a2.0,2.0 0 1,0 4,0a2.0,2.0 0 1,0 -4,0M359.04,247.39a2.0,2.0 0 1,0 4,0a2.0,2.0 0 1,0 -4,0M332.26,234.29a2.0,2.0 0 1,0 4,0a2.0,2.0 0 1,0 -4,0M331.64,233.77a2.0,2.0 0 1,0 4,0a2.0,2.0 0 1,0 -4,0M339.58,239.37a2.0,2.0 0 1,0 4,0a2.0,2.0 0 1,0 -4,0M353.58,245.03a2.0,2.0 0 1,0 4,0a2.0,2.0 0 1,0 -4,0M330.25,230.44a2.0,2.0 0 1,0 4,0a2.0,2.0 0 1,0 -4,0M353.03,247.28a2.0,2.0 0 1,0 4,0a2.0,2.0 0 1,0 -4,0M344.95,241.88a2.0,2.0 0 1,0 4,0a2.0,2.0 0 1,0 -4,0M353.35,248.17a2.0,2.0 0 1,0 4,0a2.0,2.0 0 1,0 -4,0M331.55,216.34a2.0,2.0 0 1,0 4,0a2.0,2.0 0 1,0 -4,0M366.52,245.52a2.0,2.0 0 1,0 4,0a2.0,2.0 0 1,0 -4,0M327.68,211.15a2.0,2.0 0 1,0 4,0a2.0,2.0 0 1,0 -4,0M358.88,238.71a2.0,2.0 0 1,0 4,0a2.0,2.0 0 1,0 -4,0M354.24,234.98a2.0,2.0 0 1,0 4,0a2.0,2.0 0 1,0 -4,0M330.78,213.83a2.0,2.0 0 1,0 4,0a2.0,2.0 0 1,0 -4,0M348.37,231.61a2.0,2.0 0 1,0 4,0a2.0,2.0 0 1,0 -4,0M361.07,243.23a2.0,2.0 0 1,0 4,0a2.0,2.0 0 1,0 -4,0M371.23,249.72a2.0,2.0 0 1,0 4,0a2.0,2.0 0 1,0 -4,0M330.93,215.79a2.0,2.0 0 1,0 4,0a2.0,2.0 0 1,0 -4,0M352.99,234.61a2.0,2.0 0 1,0 4,0a2.0,2.0 0 1,0 -4,0M367.56,247.45a2.0,2.0 0 1,0 4,0a2.0,2.0 0 1,0 -4,0M332.96,214.46a2.0,2.0 0 1,0 4,0a2.0,2.0 0 1,0 -4,0M372.52,250.13a2.0,2.0 0 1,0 4,0a2.0,2.0 0 1,0 -4,0M326.67,211.36a2.0,2.0 0 1,0 4,0a2.0,2.0 0 1,0 -4,0M332.57,210.78a2.0,2.0 0 1,0 4,0a2.0,2.0 0 1,0 -4,0M328.75,224.36a2.0,2.0 0 1,0 4,0a2.0,2.0 0 1,0 -4,0M330.44,208.01a2.0,2.0 0 1,0 4,0a2.0,2.0 0 1,0 -4,0M327.33,229.33a2.0,2.0 0 1,0 4,0a2.0,2.0 0 1,0 -4,0M329.54,210.04a2.0,2.0 0 1,0 4,0a2.0,2.0 0 1,0 -4,0M330.09,219.29a2.0,2.0 0 1,0 4,0a2.0,2.0 0 1,0 -4,0M334,208.58a2.0,2.0 0 1,0 4,0a2.0,2.0 0 1,0 -4,0M327.85,209.47a2.0,2.0 0 1,0 4,0a2.0,2.0 0 1,0 -4,0M330.63,238.7a2.0,2.0 0 1,0 4,0a2.0,2.0 0 1,0 -4,0M332.33,210.7a2.0,2.0 0 1,0 4,0a2.0,2.0 0 1,0 -4,0M330.55,218.81a2.0,2.0 0 1,0 4,0a2.0,2.0 0 1,0 -4,0M333.83,230.33a2.0,2.0 0 1,0 4,0a2.0,2.0 0 1,0 -4,0M331.03,215.47a2.0,2.0 0 1,0 4,0a2.0,2.0 0 1,0 -4,0" fill="#ff0000"/>
<polyline points="330,226 333,232 338,237 345,240 350,243 356,246.5 362,250 370,255 380,262 392,270 404,277.5 416,282.5 426,287 432,291 436,296 439.5,303" fill="none" stroke="#ff0000" stroke-width="1.8" stroke-linejoin="round" />
<path d="M331.21,237.31V241.47M368.34,258.61V264.93M387.04,267.44V274.87M366.56,260.32V264.87M438.35,296.09V305.97M367.08,256.86V264.39M422.17,279.43V286.18M418.35,280.65V284.82M416.6,279.26V284.74M383.62,265.38V271.41M384.44,265.55V273.45M421.95,281.22V286.26M342.82,246.2V253.11M354.5,253.71V259.33M331.41,238.57V245.95M383.56,262.9V271.03M379.42,262.98V270.09M434.17,286.57V295.08M431.46,285.29V293.03M374.24,261.88V266.38M384.06,265.57V273.51M341.45,246.42V253.32M412.09,277.35V285.9M386.58,265V274.63M348.29,250.36V256.47M425.58,282.07V291.17M334.64,242.71V248.09M350.99,250V257.91M382.02,264.47V268.5M438.67,299.98V308.93M345.11,246.87V253.54M359.05,255.95V262.68M416.23,279.39V286.38M366.65,258.56V264.8M431.27,286.98V292.36M332.06,237.87V246.02M355.93,253.51V261.27M363.77,258.2V262.52M422.45,280.19V285.81M341.14,243.11V252.7M403.46,275.09V280.78M426.66,282.76V288.53M436.19,290.23V297.7M417.85,279.23V285.47M335.51,239.91V249.6M332.86,236.86V246.76M330.75,231.74V236.52M329.98,221.68V227.03M330.94,233.64V238.66M334.88,242.38V249.04M333.6,240.3V246M330.04,220.36V228.4M331.29,234.65V243.97M329.53,221.36V225.79M336.41,245.01V249.17M415.02,276.4V281.07M359.31,252.3V258.16M398.58,268.53V273.34M351.46,248.43V255.02M331.75,225.31V231.49M396.09,265.09V273.46M404.75,270.94V280.74M362.33,252.74V262.6M425.52,278.18V284.7M399.31,268.61V276.47M361.5,253.77V258.56M403.22,270.07V277.73M411.16,273.41V282.72M344.33,242.62V251.94M417.62,278.51V283.35M372.27,258.31V263.3M357.06,250.7V260.11M366.88,252.99V261.17M381.21,260.83V269.4M381.09,261.35V265.75M358.96,252.41V260.13M336.71,237.71V241.85M390.93,265.6V274.02M399.17,268.39V277.16M397.05,267.79V273.72M368.67,256.97V260.98M412.48,274.22V282.61M332.64,225.28V235.27M343.28,242.35V250.07M332.74,228.89V235.09M334.17,231.85V237.83M333.44,238.29V247.16M331.98,236.73V246.54M335.37,232.29V238.48M332.92,235.02V240.34M334.95,228.41V238.39M331.36,232.57V239.13M333.74,227.76V234.42M335.86,235.13V240.99M334.25,232.07V240.42" stroke="#0000d4" stroke-width="0.9" fill="none"/>
<path d="M329.21,239.39a2.0,2.0 0 1,0 4,0a2.0,2.0 0 1,0 -4,0M366.34,261.77a2.0,2.0 0 1,0 4,0a2.0,2.0 0 1,0 -4,0M385.04,271.15a2.0,2.0 0 1,0 4,0a2.0,2.0 0 1,0 -4,0M364.56,262.6a2.0,2.0 0 1,0 4,0a2.0,2.0 0 1,0 -4,0M436.35,301.03a2.0,2.0 0 1,0 4,0a2.0,2.0 0 1,0 -4,0M365.08,260.62a2.0,2.0 0 1,0 4,0a2.0,2.0 0 1,0 -4,0M420.17,282.81a2.0,2.0 0 1,0 4,0a2.0,2.0 0 1,0 -4,0M416.35,282.74a2.0,2.0 0 1,0 4,0a2.0,2.0 0 1,0 -4,0M414.6,282a2.0,2.0 0 1,0 4,0a2.0,2.0 0 1,0 -4,0M381.62,268.4a2.0,2.0 0 1,0 4,0a2.0,2.0 0 1,0 -4,0M382.44,269.5a2.0,2.0 0 1,0 4,0a2.0,2.0 0 1,0 -4,0M419.95,283.74a2.0,2.0 0 1,0 4,0a2.0,2.0 0 1,0 -4,0M340.82,249.65a2.0,2.0 0 1,0 4,0a2.0,2.0 0 1,0 -4,0M352.5,256.52a2.0,2.0 0 1,0 4,0a2.0,2.0 0 1,0 -4,0M329.41,242.26a2.0,2.0 0 1,0 4,0a2.0,2.0 0 1,0 -4,0M381.56,266.97a2.0,2.0 0 1,0 4,0a2.0,2.0 0 1,0 -4,0M377.42,266.53a2.0,2.0 0 1,0 4,0a2.0,2.0 0 1,0 -4,0M432.17,290.83a2.0,2.0 0 1,0 4,0a2.0,2.0 0 1,0 -4,0M429.46,289.16a2.0,2.0 0 1,0 4,0a2.0,2.0 0 1,0 -4,0M372.24,264.13a2.0,2.0 0 1,0 4,0a2.0,2.0 0 1,0 -4,0M382.06,269.54a2.0,2.0 0 1,0 4,0a2.0,2.0 0 1,0 -4,0M339.45,249.87a2.0,2.0 0 1,0 4,0a2.0,2.0 0 1,0 -4,0M410.09,281.63a2.0,2.0 0 1,0 4,0a2.0,2.0 0 1,0 -4,0M384.58,269.81a2.0,2.0 0 1,0 4,0a2.0,2.0 0 1,0 -4,0M346.29,253.42a2.0,2.0 0 1,0 4,0a2.0,2.0 0 1,0 -4,0M423.58,286.62a2.0,2.0 0 1,0 4,0a2.0,2.0 0 1,0 -4,0M332.64,245.4a2.0,2.0 0 1,0 4,0a2.0,2.0 0 1,0 -4,0M348.99,253.96a2.0,2.0 0 1,0 4,0a2.0,2.0 0 1,0 -4,0M380.02,266.48a2.0,2.0 0 1,0 4,0a2.0,2.0 0 1,0 -4,0M436.67,304.46a2.0,2.0 0 1,0 4,0a2.0,2.0 0 1,0 -4,0M343.11,250.21a2.0,2.0 0 1,0 4,0a2.0,2.0 0 1,0 -4,0M357.05,259.32a2.0,2.0 0 1,0 4,0a2.0,2.0 0 1,0 -4,0M414.23,282.88a2.0,2.0 0 1,0 4,0a2.0,2.0 0 1,0 -4,0M364.65,261.68a2.0,2.0 0 1,0 4,0a2.0,2.0 0 1,0 -4,0M429.27,289.67a2.0,2.0 0 1,0 4,0a2.0,2.0 0 1,0 -4,0M330.06,241.95a2.0,2.0 0 1,0 4,0a2.0,2.0 0 1,0 -4,0M353.93,257.39a2.0,2.0 0 1,0 4,0a2.0,2.0 0 1,0 -4,0M361.77,260.36a2.0,2.0 0 1,0 4,0a2.0,2.0 0 1,0 -4,0M420.45,283a2.0,2.0 0 1,0 4,0a2.0,2.0 0 1,0 -4,0M339.14,247.91a2.0,2.0 0 1,0 4,0a2.0,2.0 0 1,0 -4,0M401.46,277.94a2.0,2.0 0 1,0 4,0a2.0,2.0 0 1,0 -4,0M424.66,285.64a2.0,2.0 0 1,0 4,0a2.0,2.0 0 1,0 -4,0M434.19,293.96a2.0,2.0 0 1,0 4,0a2.0,2.0 0 1,0 -4,0M415.85,282.35a2.0,2.0 0 1,0 4,0a2.0,2.0 0 1,0 -4,0M333.51,244.76a2.0,2.0 0 1,0 4,0a2.0,2.0 0 1,0 -4,0M330.86,241.81a2.0,2.0 0 1,0 4,0a2.0,2.0 0 1,0 -4,0M328.75,234.13a2.0,2.0 0 1,0 4,0a2.0,2.0 0 1,0 -4,0M327.98,224.35a2.0,2.0 0 1,0 4,0a2.0,2.0 0 1,0 -4,0M328.94,236.15a2.0,2.0 0 1,0 4,0a2.0,2.0 0 1,0 -4,0M332.88,245.71a2.0,2.0 0 1,0 4,0a2.0,2.0 0 1,0 -4,0M331.6,243.15a2.0,2.0 0 1,0 4,0a2.0,2.0 0 1,0 -4,0M328.04,224.38a2.0,2.0 0 1,0 4,0a2.0,2.0 0 1,0 -4,0M329.29,239.31a2.0,2.0 0 1,0 4,0a2.0,2.0 0 1,0 -4,0M327.53,223.57a2.0,2.0 0 1,0 4,0a2.0,2.0 0 1,0 -4,0M334.41,247.09a2.0,2.0 0 1,0 4,0a2.0,2.0 0 1,0 -4,0M413.02,278.73a2.0,2.0 0 1,0 4,0a2.0,2.0 0 1,0 -4,0M357.31,255.23a2.0,2.0 0 1,0 4,0a2.0,2.0 0 1,0 -4,0M396.58,270.93a2.0,2.0 0 1,0 4,0a2.0,2.0 0 1,0 -4,0M349.46,251.73a2.0,2.0 0 1,0 4,0a2.0,2.0 0 1,0 -4,0M329.75,228.4a2.0,2.0 0 1,0 4,0a2.0,2.0 0 1,0 -4,0M394.09,269.27a2.0,2.0 0 1,0 4,0a2.0,2.0 0 1,0 -4,0M402.75,275.84a2.0,2.0 0 1,0 4,0a2.0,2.0 0 1,0 -4,0M360.33,257.67a2.0,2.0 0 1,0 4,0a2.0,2.0 0 1,0 -4,0M423.52,281.44a2.0,2.0 0 1,0 4,0a2.0,2.0 0 1,0 -4,0M397.31,272.54a2.0,2.0 0 1,0 4,0a2.0,2.0 0 1,0 -4,0M359.5,256.17a2.0,2.0 0 1,0 4,0a2.0,2.0 0 1,0 -4,0M401.22,273.9a2.0,2.0 0 1,0 4,0a2.0,2.0 0 1,0 -4,0M409.16,278.06a2.0,2.0 0 1,0 4,0a2.0,2.0 0 1,0 -4,0M342.33,247.28a2.0,2.0 0 1,0 4,0a2.0,2.0 0 1,0 -4,0M415.62,280.93a2.0,2.0 0 1,0 4,0a2.0,2.0 0 1,0 -4,0M370.27,260.81a2.0,2.0 0 1,0 4,0a2.0,2.0 0 1,0 -4,0M355.06,255.4a2.0,2.0 0 1,0 4,0a2.0,2.0 0 1,0 -4,0M364.88,257.08a2.0,2.0 0 1,0 4,0a2.0,2.0 0 1,0 -4,0M379.21,265.11a2.0,2.0 0 1,0 4,0a2.0,2.0 0 1,0 -4,0M379.09,263.55a2.0,2.0 0 1,0 4,0a2.0,2.0 0 1,0 -4,0M356.96,256.27a2.0,2.0 0 1,0 4,0a2.0,2.0 0 1,0 -4,0M334.71,239.78a2.0,2.0 0 1,0 4,0a2.0,2.0 0 1,0 -4,0M388.93,269.81a2.0,2.0 0 1,0 4,0a2.0,2.0 0 1,0 -4,0M397.17,272.78a2.0,2.0 0 1,0 4,0a2.0,2.0 0 1,0 -4,0M395.05,270.76a2.0,2.0 0 1,0 4,0a2.0,2.0 0 1,0 -4,0M366.67,258.97a2.0,2.0 0 1,0 4,0a2.0,2.0 0 1,0 -4,0M410.48,278.42a2.0,2.0 0 1,0 4,0a2.0,2.0 0 1,0 -4,0M330.64,230.27a2.0,2.0 0 1,0 4,0a2.0,2.0 0 1,0 -4,0M341.28,246.21a2.0,2.0 0 1,0 4,0a2.0,2.0 0 1,0 -4,0M330.74,231.99a2.0,2.0 0 1,0 4,0a2.0,2.0 0 1,0 -4,0M332.17,234.84a2.0,2.0 0 1,0 4,0a2.0,2.0 0 1,0 -4,0M331.44,242.72a2.0,2.0 0 1,0 4,0a2.0,2.0 0 1,0 -4,0M329.98,241.63a2.0,2.0 0 1,0 4,0a2.0,2.0 0 1,0 -4,0M333.37,235.39a2.0,2.0 0 1,0 4,0a2.0,2.0 0 1,0 -4,0M330.92,237.68a2.0,2.0 0 1,0 4,0a2.0,2.0 0 1,0 -4,0M332.95,233.4a2.0,2.0 0 1,0 4,0a2.0,2.0 0 1,0 -4,0M329.36,235.85a2.0,2.0 0 1,0 4,0a2.0,2.0 0 1,0 -4,0M331.74,231.09a2.0,2.0 0 1,0 4,0a2.0,2.0 0 1,0 -4,0M333.86,238.06a2.0,2.0 0 1,0 4,0a2.0,2.0 0 1,0 -4,0M332.25,236.25a2.0,2.0 0 1,0 4,0a2.0,2.0 0 1,0 -4,0" fill="#0000d4"/>
<polyline points="330,224 331.4,240.9 336,246 344.1,251 350,254 362.3,259.5 370,262.5 380.4,267 390,271 396,274 406,278.3 416,281.5 424.3,284.5 431.6,288.5 435,293 437,296.5 439,304.5" fill="none" stroke="#0000d4" stroke-width="1.9" stroke-linejoin="round" />
<polyline points="330.6,227.7 336,238 341.1,244.5 350,251 362.3,256.5 372.9,260.5 390,268 406,275 426.2,283" fill="none" stroke="#0000d4" stroke-width="1.9" stroke-linejoin="round" />
<path d="M333.92,195.84V202.68M333.35,195.61V199.61M331.4,201.28V213.22M333.87,202.89V209.35M332.67,202.13V213.58M333.64,208.82V212.94M331.89,193.87V200.75M329.53,195.51V205.78" stroke="#0000d4" stroke-width="0.9" fill="none"/>
<path d="M332.02,199.26a1.9,1.9 0 1,0 3.8,0a1.9,1.9 0 1,0 -3.8,0M331.45,197.61a1.9,1.9 0 1,0 3.8,0a1.9,1.9 0 1,0 -3.8,0M329.5,207.25a1.9,1.9 0 1,0 3.8,0a1.9,1.9 0 1,0 -3.8,0M331.97,206.12a1.9,1.9 0 1,0 3.8,0a1.9,1.9 0 1,0 -3.8,0M330.77,207.85a1.9,1.9 0 1,0 3.8,0a1.9,1.9 0 1,0 -3.8,0M331.74,210.88a1.9,1.9 0 1,0 3.8,0a1.9,1.9 0 1,0 -3.8,0M329.99,197.31a1.9,1.9 0 1,0 3.8,0a1.9,1.9 0 1,0 -3.8,0M327.63,200.65a1.9,1.9 0 1,0 3.8,0a1.9,1.9 0 1,0 -3.8,0" fill="#0000d4"/>
<path d="M318.4,185.48V193.52M318.4,197.18V205.22M333,209.54V216.46M337,215.73V220.27M344,217.51V226.49M350,223.72V232.28M358.6,232.57V239.43M363.6,237.31V244.69M369,240.59V249.41M373.6,244.52V251.48M380,248.57V255.43M386.3,253.55V260.45M391,255.79V264.21M396.3,259.29V267.71M403.6,264.2V270.2M408,265.67V274.33M412.6,269.47V275.73M418,270.48V278.52M423.5,273.57V279.83" stroke="#ff0000" stroke-width="0.9" fill="none"/>
<path d="M318.4,186.1L321.63,189.5L318.4,192.9L315.17,189.5ZM318.4,197.8L321.63,201.2L318.4,204.6L315.17,201.2ZM333,209.6L336.23,213L333,216.4L329.77,213ZM337,214.6L340.23,218L337,221.4L333.77,218ZM344,218.6L347.23,222L344,225.4L340.77,222ZM350,224.6L353.23,228L350,231.4L346.77,228ZM358.6,232.6L361.83,236L358.6,239.4L355.37,236ZM363.6,237.6L366.83,241L363.6,244.4L360.37,241ZM369,241.6L372.23,245L369,248.4L365.77,245ZM373.6,244.6L376.83,248L373.6,251.4L370.37,248ZM380,248.6L383.23,252L380,255.4L376.77,252ZM386.3,253.6L389.53,257L386.3,260.4L383.07,257ZM391,256.6L394.23,260L391,263.4L387.77,260ZM396.3,260.1L399.53,263.5L396.3,266.9L393.07,263.5ZM403.6,263.8L406.83,267.2L403.6,270.6L400.37,267.2ZM408,266.6L411.23,270L408,273.4L404.77,270ZM412.6,269.2L415.83,272.6L412.6,276L409.37,272.6ZM418,271.1L421.23,274.5L418,277.9L414.77,274.5ZM423.5,273.3L426.73,276.7L423.5,280.1L420.27,276.7Z" fill="#ff0000" stroke="#ff0000" stroke-width="0.8" stroke-linejoin="miter"/>
<polyline points="318.4,201.2 325,207 333,212 340,219 346,225 352,230 360,237 370,245 380,252 390,259 396,263.5 404,267.5 413,272.2 424.3,276.7" fill="none" stroke="#ff0000" stroke-width="1.8" stroke-linejoin="round" />
<path d="M319.1,168V216.7" stroke="#ff0000" stroke-width="1.1"/>
<path d="M317.6,164.5V173.9M318.4,178.38V188.02M332.1,189.47V198.13M334.2,194.86V201.14M338.5,200.25V206.35M341.7,204.2V210.8M345.9,210.09V217.71M349,214.9V219.1M352.3,217.66V224.94M356.5,221.81V231.39M359.5,227.01V231.39M363.5,227.83V237.17M369.3,233.78V241.22M373.8,234.71V244.69M380,240.83V249.17M386.3,246.64V254.96M391,249.74V258.26M396.3,254.54V261.06M401,258.15V262.85M406.3,258.54V267.66M412.6,261.97V271.23M418,264.34V272.66M424.4,268.65V273.95" stroke="#0000d4" stroke-width="0.9" fill="none"/>
<path d="M317.6,165.8L320.83,169.2L317.6,172.6L314.37,169.2ZM318.4,179.8L321.63,183.2L318.4,186.6L315.17,183.2ZM332.1,190.4L335.33,193.8L332.1,197.2L328.87,193.8ZM334.2,194.6L337.43,198L334.2,201.4L330.97,198ZM338.5,199.9L341.73,203.3L338.5,206.7L335.27,203.3ZM341.7,204.1L344.93,207.5L341.7,210.9L338.47,207.5ZM345.9,210.5L349.13,213.9L345.9,217.3L342.67,213.9ZM349,213.6L352.23,217L349,220.4L345.77,217ZM352.3,217.9L355.53,221.3L352.3,224.7L349.07,221.3ZM356.5,223.2L359.73,226.6L356.5,230L353.27,226.6ZM359.5,225.8L362.73,229.2L359.5,232.6L356.27,229.2ZM363.5,229.1L366.73,232.5L363.5,235.9L360.27,232.5ZM369.3,234.1L372.53,237.5L369.3,240.9L366.07,237.5ZM373.8,236.3L377.03,239.7L373.8,243.1L370.57,239.7ZM380,241.6L383.23,245L380,248.4L376.77,245ZM386.3,247.4L389.53,250.8L386.3,254.2L383.07,250.8ZM391,250.6L394.23,254L391,257.4L387.77,254ZM396.3,254.4L399.53,257.8L396.3,261.2L393.07,257.8ZM401,257.1L404.23,260.5L401,263.9L397.77,260.5ZM406.3,259.7L409.53,263.1L406.3,266.5L403.07,263.1ZM412.6,263.2L415.83,266.6L412.6,270L409.37,266.6ZM418,265.1L421.23,268.5L418,271.9L414.77,268.5ZM424.4,267.9L427.63,271.3L424.4,274.7L421.17,271.3Z" fill="#0000d4" stroke="#0000d4" stroke-width="0.8" stroke-linejoin="miter"/>
<polyline points="317.6,184 332,198.5 342,209.5 352,221.5 360,230.5 371,240 386,251.5 396,258 406,262.5 413,266.5 426,272.2" fill="none" stroke="#0000d4" stroke-width="1.9" stroke-linejoin="round" />
<path d="M317.6,166V184" stroke="#0000d4" stroke-width="1.4"/>
<path d="M331.4,186V215M333,188V210" stroke="#0000d4" stroke-width="0.9"/>
<rect x="438.3" y="166" width="1.4" height="140" fill="#9a9aeb"/>
<rect x="439.6" y="166" width="2.1" height="140" fill="#ff0000"/>
<rect x="441.7" y="166" width="2.1" height="140" fill="#4050e0"/>
<rect x="443.8" y="166" width="1.2" height="140" fill="#701a90"/>
<rect x="445.0" y="166" width="1.3" height="140" fill="#2828d8"/>
</g>
<g clip-path="url(#ce)">
<path d="M528.46,253.7V262.3M519.93,245.86V256.74M525.82,259.26V268.87M536.5,265.4V272.71M554.23,264.96V274.73M545.59,261.98V272.55M534.64,257.92V266.8M543.6,262.96V267.54M539.71,260.06V266.66M546.29,264.38V273.31M537.53,266.52V273.08M514.66,233.46V238.62M553.42,269.24V276.44M537.71,265.28V270.26M553.1,267.66V274.98M559.2,271.94V276.63M542.78,266.01V275.1M519.85,247.02V252.51M520.09,243.07V253.62M522.95,258.03V262.78M500.82,244.16V252.58M546.81,265.57V274.07M537.46,258.12V263.51M545.17,268.06V276.45M521.06,248.5V256.34M510.79,235.08V243.39M550.68,270.03V275.32M525.17,254.44V261.77M508.67,225.84V235.69M519.51,248.62V256.95M508.63,242.42V248.12M517.48,241.03V247.37M543.62,260.83V270.99M543.77,268V272.37M520.66,238.86V246.21M550.1,267.71V275.3M533.54,259.92V266.93M531.57,263.66V267.68M497.55,243.57V248.32M535.83,256.08V265.98M554.16,273.21V280.4M534.57,251.51V257.55M536.28,257.84V265M533.15,263.13V267.5M505.3,249.52V254.09M516.57,238.41V248.21M499.35,219.41V228.72M513.87,245.53V250.91M556.21,267.66V273.88M515.21,243V247.54M537.32,258.3V264.52M539.2,256.51V264.16M499.76,231.64V240.91M542.6,259.07V266.61M500.03,233.67V243.6M501.13,241.9V252.88M540.51,257.55V265.52M522.8,243.42V247.72M502.53,231.89V236.84M552.29,271.71V280.42M544.45,266.89V271.8M533.8,255.92V266.22M538.32,261.74V266.12M522.05,257.53V261.92M515.96,241.04V252.01M539.79,267.05V273.9M518.71,245.11V252.99M522.33,243.86V252.03M519.35,254.88V259.71M508.83,240.5V246.85M514.89,246.7V253.28M545.72,259.96V269.12M527.64,247.62V257.09M537.73,261.4V270.27M510.94,236.22V241.48M516.09,241.18V248.41M553.24,270.96V281.37M546.86,265.52V270.74M525.8,248.18V254.63M525.99,259.51V267.82M564.2,271.09V282.06M568.99,280.65V284.83M573.87,277.19V286.02M562.39,274.89V282.12M583.64,284.02V291.73M593.19,286.75V296.64M572.09,276.49V281.16M587.5,280.08V288.27M603.1,296.17V302.39M582.7,279.63V288.91M563.56,273.26V282.26M595.56,286.09V293M564.56,276.87V281.93M581.62,282.38V291.73M578.93,283.11V292.01M600.14,290.09V298.04M584.68,282.11V291.33M580.72,281.6V292.25M592.44,288.93V294.64M571.63,276.44V285.26M585,282V291.65M560.74,276V281.86M580.61,276.68V287M599.33,291.69V297.89M594.06,286.75V297.45M588.65,286.66V294.74M562.57,269.88V280.69M567.53,275.14V285.34M570.1,271.23V280.7M566.27,272.21V278.8M504.1,223.32V230.53M502.97,212.24V220.35M503.92,217.27V226.9M497.37,213.9V220.82M498.26,220.47V230.77M498.5,224.37V229.88M498.45,229.82V237.46M509.14,221.26V226.28M497.08,236.57V241.76M497.26,228.58V234.62M507.35,225.43V229.76M509.37,215.54V223.53M506.81,233.6V241.94M509.46,232.99V239.76M563.17,276.03V285.61M568.89,277.79V285.61M594.5,290.22V299M558.86,278.54V283.14M549.4,273.2V279.5M532.38,266.89V271.04M545.52,272.76V277.88M540.68,266.99V276.94M600.63,297.58V302.52M553.49,271.55V279.72M556.78,277.94V284.59M604.07,297.78V306.49M582.51,281.86V291.96M562.98,275.05V284.86M538.01,265.4V276.16M557.76,273.09V283.85M552.11,275.66V282.45M602.09,293.09V304.01M561.98,276.46V285.8M603.93,298.24V304.19M550.53,275.19V281.49M533.6,263.2V270.87M598.35,293.63V303.54M535.71,267.77V272.46M589.89,287.05V297.29M575.25,284.31V293.01M551.57,274.46V282.62M593.4,291.14V297.99M562.62,278.36V285.03M604.75,296.17V303.01M572.41,279.55V288.56M601.73,296.56V303.66M600.72,292.1V301.1M558.59,275.44V285.57M582.55,285.88V290.49M585.33,287.28V291.41M579.79,284.31V294.9M531.76,266.18V271.54M582.29,285.25V294.95M587.89,287.29V294.12M544.72,270.75V276.33M537.24,270.09V274.18M535.13,267.35V274.35M571.36,281.53V289.73M538.07,265.8V270.18M594.44,293.73V297.81M561.56,275.75V281.76M605.66,295.64V305.8M585.78,286.25V295.5M562.55,277.02V282.82M543.88,270.79V277.62M562.42,278.86V285.77M576.14,280.58V289.54M595.47,293.41V299.41M597.79,295.43V301.92" stroke="#ff0000" stroke-width="0.9" fill="none"/>
<path d="M526.46,258a2.0,2.0 0 1,0 4,0a2.0,2.0 0 1,0 -4,0M517.93,251.3a2.0,2.0 0 1,0 4,0a2.0,2.0 0 1,0 -4,0M523.82,264.07a2.0,2.0 0 1,0 4,0a2.0,2.0 0 1,0 -4,0M534.5,269.05a2.0,2.0 0 1,0 4,0a2.0,2.0 0 1,0 -4,0M552.23,269.84a2.0,2.0 0 1,0 4,0a2.0,2.0 0 1,0 -4,0M543.59,267.27a2.0,2.0 0 1,0 4,0a2.0,2.0 0 1,0 -4,0M532.64,262.36a2.0,2.0 0 1,0 4,0a2.0,2.0 0 1,0 -4,0M541.6,265.25a2.0,2.0 0 1,0 4,0a2.0,2.0 0 1,0 -4,0M537.71,263.36a2.0,2.0 0 1,0 4,0a2.0,2.0 0 1,0 -4,0M544.29,268.85a2.0,2.0 0 1,0 4,0a2.0,2.0 0 1,0 -4,0M535.53,269.8a2.0,2.0 0 1,0 4,0a2.0,2.0 0 1,0 -4,0M512.66,236.04a2.0,2.0 0 1,0 4,0a2.0,2.0 0 1,0 -4,0M551.42,272.84a2.0,2.0 0 1,0 4,0a2.0,2.0 0 1,0 -4,0M535.71,267.77a2.0,2.0 0 1,0 4,0a2.0,2.0 0 1,0 -4,0M551.1,271.32a2.0,2.0 0 1,0 4,0a2.0,2.0 0 1,0 -4,0M557.2,274.29a2.0,2.0 0 1,0 4,0a2.0,2.0 0 1,0 -4,0M540.78,270.56a2.0,2.0 0 1,0 4,0a2.0,2.0 0 1,0 -4,0M517.85,249.76a2.0,2.0 0 1,0 4,0a2.0,2.0 0 1,0 -4,0M518.09,248.34a2.0,2.0 0 1,0 4,0a2.0,2.0 0 1,0 -4,0M520.95,260.4a2.0,2.0 0 1,0 4,0a2.0,2.0 0 1,0 -4,0M498.82,248.37a2.0,2.0 0 1,0 4,0a2.0,2.0 0 1,0 -4,0M544.81,269.82a2.0,2.0 0 1,0 4,0a2.0,2.0 0 1,0 -4,0M535.46,260.81a2.0,2.0 0 1,0 4,0a2.0,2.0 0 1,0 -4,0M543.17,272.25a2.0,2.0 0 1,0 4,0a2.0,2.0 0 1,0 -4,0M519.06,252.42a2.0,2.0 0 1,0 4,0a2.0,2.0 0 1,0 -4,0M508.79,239.24a2.0,2.0 0 1,0 4,0a2.0,2.0 0 1,0 -4,0M548.68,272.68a2.0,2.0 0 1,0 4,0a2.0,2.0 0 1,0 -4,0M523.17,258.1a2.0,2.0 0 1,0 4,0a2.0,2.0 0 1,0 -4,0M506.67,230.77a2.0,2.0 0 1,0 4,0a2.0,2.0 0 1,0 -4,0M517.51,252.79a2.0,2.0 0 1,0 4,0a2.0,2.0 0 1,0 -4,0M506.63,245.27a2.0,2.0 0 1,0 4,0a2.0,2.0 0 1,0 -4,0M515.48,244.2a2.0,2.0 0 1,0 4,0a2.0,2.0 0 1,0 -4,0M541.62,265.91a2.0,2.0 0 1,0 4,0a2.0,2.0 0 1,0 -4,0M541.77,270.18a2.0,2.0 0 1,0 4,0a2.0,2.0 0 1,0 -4,0M518.66,242.54a2.0,2.0 0 1,0 4,0a2.0,2.0 0 1,0 -4,0M548.1,271.5a2.0,2.0 0 1,0 4,0a2.0,2.0 0 1,0 -4,0M531.54,263.42a2.0,2.0 0 1,0 4,0a2.0,2.0 0 1,0 -4,0M529.57,265.67a2.0,2.0 0 1,0 4,0a2.0,2.0 0 1,0 -4,0M495.55,245.94a2.0,2.0 0 1,0 4,0a2.0,2.0 0 1,0 -4,0M533.83,261.03a2.0,2.0 0 1,0 4,0a2.0,2.0 0 1,0 -4,0M552.16,276.8a2.0,2.0 0 1,0 4,0a2.0,2.0 0 1,0 -4,0M532.57,254.53a2.0,2.0 0 1,0 4,0a2.0,2.0 0 1,0 -4,0M534.28,261.42a2.0,2.0 0 1,0 4,0a2.0,2.0 0 1,0 -4,0M531.15,265.32a2.0,2.0 0 1,0 4,0a2.0,2.0 0 1,0 -4,0M503.3,251.81a2.0,2.0 0 1,0 4,0a2.0,2.0 0 1,0 -4,0M514.57,243.31a2.0,2.0 0 1,0 4,0a2.0,2.0 0 1,0 -4,0M497.35,224.06a2.0,2.0 0 1,0 4,0a2.0,2.0 0 1,0 -4,0M511.87,248.22a2.0,2.0 0 1,0 4,0a2.0,2.0 0 1,0 -4,0M554.21,270.77a2.0,2.0 0 1,0 4,0a2.0,2.0 0 1,0 -4,0M513.21,245.27a2.0,2.0 0 1,0 4,0a2.0,2.0 0 1,0 -4,0M535.32,261.41a2.0,2.0 0 1,0 4,0a2.0,2.0 0 1,0 -4,0M537.2,260.33a2.0,2.0 0 1,0 4,0a2.0,2.0 0 1,0 -4,0M497.76,236.28a2.0,2.0 0 1,0 4,0a2.0,2.0 0 1,0 -4,0M540.6,262.84a2.0,2.0 0 1,0 4,0a2.0,2.0 0 1,0 -4,0M498.03,238.64a2.0,2.0 0 1,0 4,0a2.0,2.0 0 1,0 -4,0M499.13,247.39a2.0,2.0 0 1,0 4,0a2.0,2.0 0 1,0 -4,0M538.51,261.53a2.0,2.0 0 1,0 4,0a2.0,2.0 0 1,0 -4,0M520.8,245.57a2.0,2.0 0 1,0 4,0a2.0,2.0 0 1,0 -4,0M500.53,234.36a2.0,2.0 0 1,0 4,0a2.0,2.0 0 1,0 -4,0M550.29,276.07a2.0,2.0 0 1,0 4,0a2.0,2.0 0 1,0 -4,0M542.45,269.35a2.0,2.0 0 1,0 4,0a2.0,2.0 0 1,0 -4,0M531.8,261.07a2.0,2.0 0 1,0 4,0a2.0,2.0 0 1,0 -4,0M536.32,263.93a2.0,2.0 0 1,0 4,0a2.0,2.0 0 1,0 -4,0M520.05,259.72a2.0,2.0 0 1,0 4,0a2.0,2.0 0 1,0 -4,0M513.96,246.53a2.0,2.0 0 1,0 4,0a2.0,2.0 0 1,0 -4,0M537.79,270.48a2.0,2.0 0 1,0 4,0a2.0,2.0 0 1,0 -4,0M516.71,249.05a2.0,2.0 0 1,0 4,0a2.0,2.0 0 1,0 -4,0M520.33,247.95a2.0,2.0 0 1,0 4,0a2.0,2.0 0 1,0 -4,0M517.35,257.29a2.0,2.0 0 1,0 4,0a2.0,2.0 0 1,0 -4,0M506.83,243.68a2.0,2.0 0 1,0 4,0a2.0,2.0 0 1,0 -4,0M512.89,249.99a2.0,2.0 0 1,0 4,0a2.0,2.0 0 1,0 -4,0M543.72,264.54a2.0,2.0 0 1,0 4,0a2.0,2.0 0 1,0 -4,0M525.64,252.35a2.0,2.0 0 1,0 4,0a2.0,2.0 0 1,0 -4,0M535.73,265.83a2.0,2.0 0 1,0 4,0a2.0,2.0 0 1,0 -4,0M508.94,238.85a2.0,2.0 0 1,0 4,0a2.0,2.0 0 1,0 -4,0M514.09,244.79a2.0,2.0 0 1,0 4,0a2.0,2.0 0 1,0 -4,0M551.24,276.16a2.0,2.0 0 1,0 4,0a2.0,2.0 0 1,0 -4,0M544.86,268.13a2.0,2.0 0 1,0 4,0a2.0,2.0 0 1,0 -4,0M523.8,251.41a2.0,2.0 0 1,0 4,0a2.0,2.0 0 1,0 -4,0M523.99,263.67a2.0,2.0 0 1,0 4,0a2.0,2.0 0 1,0 -4,0M562.2,276.57a2.0,2.0 0 1,0 4,0a2.0,2.0 0 1,0 -4,0M566.99,282.74a2.0,2.0 0 1,0 4,0a2.0,2.0 0 1,0 -4,0M571.87,281.61a2.0,2.0 0 1,0 4,0a2.0,2.0 0 1,0 -4,0M560.39,278.51a2.0,2.0 0 1,0 4,0a2.0,2.0 0 1,0 -4,0M581.64,287.87a2.0,2.0 0 1,0 4,0a2.0,2.0 0 1,0 -4,0M591.19,291.69a2.0,2.0 0 1,0 4,0a2.0,2.0 0 1,0 -4,0M570.09,278.82a2.0,2.0 0 1,0 4,0a2.0,2.0 0 1,0 -4,0M585.5,284.18a2.0,2.0 0 1,0 4,0a2.0,2.0 0 1,0 -4,0M601.1,299.28a2.0,2.0 0 1,0 4,0a2.0,2.0 0 1,0 -4,0M580.7,284.27a2.0,2.0 0 1,0 4,0a2.0,2.0 0 1,0 -4,0M561.56,277.76a2.0,2.0 0 1,0 4,0a2.0,2.0 0 1,0 -4,0M593.56,289.54a2.0,2.0 0 1,0 4,0a2.0,2.0 0 1,0 -4,0M562.56,279.4a2.0,2.0 0 1,0 4,0a2.0,2.0 0 1,0 -4,0M579.62,287.06a2.0,2.0 0 1,0 4,0a2.0,2.0 0 1,0 -4,0M576.93,287.56a2.0,2.0 0 1,0 4,0a2.0,2.0 0 1,0 -4,0M598.14,294.07a2.0,2.0 0 1,0 4,0a2.0,2.0 0 1,0 -4,0M582.68,286.72a2.0,2.0 0 1,0 4,0a2.0,2.0 0 1,0 -4,0M578.72,286.92a2.0,2.0 0 1,0 4,0a2.0,2.0 0 1,0 -4,0M590.44,291.79a2.0,2.0 0 1,0 4,0a2.0,2.0 0 1,0 -4,0M569.63,280.85a2.0,2.0 0 1,0 4,0a2.0,2.0 0 1,0 -4,0M583,286.83a2.0,2.0 0 1,0 4,0a2.0,2.0 0 1,0 -4,0M558.74,278.93a2.0,2.0 0 1,0 4,0a2.0,2.0 0 1,0 -4,0M578.61,281.84a2.0,2.0 0 1,0 4,0a2.0,2.0 0 1,0 -4,0M597.33,294.79a2.0,2.0 0 1,0 4,0a2.0,2.0 0 1,0 -4,0M592.06,292.1a2.0,2.0 0 1,0 4,0a2.0,2.0 0 1,0 -4,0M586.65,290.7a2.0,2.0 0 1,0 4,0a2.0,2.0 0 1,0 -4,0M560.57,275.28a2.0,2.0 0 1,0 4,0a2.0,2.0 0 1,0 -4,0M565.53,280.24a2.0,2.0 0 1,0 4,0a2.0,2.0 0 1,0 -4,0M568.1,275.96a2.0,2.0 0 1,0 4,0a2.0,2.0 0 1,0 -4,0M564.27,275.51a2.0,2.0 0 1,0 4,0a2.0,2.0 0 1,0 -4,0M502.1,226.93a2.0,2.0 0 1,0 4,0a2.0,2.0 0 1,0 -4,0M500.97,216.29a2.0,2.0 0 1,0 4,0a2.0,2.0 0 1,0 -4,0M501.92,222.08a2.0,2.0 0 1,0 4,0a2.0,2.0 0 1,0 -4,0M495.37,217.36a2.0,2.0 0 1,0 4,0a2.0,2.0 0 1,0 -4,0M496.26,225.62a2.0,2.0 0 1,0 4,0a2.0,2.0 0 1,0 -4,0M496.5,227.12a2.0,2.0 0 1,0 4,0a2.0,2.0 0 1,0 -4,0M496.45,233.64a2.0,2.0 0 1,0 4,0a2.0,2.0 0 1,0 -4,0M507.14,223.77a2.0,2.0 0 1,0 4,0a2.0,2.0 0 1,0 -4,0M495.08,239.16a2.0,2.0 0 1,0 4,0a2.0,2.0 0 1,0 -4,0M495.26,231.6a2.0,2.0 0 1,0 4,0a2.0,2.0 0 1,0 -4,0M505.35,227.59a2.0,2.0 0 1,0 4,0a2.0,2.0 0 1,0 -4,0M507.37,219.54a2.0,2.0 0 1,0 4,0a2.0,2.0 0 1,0 -4,0M504.81,237.77a2.0,2.0 0 1,0 4,0a2.0,2.0 0 1,0 -4,0M507.46,236.38a2.0,2.0 0 1,0 4,0a2.0,2.0 0 1,0 -4,0M561.17,280.82a2.0,2.0 0 1,0 4,0a2.0,2.0 0 1,0 -4,0M566.89,281.7a2.0,2.0 0 1,0 4,0a2.0,2.0 0 1,0 -4,0M592.5,294.61a2.0,2.0 0 1,0 4,0a2.0,2.0 0 1,0 -4,0M556.86,280.84a2.0,2.0 0 1,0 4,0a2.0,2.0 0 1,0 -4,0M547.4,276.35a2.0,2.0 0 1,0 4,0a2.0,2.0 0 1,0 -4,0M530.38,268.96a2.0,2.0 0 1,0 4,0a2.0,2.0 0 1,0 -4,0M543.52,275.32a2.0,2.0 0 1,0 4,0a2.0,2.0 0 1,0 -4,0M538.68,271.97a2.0,2.0 0 1,0 4,0a2.0,2.0 0 1,0 -4,0M598.63,300.05a2.0,2.0 0 1,0 4,0a2.0,2.0 0 1,0 -4,0M551.49,275.64a2.0,2.0 0 1,0 4,0a2.0,2.0 0 1,0 -4,0M554.78,281.27a2.0,2.0 0 1,0 4,0a2.0,2.0 0 1,0 -4,0M602.07,302.14a2.0,2.0 0 1,0 4,0a2.0,2.0 0 1,0 -4,0M580.51,286.91a2.0,2.0 0 1,0 4,0a2.0,2.0 0 1,0 -4,0M560.98,279.96a2.0,2.0 0 1,0 4,0a2.0,2.0 0 1,0 -4,0M536.01,270.78a2.0,2.0 0 1,0 4,0a2.0,2.0 0 1,0 -4,0M555.76,278.47a2.0,2.0 0 1,0 4,0a2.0,2.0 0 1,0 -4,0M550.11,279.06a2.0,2.0 0 1,0 4,0a2.0,2.0 0 1,0 -4,0M600.09,298.55a2.0,2.0 0 1,0 4,0a2.0,2.0 0 1,0 -4,0M559.98,281.13a2.0,2.0 0 1,0 4,0a2.0,2.0 0 1,0 -4,0M601.93,301.21a2.0,2.0 0 1,0 4,0a2.0,2.0 0 1,0 -4,0M548.53,278.34a2.0,2.0 0 1,0 4,0a2.0,2.0 0 1,0 -4,0M531.6,267.03a2.0,2.0 0 1,0 4,0a2.0,2.0 0 1,0 -4,0M596.35,298.58a2.0,2.0 0 1,0 4,0a2.0,2.0 0 1,0 -4,0M533.71,270.11a2.0,2.0 0 1,0 4,0a2.0,2.0 0 1,0 -4,0M587.89,292.17a2.0,2.0 0 1,0 4,0a2.0,2.0 0 1,0 -4,0M573.25,288.66a2.0,2.0 0 1,0 4,0a2.0,2.0 0 1,0 -4,0M549.57,278.54a2.0,2.0 0 1,0 4,0a2.0,2.0 0 1,0 -4,0M591.4,294.56a2.0,2.0 0 1,0 4,0a2.0,2.0 0 1,0 -4,0M560.62,281.69a2.0,2.0 0 1,0 4,0a2.0,2.0 0 1,0 -4,0M602.75,299.59a2.0,2.0 0 1,0 4,0a2.0,2.0 0 1,0 -4,0M570.41,284.06a2.0,2.0 0 1,0 4,0a2.0,2.0 0 1,0 -4,0M599.73,300.11a2.0,2.0 0 1,0 4,0a2.0,2.0 0 1,0 -4,0M598.72,296.6a2.0,2.0 0 1,0 4,0a2.0,2.0 0 1,0 -4,0M556.59,280.5a2.0,2.0 0 1,0 4,0a2.0,2.0 0 1,0 -4,0M580.55,288.18a2.0,2.0 0 1,0 4,0a2.0,2.0 0 1,0 -4,0M583.33,289.34a2.0,2.0 0 1,0 4,0a2.0,2.0 0 1,0 -4,0M577.79,289.61a2.0,2.0 0 1,0 4,0a2.0,2.0 0 1,0 -4,0M529.76,268.86a2.0,2.0 0 1,0 4,0a2.0,2.0 0 1,0 -4,0M580.29,290.1a2.0,2.0 0 1,0 4,0a2.0,2.0 0 1,0 -4,0M585.89,290.71a2.0,2.0 0 1,0 4,0a2.0,2.0 0 1,0 -4,0M542.72,273.54a2.0,2.0 0 1,0 4,0a2.0,2.0 0 1,0 -4,0M535.24,272.14a2.0,2.0 0 1,0 4,0a2.0,2.0 0 1,0 -4,0M533.13,270.85a2.0,2.0 0 1,0 4,0a2.0,2.0 0 1,0 -4,0M569.36,285.63a2.0,2.0 0 1,0 4,0a2.0,2.0 0 1,0 -4,0M536.07,267.99a2.0,2.0 0 1,0 4,0a2.0,2.0 0 1,0 -4,0M592.44,295.77a2.0,2.0 0 1,0 4,0a2.0,2.0 0 1,0 -4,0M559.56,278.75a2.0,2.0 0 1,0 4,0a2.0,2.0 0 1,0 -4,0M603.66,300.72a2.0,2.0 0 1,0 4,0a2.0,2.0 0 1,0 -4,0M583.78,290.87a2.0,2.0 0 1,0 4,0a2.0,2.0 0 1,0 -4,0M560.55,279.92a2.0,2.0 0 1,0 4,0a2.0,2.0 0 1,0 -4,0M541.88,274.21a2.0,2.0 0 1,0 4,0a2.0,2.0 0 1,0 -4,0M560.42,282.31a2.0,2.0 0 1,0 4,0a2.0,2.0 0 1,0 -4,0M574.14,285.06a2.0,2.0 0 1,0 4,0a2.0,2.0 0 1,0 -4,0M593.47,296.41a2.0,2.0 0 1,0 4,0a2.0,2.0 0 1,0 -4,0M595.79,298.68a2.0,2.0 0 1,0 4,0a2.0,2.0 0 1,0 -4,0" fill="#ff0000"/>
<polyline points="525,264 540,271 547,274.5 556.7,279 571.1,285 585.6,290 595,294 600.1,298 606.1,303 607,305" fill="none" stroke="#ff0000" stroke-width="1.8" stroke-linejoin="round" />
<path d="M551.91,265.91V273.31M522.32,249.33V257.04M543.64,262.79V267.63M579,275.49V284.48M552.01,265.78V273.62M502.21,240.64V248.53M534.74,260V265.82M559.3,267.64V276.22M521.72,252.05V259.21M539.03,259.58V265.51M558.11,266.27V276.22M536.45,258.59V267.23M516.29,245.04V253.12M593.12,282.91V291.95M503.27,238.95V247.13M596.6,285.99V292.29M506.54,239.67V249.4M557.49,266.32V275.75M556.5,267.03V275.06M541.45,261.17V267.78M565.48,269.44V276.44M594.06,285.38V289.65M531.41,256.12V265.45M502.67,238.02V247M518.18,249.37V256.94M593.5,282.02V288.82M562.47,267.63V276.45M579.7,276.82V280.94M539.23,260.52V266.93M531.95,257.88V263.38M572.6,273.92V281.57M559.05,267.51V273.63M597.37,285.88V293.52M513.83,244.39V253.77M534.1,257.73V264.19M572.73,273.81V278.5M596.66,286.74V290.82M547.8,264.45V273.46M583.42,278.6V285.41M508.16,242.4V249.05M567,271.08V275.26M532.54,258.21V262.83M572.97,275.64V279.64M529.01,254.31V263.69M516.74,248.26V252.54M525.87,254.49V260.42M576.32,273.31V280.15M575.07,274.3V281.74M597.32,287.33V292.66M541.93,260.21V268.09M503.26,239.92V247.76M585.76,278.34V288.24M524.46,253.07V257.64M575.69,275.04V280.82M550.28,266.22V270.84M499.88,238.6V244.34M497.97,246.31V251.58M501.17,247.89V252.07M497.88,238.11V246.95M498.16,245.31V250.96M498.18,241.29V249.76M496.43,239.15V248.03M497.28,244.4V253.18M498.17,247.26V251.41M500.01,237.02V244.54M499.87,244.48V253.59M501.18,243.64V251.44" stroke="#0000d4" stroke-width="0.9" fill="none"/>
<path d="M549.91,269.61a2.0,2.0 0 1,0 4,0a2.0,2.0 0 1,0 -4,0M520.32,253.19a2.0,2.0 0 1,0 4,0a2.0,2.0 0 1,0 -4,0M541.64,265.21a2.0,2.0 0 1,0 4,0a2.0,2.0 0 1,0 -4,0M577,279.98a2.0,2.0 0 1,0 4,0a2.0,2.0 0 1,0 -4,0M550.01,269.7a2.0,2.0 0 1,0 4,0a2.0,2.0 0 1,0 -4,0M500.21,244.59a2.0,2.0 0 1,0 4,0a2.0,2.0 0 1,0 -4,0M532.74,262.91a2.0,2.0 0 1,0 4,0a2.0,2.0 0 1,0 -4,0M557.3,271.93a2.0,2.0 0 1,0 4,0a2.0,2.0 0 1,0 -4,0M519.72,255.63a2.0,2.0 0 1,0 4,0a2.0,2.0 0 1,0 -4,0M537.03,262.55a2.0,2.0 0 1,0 4,0a2.0,2.0 0 1,0 -4,0M556.11,271.24a2.0,2.0 0 1,0 4,0a2.0,2.0 0 1,0 -4,0M534.45,262.91a2.0,2.0 0 1,0 4,0a2.0,2.0 0 1,0 -4,0M514.29,249.08a2.0,2.0 0 1,0 4,0a2.0,2.0 0 1,0 -4,0M591.12,287.43a2.0,2.0 0 1,0 4,0a2.0,2.0 0 1,0 -4,0M501.27,243.04a2.0,2.0 0 1,0 4,0a2.0,2.0 0 1,0 -4,0M594.6,289.14a2.0,2.0 0 1,0 4,0a2.0,2.0 0 1,0 -4,0M504.54,244.54a2.0,2.0 0 1,0 4,0a2.0,2.0 0 1,0 -4,0M555.49,271.04a2.0,2.0 0 1,0 4,0a2.0,2.0 0 1,0 -4,0M554.5,271.05a2.0,2.0 0 1,0 4,0a2.0,2.0 0 1,0 -4,0M539.45,264.48a2.0,2.0 0 1,0 4,0a2.0,2.0 0 1,0 -4,0M563.48,272.94a2.0,2.0 0 1,0 4,0a2.0,2.0 0 1,0 -4,0M592.06,287.51a2.0,2.0 0 1,0 4,0a2.0,2.0 0 1,0 -4,0M529.41,260.79a2.0,2.0 0 1,0 4,0a2.0,2.0 0 1,0 -4,0M500.67,242.51a2.0,2.0 0 1,0 4,0a2.0,2.0 0 1,0 -4,0M516.18,253.15a2.0,2.0 0 1,0 4,0a2.0,2.0 0 1,0 -4,0M591.5,285.42a2.0,2.0 0 1,0 4,0a2.0,2.0 0 1,0 -4,0M560.47,272.04a2.0,2.0 0 1,0 4,0a2.0,2.0 0 1,0 -4,0M577.7,278.88a2.0,2.0 0 1,0 4,0a2.0,2.0 0 1,0 -4,0M537.23,263.72a2.0,2.0 0 1,0 4,0a2.0,2.0 0 1,0 -4,0M529.95,260.63a2.0,2.0 0 1,0 4,0a2.0,2.0 0 1,0 -4,0M570.6,277.74a2.0,2.0 0 1,0 4,0a2.0,2.0 0 1,0 -4,0M557.05,270.57a2.0,2.0 0 1,0 4,0a2.0,2.0 0 1,0 -4,0M595.37,289.7a2.0,2.0 0 1,0 4,0a2.0,2.0 0 1,0 -4,0M511.83,249.08a2.0,2.0 0 1,0 4,0a2.0,2.0 0 1,0 -4,0M532.1,260.96a2.0,2.0 0 1,0 4,0a2.0,2.0 0 1,0 -4,0M570.73,276.15a2.0,2.0 0 1,0 4,0a2.0,2.0 0 1,0 -4,0M594.66,288.78a2.0,2.0 0 1,0 4,0a2.0,2.0 0 1,0 -4,0M545.8,268.95a2.0,2.0 0 1,0 4,0a2.0,2.0 0 1,0 -4,0M581.42,282a2.0,2.0 0 1,0 4,0a2.0,2.0 0 1,0 -4,0M506.16,245.72a2.0,2.0 0 1,0 4,0a2.0,2.0 0 1,0 -4,0M565,273.17a2.0,2.0 0 1,0 4,0a2.0,2.0 0 1,0 -4,0M530.54,260.52a2.0,2.0 0 1,0 4,0a2.0,2.0 0 1,0 -4,0M570.97,277.64a2.0,2.0 0 1,0 4,0a2.0,2.0 0 1,0 -4,0M527.01,259a2.0,2.0 0 1,0 4,0a2.0,2.0 0 1,0 -4,0M514.74,250.4a2.0,2.0 0 1,0 4,0a2.0,2.0 0 1,0 -4,0M523.87,257.46a2.0,2.0 0 1,0 4,0a2.0,2.0 0 1,0 -4,0M574.32,276.73a2.0,2.0 0 1,0 4,0a2.0,2.0 0 1,0 -4,0M573.07,278.02a2.0,2.0 0 1,0 4,0a2.0,2.0 0 1,0 -4,0M595.32,290a2.0,2.0 0 1,0 4,0a2.0,2.0 0 1,0 -4,0M539.93,264.15a2.0,2.0 0 1,0 4,0a2.0,2.0 0 1,0 -4,0M501.26,243.84a2.0,2.0 0 1,0 4,0a2.0,2.0 0 1,0 -4,0M583.76,283.29a2.0,2.0 0 1,0 4,0a2.0,2.0 0 1,0 -4,0M522.46,255.36a2.0,2.0 0 1,0 4,0a2.0,2.0 0 1,0 -4,0M573.69,277.93a2.0,2.0 0 1,0 4,0a2.0,2.0 0 1,0 -4,0M548.28,268.53a2.0,2.0 0 1,0 4,0a2.0,2.0 0 1,0 -4,0M497.88,241.47a2.0,2.0 0 1,0 4,0a2.0,2.0 0 1,0 -4,0M495.97,248.95a2.0,2.0 0 1,0 4,0a2.0,2.0 0 1,0 -4,0M499.17,249.98a2.0,2.0 0 1,0 4,0a2.0,2.0 0 1,0 -4,0M495.88,242.53a2.0,2.0 0 1,0 4,0a2.0,2.0 0 1,0 -4,0M496.16,248.14a2.0,2.0 0 1,0 4,0a2.0,2.0 0 1,0 -4,0M496.18,245.52a2.0,2.0 0 1,0 4,0a2.0,2.0 0 1,0 -4,0M494.43,243.59a2.0,2.0 0 1,0 4,0a2.0,2.0 0 1,0 -4,0M495.28,248.79a2.0,2.0 0 1,0 4,0a2.0,2.0 0 1,0 -4,0M496.17,249.34a2.0,2.0 0 1,0 4,0a2.0,2.0 0 1,0 -4,0M498.01,240.78a2.0,2.0 0 1,0 4,0a2.0,2.0 0 1,0 -4,0M497.87,249.03a2.0,2.0 0 1,0 4,0a2.0,2.0 0 1,0 -4,0M499.18,247.54a2.0,2.0 0 1,0 4,0a2.0,2.0 0 1,0 -4,0" fill="#0000d4"/>
<polyline points="496.6,239.5 503,244 511.1,246.8 520,253 529.3,259.4 540,264.5 547.4,267.6 553,270.3 560,272 571.1,275.9 580.8,280 590.4,284.3 600.1,291.5 604.9,300 607,305" fill="none" stroke="#0000d4" stroke-width="1.9" stroke-linejoin="round" />
<path d="M491.4,196.9L494.63,200.3L491.4,203.7L488.17,200.3ZM491.4,210.6L494.63,214L491.4,217.4L488.17,214Z" fill="#ff0000" stroke="#ff0000" stroke-width="0.8" stroke-linejoin="miter"/>
<path d="M492.6,186V234" stroke="#ff0000" stroke-width="1.1"/>
<path d="M487.7,175.19V182.81M486.8,180.22V186.78M500.4,188.03V196.97M501.5,197.4V204.6M503.6,203.24V209.36M510,206.01V212.99M515.2,212.39V219.21M522.8,225.14V230.26M529.3,228.28V236.32M535,233.5V242.5M539.2,238.24V246.16M542,247.47V251.53M547.4,248.08V254.52M555.4,253.5V262.1M566.3,261.41V266.19M574.8,262.68V269.72M583.2,266.95V275.05M592.9,271.1V278.3" stroke="#0000d4" stroke-width="0.9" fill="none"/>
<path d="M487.7,175.6L490.93,179L487.7,182.4L484.47,179ZM486.8,180.1L490.03,183.5L486.8,186.9L483.57,183.5ZM500.4,189.1L503.63,192.5L500.4,195.9L497.17,192.5ZM501.5,197.6L504.73,201L501.5,204.4L498.27,201ZM503.6,202.9L506.83,206.3L503.6,209.7L500.37,206.3ZM510,206.1L513.23,209.5L510,212.9L506.77,209.5ZM515.2,212.4L518.43,215.8L515.2,219.2L511.97,215.8ZM522.8,224.3L526.03,227.7L522.8,231.1L519.57,227.7ZM529.3,228.9L532.53,232.3L529.3,235.7L526.07,232.3ZM535,234.6L538.23,238L535,241.4L531.77,238ZM539.2,238.8L542.43,242.2L539.2,245.6L535.97,242.2ZM542,246.1L545.23,249.5L542,252.9L538.77,249.5ZM547.4,247.9L550.63,251.3L547.4,254.7L544.17,251.3ZM555.4,254.4L558.63,257.8L555.4,261.2L552.17,257.8ZM566.3,260.4L569.53,263.8L566.3,267.2L563.07,263.8ZM574.8,262.8L578.03,266.2L574.8,269.6L571.57,266.2ZM583.2,267.6L586.43,271L583.2,274.4L579.97,271ZM592.9,271.3L596.13,274.7L592.9,278.1L589.67,274.7Z" fill="#0000d4" stroke="#0000d4" stroke-width="0.8" stroke-linejoin="miter"/>
<polyline points="485.6,182 530,231.7 540,243 547,250 556,257.5 566,263.5 575,267 583,271 593,275" fill="none" stroke="#0000d4" stroke-width="1.9" stroke-linejoin="round" />
<path d="M487.5,166V181M500.6,184V206.3" stroke="#0000d4" stroke-width="1.3"/>
<rect x="607.7" y="166" width="1.0" height="139" fill="#aab0f5"/>
<rect x="608.7" y="166" width="3.4" height="139" fill="#0000dc"/>
<rect x="612.1" y="166" width="1.1" height="139" fill="#ffb0b0"/>
</g>
<rect x="306.8" y="28.2" width="139.4" height="138.2" fill="none" stroke="#202020" stroke-width="0.9"/>
<rect x="306.8" y="166.4" width="139.4" height="137.9" fill="none" stroke="#202020" stroke-width="0.9"/>
<rect x="474.2" y="28.2" width="139.2" height="138.2" fill="none" stroke="#202020" stroke-width="0.9"/>
<rect x="474.2" y="166.4" width="139.2" height="137.9" fill="none" stroke="#202020" stroke-width="0.9"/>
<line x1="304.6" y1="43.5" x2="306.8" y2="43.5" stroke="#505050" stroke-width="0.8" />
<line x1="304.6" y1="74.4" x2="306.8" y2="74.4" stroke="#505050" stroke-width="0.8" />
<line x1="304.6" y1="104.6" x2="306.8" y2="104.6" stroke="#505050" stroke-width="0.8" />
<line x1="304.6" y1="135.3" x2="306.8" y2="135.3" stroke="#505050" stroke-width="0.8" />
<line x1="304.6" y1="166.4" x2="306.8" y2="166.4" stroke="#505050" stroke-width="0.8" />
<line x1="304.6" y1="189.4" x2="306.8" y2="189.4" stroke="#505050" stroke-width="0.8" />
<line x1="304.6" y1="212.6" x2="306.8" y2="212.6" stroke="#505050" stroke-width="0.8" />
<line x1="304.6" y1="235.8" x2="306.8" y2="235.8" stroke="#505050" stroke-width="0.8" />
<line x1="304.6" y1="258.8" x2="306.8" y2="258.8" stroke="#505050" stroke-width="0.8" />
<line x1="304.6" y1="281.7" x2="306.8" y2="281.7" stroke="#505050" stroke-width="0.8" />
<line x1="304.6" y1="304.5" x2="306.8" y2="304.5" stroke="#505050" stroke-width="0.8" />
<line x1="306.8" y1="304.3" x2="306.8" y2="306.5" stroke="#505050" stroke-width="0.8" />
<line x1="374.5" y1="304.3" x2="374.5" y2="306.5" stroke="#505050" stroke-width="0.8" />
<line x1="442.2" y1="304.3" x2="442.2" y2="306.5" stroke="#505050" stroke-width="0.8" />
<line x1="472" y1="43.5" x2="474.2" y2="43.5" stroke="#505050" stroke-width="0.8" />
<line x1="472" y1="74.4" x2="474.2" y2="74.4" stroke="#505050" stroke-width="0.8" />
<line x1="472" y1="104.6" x2="474.2" y2="104.6" stroke="#505050" stroke-width="0.8" />
<line x1="472" y1="135.3" x2="474.2" y2="135.3" stroke="#505050" stroke-width="0.8" />
<line x1="472" y1="166.4" x2="474.2" y2="166.4" stroke="#505050" stroke-width="0.8" />
<line x1="472" y1="189.4" x2="474.2" y2="189.4" stroke="#505050" stroke-width="0.8" />
<line x1="472" y1="212.6" x2="474.2" y2="212.6" stroke="#505050" stroke-width="0.8" />
<line x1="472" y1="235.8" x2="474.2" y2="235.8" stroke="#505050" stroke-width="0.8" />
<line x1="472" y1="258.8" x2="474.2" y2="258.8" stroke="#505050" stroke-width="0.8" />
<line x1="472" y1="281.7" x2="474.2" y2="281.7" stroke="#505050" stroke-width="0.8" />
<line x1="472" y1="304.5" x2="474.2" y2="304.5" stroke="#505050" stroke-width="0.8" />
<line x1="474.2" y1="304.3" x2="474.2" y2="306.5" stroke="#505050" stroke-width="0.8" />
<line x1="541.9" y1="304.3" x2="541.9" y2="306.5" stroke="#505050" stroke-width="0.8" />
<line x1="609.6" y1="304.3" x2="609.6" y2="306.5" stroke="#505050" stroke-width="0.8" />
<text x="302.6" y="47.25" font-size="10.3" text-anchor="end" fill="#000" textLength="6.5" lengthAdjust="spacingAndGlyphs"  >8</text>
<text x="302.6" y="78.15" font-size="10.3" text-anchor="end" fill="#000" textLength="6.5" lengthAdjust="spacingAndGlyphs"  >6</text>
<text x="302.6" y="108.35" font-size="10.3" text-anchor="end" fill="#000" textLength="6.5" lengthAdjust="spacingAndGlyphs"  >4</text>
<text x="302.6" y="139.05" font-size="10.3" text-anchor="end" fill="#000" textLength="6.5" lengthAdjust="spacingAndGlyphs"  >2</text>
<text x="302.6" y="170.35" font-size="10.3" text-anchor="end" fill="#000" textLength="6.5" lengthAdjust="spacingAndGlyphs"  >0</text>
<text x="469.8" y="47.25" font-size="10.3" text-anchor="end" fill="#000" textLength="6.5" lengthAdjust="spacingAndGlyphs"  >8</text>
<text x="469.8" y="78.15" font-size="10.3" text-anchor="end" fill="#000" textLength="6.5" lengthAdjust="spacingAndGlyphs"  >6</text>
<text x="469.8" y="108.35" font-size="10.3" text-anchor="end" fill="#000" textLength="6.5" lengthAdjust="spacingAndGlyphs"  >4</text>
<text x="469.8" y="139.05" font-size="10.3" text-anchor="end" fill="#000" textLength="6.5" lengthAdjust="spacingAndGlyphs"  >2</text>
<text x="469.8" y="170.35" font-size="10.3" text-anchor="end" fill="#000" textLength="6.5" lengthAdjust="spacingAndGlyphs"  >0</text>
<text x="302.2" y="193.15" font-size="10.3" text-anchor="end" fill="#000" textLength="22.6" lengthAdjust="spacingAndGlyphs"  >12.5</text>
<text x="302.2" y="216.45" font-size="10.3" text-anchor="end" fill="#000" textLength="22.6" lengthAdjust="spacingAndGlyphs"  >10.0</text>
<text x="302.2" y="239.65" font-size="10.3" text-anchor="end" fill="#000" textLength="16.2" lengthAdjust="spacingAndGlyphs"  >7.5</text>
<text x="302.2" y="262.65" font-size="10.3" text-anchor="end" fill="#000" textLength="16.2" lengthAdjust="spacingAndGlyphs"  >5.0</text>
<text x="302.2" y="285.75" font-size="10.3" text-anchor="end" fill="#000" textLength="16.2" lengthAdjust="spacingAndGlyphs"  >2.5</text>
<text x="302.2" y="308.75" font-size="10.3" text-anchor="end" fill="#000" textLength="16.2" lengthAdjust="spacingAndGlyphs"  >0.0</text>
<text x="469.5" y="193.15" font-size="10.3" text-anchor="end" fill="#000" textLength="22.6" lengthAdjust="spacingAndGlyphs"  >12.5</text>
<text x="469.5" y="216.45" font-size="10.3" text-anchor="end" fill="#000" textLength="22.6" lengthAdjust="spacingAndGlyphs"  >10.0</text>
<text x="469.5" y="239.65" font-size="10.3" text-anchor="end" fill="#000" textLength="16.2" lengthAdjust="spacingAndGlyphs"  >7.5</text>
<text x="469.5" y="262.65" font-size="10.3" text-anchor="end" fill="#000" textLength="16.2" lengthAdjust="spacingAndGlyphs"  >5.0</text>
<text x="469.5" y="285.75" font-size="10.3" text-anchor="end" fill="#000" textLength="16.2" lengthAdjust="spacingAndGlyphs"  >2.5</text>
<text x="469.5" y="308.75" font-size="10.3" text-anchor="end" fill="#000" textLength="16.2" lengthAdjust="spacingAndGlyphs"  >0.0</text>
<text x="306.8" y="316.9" font-size="10.3" text-anchor="middle" fill="#000" textLength="16" lengthAdjust="spacingAndGlyphs"  >0.0</text>
<text x="374.5" y="316.9" font-size="10.3" text-anchor="middle" fill="#000" textLength="16" lengthAdjust="spacingAndGlyphs"  >0.5</text>
<text x="442.2" y="316.9" font-size="10.3" text-anchor="middle" fill="#000" textLength="16" lengthAdjust="spacingAndGlyphs"  >1.0</text>
<text x="368" y="328.3" font-size="11" font-style="italic" fill="#000">ρ<tspan font-size="8" dy="1.2">pol</tspan></text>
<text x="474.2" y="316.9" font-size="10.3" text-anchor="middle" fill="#000" textLength="16" lengthAdjust="spacingAndGlyphs"  >0.0</text>
<text x="541.9" y="316.9" font-size="10.3" text-anchor="middle" fill="#000" textLength="16" lengthAdjust="spacingAndGlyphs"  >0.5</text>
<text x="609.6" y="316.9" font-size="10.3" text-anchor="middle" fill="#000" textLength="16" lengthAdjust="spacingAndGlyphs"  >1.0</text>
<text x="535.4" y="328.3" font-size="11" font-style="italic" fill="#000">ρ<tspan font-size="8" dy="1.2">pol</tspan></text>
<text x="308.4" y="37.4" font-size="10.8" text-anchor="start" fill="#000" textLength="8.4" lengthAdjust="spacingAndGlyphs"  >b)</text>
<text x="475.3" y="37.4" font-size="10.8" text-anchor="start" fill="#000" textLength="8.8" lengthAdjust="spacingAndGlyphs"  >c)</text>
<text x="308.4" y="177.5" font-size="10.8" text-anchor="start" fill="#000" textLength="8.4" lengthAdjust="spacingAndGlyphs"  >d)</text>
<text x="475.5" y="177.6" font-size="10.8" text-anchor="start" fill="#000" textLength="9.4" lengthAdjust="spacingAndGlyphs"  >e)</text>
<text x="371.2" y="40.9" font-size="12.8" text-anchor="start" fill="#000" textLength="61.9" lengthAdjust="spacingAndGlyphs"  >t=9.000s</text>
<text x="537" y="41.1" font-size="12.8" text-anchor="start" fill="#000" textLength="70.3" lengthAdjust="spacingAndGlyphs"  >t=11.000s</text>
<text x="462.3" y="14.1" font-size="14.2" text-anchor="middle" fill="#000" textLength="172.5" lengthAdjust="spacingAndGlyphs"  >#96501,red/#97781,blue</text>
<text transform="translate(290.9,96.5) rotate(-90)" font-size="11" text-anchor="middle" textLength="54.4" lengthAdjust="spacingAndGlyphs"><tspan font-style="italic">n</tspan><tspan font-size="7.7" dy="1.6" font-style="italic">e</tspan><tspan dy="-1.6">(10</tspan><tspan font-size="7.7" dy="-4.4">19</tspan><tspan dy="4.4">m</tspan><tspan font-size="7.7" dy="-4.4">−3</tspan><tspan dy="4.4">)</tspan></text>
<text transform="translate(274.4,235.5) rotate(-90)" font-size="11" text-anchor="middle" textLength="49.5" lengthAdjust="spacingAndGlyphs"><tspan font-style="italic">T</tspan><tspan font-size="7.7" dy="1.6" font-style="italic">e</tspan><tspan dy="-1.6" font-style="italic">, T</tspan><tspan font-size="7.7" dy="1.6" font-style="italic">i</tspan><tspan dy="-1.6">(keV)</tspan></text>
<path d="M401.8,174.5L404.65,177.5L401.8,180.5L398.95,177.5Z" fill="#ff0000" stroke="#ff0000" stroke-width="0.8" stroke-linejoin="miter"/>
<path d="M399.75,188.7a2.05,2.05 0 1,0 4.1,0a2.05,2.05 0 1,0 -4.1,0" fill="#ff0000"/>
<text x="409.4" y="181.3" font-size="10" textLength="5.2" lengthAdjust="spacingAndGlyphs">=</text>
<text x="409.4" y="192.0" font-size="10" textLength="5.2" lengthAdjust="spacingAndGlyphs">=</text>
<text x="416.6" y="183.0" font-size="13" font-style="italic">T</text>
<text x="424.0" y="185.5" font-size="8.5" font-style="italic">i</text>
<text x="416.0" y="193.4" font-size="13" font-style="italic">T</text>
<text x="423.8" y="195.4" font-size="8.5" font-style="italic">e</text>
</svg>
</body></html>
